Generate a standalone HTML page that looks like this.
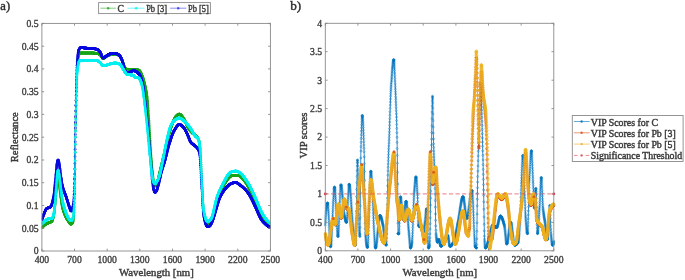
<!DOCTYPE html><html><head><meta charset="utf-8"><style>html,body{margin:0;padding:0;background:#fff;}svg{display:block;will-change:transform;} text{stroke:#3a3a3a;stroke-width:0.42px;} .tl text{stroke:#3c3c3c;stroke-width:0.34px;}</style></head><body><svg width="685" height="280" viewBox="0 0 685 280"><defs><marker id="mb" markerUnits="userSpaceOnUse" markerWidth="6" markerHeight="6" refX="3" refY="3" overflow="visible"><circle cx="3" cy="3" r="1.0" fill="none" stroke="#0072bd" stroke-width="0.55" stroke-opacity="0.8"/></marker><marker id="mo" markerUnits="userSpaceOnUse" markerWidth="6" markerHeight="6" refX="3" refY="3" overflow="visible"><circle cx="3" cy="3" r="1.1" fill="#d95319" fill-opacity="0.4" stroke="#d95319" stroke-width="0.5"/></marker><marker id="my" markerUnits="userSpaceOnUse" markerWidth="6" markerHeight="6" refX="3" refY="3" overflow="visible"><circle cx="3" cy="3" r="1.2" fill="none" stroke="#edb120" stroke-width="0.7"/></marker><marker id="lg" markerUnits="userSpaceOnUse" markerWidth="6" markerHeight="6" refX="3" refY="3" overflow="visible"><circle cx="3" cy="3" r="1.3" fill="#1aa51a"/></marker><marker id="lc" markerUnits="userSpaceOnUse" markerWidth="6" markerHeight="6" refX="3" refY="3" overflow="visible"><circle cx="3" cy="3" r="1.3" fill="#00f0f0"/></marker><marker id="lb" markerUnits="userSpaceOnUse" markerWidth="6" markerHeight="6" refX="3" refY="3" overflow="visible"><circle cx="3" cy="3" r="1.3" fill="#0a0ae0"/></marker></defs><rect width="685" height="280" fill="#fff"/><clipPath id="cl"><rect x="41.9" y="20.4" width="228.49999999999997" height="230.6"/></clipPath><g clip-path="url(#cl)" fill="none" stroke-linejoin="round"><path d="M41.9 227.9L42.0 227.8L42.1 227.6L42.2 227.5L42.3 227.4L42.4 227.3L42.6 227.1L42.7 227.0L42.8 226.9L42.9 226.7L43.0 226.6L43.1 226.5L43.2 226.4L43.3 226.3L43.4 226.1L43.5 226.0L43.6 225.9L43.7 225.8L43.9 225.7L44.0 225.6L44.1 225.5L44.2 225.4L44.3 225.3L44.4 225.2L44.5 225.1L44.6 225.0L44.7 224.9L44.8 224.8L44.9 224.8L45.1 224.7L45.2 224.6L45.3 224.5L45.4 224.5L45.5 224.4L45.6 224.3L45.7 224.3L45.8 224.2L45.9 224.1L46.0 224.1L46.1 224.0L46.3 223.9L46.4 223.9L46.5 223.8L46.6 223.8L46.7 223.7L46.8 223.7L46.9 223.6L47.0 223.6L47.1 223.5L47.2 223.5L47.3 223.4L47.4 223.4L47.6 223.3L47.7 223.3L47.8 223.2L47.9 223.2L48.0 223.1L48.1 223.1L48.2 223.0L48.3 223.0L48.4 222.9L48.5 222.9L48.6 222.8L48.8 222.8L48.9 222.7L49.0 222.7L49.1 222.6L49.2 222.6L49.3 222.5L49.4 222.5L49.5 222.5L49.6 222.4L49.7 222.4L49.8 222.4L50.0 222.3L50.1 222.3L50.2 222.2L50.3 222.2L50.4 222.2L50.5 222.1L50.6 222.1L50.7 222.0L50.8 222.0L50.9 221.9L51.0 221.9L51.1 221.8L51.3 221.7L51.4 221.7L51.5 221.6L51.6 221.5L51.7 221.4L51.8 221.3L51.9 221.2L52.0 221.0L52.1 220.8L52.2 220.6L52.3 220.3L52.5 220.0L52.6 219.7L52.7 219.4L52.8 219.1L52.9 218.7L53.0 218.3L53.1 217.9L53.2 217.5L53.3 217.0L53.4 216.6L53.5 216.1L53.7 215.6L53.8 215.1L53.9 214.6L54.0 214.0L54.1 213.4L54.2 212.6L54.3 211.8L54.4 210.9L54.5 209.9L54.6 208.9L54.7 207.8L54.8 206.7L55.0 205.6L55.1 204.4L55.2 203.3L55.3 202.1L55.4 200.9L55.5 199.8L55.6 198.6L55.7 197.5L55.8 196.4L55.9 195.2L56.0 194.0L56.2 192.8L56.3 191.4L56.4 190.1L56.5 188.8L56.6 187.5L56.7 186.3L56.8 185.2L56.9 184.2L57.0 183.4L57.1 182.7L57.2 182.1L57.4 181.6L57.5 181.0L57.6 180.5L57.7 180.0L57.8 179.6L57.9 179.3L58.0 179.1L58.1 179.1L58.2 179.2L58.3 179.4L58.4 179.8L58.5 180.4L58.7 181.0L58.8 181.6L58.9 182.3L59.0 183.0L59.1 183.6L59.2 184.3L59.3 185.1L59.4 185.9L59.5 186.8L59.6 187.7L59.7 188.7L59.9 189.6L60.0 190.6L60.1 191.5L60.2 192.4L60.3 193.3L60.4 194.1L60.5 194.9L60.6 195.7L60.7 196.4L60.8 197.2L60.9 198.0L61.1 198.8L61.2 199.5L61.3 200.3L61.4 201.1L61.5 201.8L61.6 202.5L61.7 203.2L61.8 203.9L61.9 204.5L62.0 205.1L62.1 205.7L62.2 206.3L62.4 206.8L62.5 207.3L62.6 207.8L62.7 208.2L62.8 208.6L62.9 209.0L63.0 209.4L63.1 209.8L63.2 210.1L63.3 210.5L63.4 210.9L63.6 211.2L63.7 211.5L63.8 211.9L63.9 212.2L64.0 212.5L64.1 212.8L64.2 213.1L64.3 213.4L64.4 213.6L64.5 213.9L64.6 214.2L64.8 214.5L64.9 214.7L65.0 215.0L65.1 215.2L65.2 215.5L65.3 215.7L65.4 215.9L65.5 216.2L65.6 216.4L65.7 216.6L65.8 216.9L65.9 217.1L66.1 217.3L66.2 217.5L66.3 217.7L66.4 217.9L66.5 218.1L66.6 218.3L66.7 218.5L66.8 218.7L66.9 218.9L67.0 219.1L67.1 219.3L67.3 219.5L67.4 219.6L67.5 219.8L67.6 220.0L67.7 220.1L67.8 220.3L67.9 220.5L68.0 220.6L68.1 220.8L68.2 221.0L68.3 221.1L68.4 221.3L68.6 221.4L68.7 221.6L68.8 221.7L68.9 221.9L69.0 222.1L69.1 222.2L69.2 222.4L69.3 222.6L69.4 222.8L69.5 222.9L69.6 223.1L69.8 223.3L69.9 223.4L70.0 223.5L70.1 223.7L70.2 223.8L70.3 223.9L70.4 224.0L70.5 224.0L70.6 224.1L70.7 224.1L70.8 224.1L71.0 224.1L71.1 224.1L71.2 224.1L71.3 224.0L71.4 224.0L71.5 223.9L71.6 223.8L71.7 223.7L71.8 223.6L71.9 223.5L72.0 223.4L72.1 223.2L72.3 223.1L72.4 222.9L72.5 222.7L72.6 222.5L72.7 222.3L72.8 222.1L72.9 221.9L73.0 221.6L73.1 221.1L73.2 220.5L73.3 219.7L73.5 218.8L73.6 217.8L73.7 216.6L73.8 215.3L73.9 213.9L74.0 212.3L74.1 210.1L74.2 207.0L74.3 203.1L74.4 198.5L74.5 193.5L74.7 188.2L74.8 182.7L74.9 176.5L75.0 169.0L75.1 160.8L75.2 152.4L75.3 144.4L75.4 137.2L75.5 130.6L75.6 124.1L75.7 117.8L75.8 111.6L76.0 105.9L76.1 100.5L76.2 95.8L76.3 91.7L76.4 88.0L76.5 84.4L76.6 81.0L76.7 77.8L76.8 74.8L76.9 72.0L77.0 69.6L77.2 67.5L77.3 65.7L77.4 64.4L77.5 63.3L77.6 62.2L77.7 61.3L77.8 60.4L77.9 59.5L78.0 58.8L78.1 58.0L78.2 57.4L78.4 56.8L78.5 56.3L78.6 55.8L78.7 55.4L78.8 55.1L78.9 54.8L79.0 54.6L79.1 54.3L79.2 54.1L79.3 53.9L79.4 53.7L79.5 53.5L79.7 53.4L79.8 53.2L79.9 53.1L80.0 53.1L80.1 53.0L80.2 53.0L80.3 53.0L80.4 53.0L80.5 53.0L80.6 53.0L80.7 53.0L80.9 53.0L81.0 53.0L81.1 53.0L81.2 53.0L81.3 53.0L81.4 53.0L81.5 53.0L81.6 53.0L81.7 53.0L81.8 53.0L81.9 53.0L82.1 53.0L82.2 53.0L82.3 53.0L82.4 53.0L82.5 53.0L82.6 53.0L82.7 53.0L82.8 53.0L82.9 53.0L83.0 53.0L83.1 53.0L83.2 53.0L83.4 53.0L83.5 53.0L83.6 53.0L83.7 53.0L83.8 53.0L83.9 53.0L84.0 53.0L84.1 53.0L84.2 53.0L84.3 53.0L84.4 53.0L84.6 53.0L84.7 53.0L84.8 53.0L84.9 53.0L85.0 53.0L85.1 53.0L85.2 53.0L85.3 53.0L85.4 53.0L85.5 53.0L85.6 53.0L85.8 53.0L85.9 53.0L86.0 53.0L86.1 53.0L86.2 53.0L86.3 53.0L86.4 53.0L86.5 53.0L86.6 53.0L86.7 53.0L86.8 53.0L86.9 53.0L87.1 53.0L87.2 53.0L87.3 53.0L87.4 53.0L87.5 53.0L87.6 53.0L87.7 53.0L87.8 53.0L87.9 53.0L88.0 53.0L88.1 53.0L88.3 53.0L88.4 53.0L88.5 53.0L88.6 53.0L88.7 53.0L88.8 53.0L88.9 53.0L89.0 53.0L89.1 53.0L89.2 53.0L89.3 53.0L89.4 53.0L89.6 53.0L89.7 53.0L89.8 53.0L89.9 53.0L90.0 53.0L90.1 53.0L90.2 53.0L90.3 53.0L90.4 53.0L90.5 53.0L90.6 53.0L90.8 53.0L90.9 53.0L91.0 53.0L91.1 53.0L91.2 53.0L91.3 53.0L91.4 53.0L91.5 53.0L91.6 53.0L91.7 53.0L91.8 53.0L92.0 53.0L92.1 53.0L92.2 53.0L92.3 53.0L92.4 53.0L92.5 53.0L92.6 53.0L92.7 53.0L92.8 53.0L92.9 53.0L93.0 53.0L93.1 53.1L93.3 53.1L93.4 53.1L93.5 53.1L93.6 53.1L93.7 53.1L93.8 53.1L93.9 53.1L94.0 53.1L94.1 53.1L94.2 53.1L94.3 53.1L94.5 53.1L94.6 53.2L94.7 53.2L94.8 53.2L94.9 53.2L95.0 53.2L95.1 53.2L95.2 53.2L95.3 53.2L95.4 53.2L95.5 53.3L95.7 53.3L95.8 53.3L95.9 53.3L96.0 53.3L96.1 53.3L96.2 53.3L96.3 53.3L96.4 53.4L96.5 53.4L96.6 53.4L96.7 53.4L96.8 53.4L97.0 53.4L97.1 53.4L97.2 53.5L97.3 53.5L97.4 53.5L97.5 53.5L97.6 53.6L97.7 53.6L97.8 53.6L97.9 53.7L98.0 53.7L98.2 53.7L98.3 53.8L98.4 53.8L98.5 53.9L98.6 53.9L98.7 54.0L98.8 54.0L98.9 54.1L99.0 54.2L99.1 54.2L99.2 54.3L99.4 54.3L99.5 54.4L99.6 54.5L99.7 54.5L99.8 54.6L99.9 54.7L100.0 54.7L100.1 54.8L100.2 54.9L100.3 55.0L100.4 55.1L100.5 55.2L100.7 55.4L100.8 55.5L100.9 55.7L101.0 55.8L101.1 56.0L101.2 56.2L101.3 56.3L101.4 56.5L101.5 56.7L101.6 56.9L101.7 57.1L101.9 57.2L102.0 57.4L102.1 57.6L102.2 57.7L102.3 57.8L102.4 58.0L102.5 58.1L102.6 58.2L102.7 58.3L102.8 58.4L102.9 58.4L103.1 58.4L103.2 58.5L103.3 58.4L103.4 58.4L103.5 58.4L103.6 58.4L103.7 58.3L103.8 58.3L103.9 58.2L104.0 58.2L104.1 58.1L104.2 58.0L104.4 57.9L104.5 57.9L104.6 57.8L104.7 57.7L104.8 57.6L104.9 57.5L105.0 57.4L105.1 57.3L105.2 57.2L105.3 57.2L105.4 57.1L105.6 57.0L105.7 56.9L105.8 56.8L105.9 56.8L106.0 56.7L106.1 56.6L106.2 56.6L106.3 56.5L106.4 56.5L106.5 56.4L106.6 56.3L106.8 56.3L106.9 56.2L107.0 56.2L107.1 56.1L107.2 56.1L107.3 56.0L107.4 55.9L107.5 55.9L107.6 55.8L107.7 55.8L107.8 55.7L107.9 55.7L108.1 55.6L108.2 55.6L108.3 55.5L108.4 55.5L108.5 55.4L108.6 55.4L108.7 55.3L108.8 55.3L108.9 55.2L109.0 55.2L109.1 55.1L109.3 55.1L109.4 55.0L109.5 55.0L109.6 55.0L109.7 54.9L109.8 54.9L109.9 54.9L110.0 54.8L110.1 54.8L110.2 54.8L110.3 54.8L110.4 54.7L110.6 54.7L110.7 54.7L110.8 54.6L110.9 54.6L111.0 54.6L111.1 54.6L111.2 54.5L111.3 54.5L111.4 54.5L111.5 54.4L111.6 54.4L111.8 54.4L111.9 54.4L112.0 54.3L112.1 54.3L112.2 54.3L112.3 54.3L112.4 54.2L112.5 54.2L112.6 54.2L112.7 54.2L112.8 54.1L113.0 54.1L113.1 54.1L113.2 54.1L113.3 54.1L113.4 54.0L113.5 54.0L113.6 54.0L113.7 54.0L113.8 54.0L113.9 54.0L114.0 54.0L114.1 53.9L114.3 53.9L114.4 53.9L114.5 53.9L114.6 53.9L114.7 53.9L114.8 53.9L114.9 53.9L115.0 53.9L115.1 53.9L115.2 53.9L115.3 53.9L115.5 53.9L115.6 53.9L115.7 53.9L115.8 54.0L115.9 54.0L116.0 54.0L116.1 54.0L116.2 54.1L116.3 54.1L116.4 54.1L116.5 54.1L116.7 54.2L116.8 54.2L116.9 54.3L117.0 54.3L117.1 54.4L117.2 54.4L117.3 54.5L117.4 54.5L117.5 54.6L117.6 54.6L117.7 54.7L117.8 54.7L118.0 54.8L118.1 54.9L118.2 54.9L118.3 55.0L118.4 55.1L118.5 55.1L118.6 55.2L118.7 55.3L118.8 55.3L118.9 55.4L119.0 55.5L119.2 55.6L119.3 55.6L119.4 55.7L119.5 55.8L119.6 55.9L119.7 56.0L119.8 56.1L119.9 56.2L120.0 56.4L120.1 56.5L120.2 56.7L120.4 56.8L120.5 57.0L120.6 57.1L120.7 57.3L120.8 57.5L120.9 57.7L121.0 57.9L121.1 58.1L121.2 58.3L121.3 58.5L121.4 58.7L121.5 58.9L121.7 59.1L121.8 59.4L121.9 59.7L122.0 60.0L122.1 60.3L122.2 60.6L122.3 60.9L122.4 61.3L122.5 61.6L122.6 61.9L122.7 62.3L122.9 62.6L123.0 62.9L123.1 63.2L123.2 63.5L123.3 63.8L123.4 64.1L123.5 64.4L123.6 64.6L123.7 64.9L123.8 65.2L123.9 65.5L124.1 65.8L124.2 66.1L124.3 66.4L124.4 66.7L124.5 66.9L124.6 67.2L124.7 67.5L124.8 67.7L124.9 68.0L125.0 68.2L125.1 68.4L125.2 68.5L125.4 68.7L125.5 68.8L125.6 68.9L125.7 68.9L125.8 68.9L125.9 69.0L126.0 69.0L126.1 69.0L126.2 69.1L126.3 69.1L126.4 69.1L126.6 69.1L126.7 69.2L126.8 69.2L126.9 69.2L127.0 69.2L127.1 69.2L127.2 69.2L127.3 69.3L127.4 69.3L127.5 69.3L127.6 69.3L127.8 69.3L127.9 69.3L128.0 69.3L128.1 69.3L128.2 69.4L128.3 69.4L128.4 69.4L128.5 69.4L128.6 69.4L128.7 69.4L128.8 69.4L128.9 69.4L129.1 69.4L129.2 69.4L129.3 69.4L129.4 69.4L129.5 69.4L129.6 69.4L129.7 69.4L129.8 69.4L129.9 69.4L130.0 69.4L130.1 69.4L130.3 69.4L130.4 69.4L130.5 69.4L130.6 69.4L130.7 69.4L130.8 69.4L130.9 69.4L131.0 69.4L131.1 69.4L131.2 69.4L131.3 69.4L131.5 69.4L131.6 69.4L131.7 69.4L131.8 69.4L131.9 69.4L132.0 69.4L132.1 69.4L132.2 69.4L132.3 69.4L132.4 69.4L132.5 69.4L132.6 69.4L132.8 69.4L132.9 69.4L133.0 69.4L133.1 69.4L133.2 69.4L133.3 69.4L133.4 69.4L133.5 69.4L133.6 69.4L133.7 69.4L133.8 69.4L134.0 69.4L134.1 69.4L134.2 69.4L134.3 69.4L134.4 69.4L134.5 69.4L134.6 69.4L134.7 69.4L134.8 69.4L134.9 69.4L135.0 69.4L135.1 69.4L135.3 69.4L135.4 69.4L135.5 69.4L135.6 69.4L135.7 69.4L135.8 69.4L135.9 69.4L136.0 69.5L136.1 69.5L136.2 69.5L136.3 69.5L136.5 69.5L136.6 69.6L136.7 69.6L136.8 69.6L136.9 69.6L137.0 69.7L137.1 69.7L137.2 69.7L137.3 69.8L137.4 69.8L137.5 69.9L137.7 69.9L137.8 69.9L137.9 70.0L138.0 70.0L138.1 70.1L138.2 70.1L138.3 70.2L138.4 70.2L138.5 70.3L138.6 70.3L138.7 70.4L138.8 70.4L139.0 70.5L139.1 70.6L139.2 70.6L139.3 70.7L139.4 70.7L139.5 70.8L139.6 70.9L139.7 71.0L139.8 71.1L139.9 71.3L140.0 71.4L140.2 71.6L140.3 71.7L140.4 71.9L140.5 72.1L140.6 72.3L140.7 72.5L140.8 72.7L140.9 73.0L141.0 73.2L141.1 73.4L141.2 73.7L141.4 73.9L141.5 74.2L141.6 74.4L141.7 74.7L141.8 75.0L141.9 75.2L142.0 75.5L142.1 75.7L142.2 76.0L142.3 76.3L142.4 76.6L142.5 76.9L142.7 77.2L142.8 77.5L142.9 77.8L143.0 78.1L143.1 78.5L143.2 78.8L143.3 79.1L143.4 79.5L143.5 79.9L143.6 80.3L143.7 80.6L143.9 81.0L144.0 81.4L144.1 81.8L144.2 82.2L144.3 82.7L144.4 83.1L144.5 83.5L144.6 84.0L144.7 84.4L144.8 84.8L144.9 85.3L145.1 85.8L145.2 86.2L145.3 86.7L145.4 87.2L145.5 87.7L145.6 88.1L145.7 88.6L145.8 89.2L145.9 89.7L146.0 90.2L146.1 90.8L146.2 91.4L146.4 92.0L146.5 92.7L146.6 93.3L146.7 94.0L146.8 94.7L146.9 95.5L147.0 96.3L147.1 97.1L147.2 98.1L147.3 99.1L147.4 100.2L147.6 101.4L147.7 102.7L147.8 104.1L147.9 105.5L148.0 107.0L148.1 108.6L148.2 110.2L148.3 111.8L148.4 113.5L148.5 115.2L148.6 116.9L148.8 118.5L148.9 120.2L149.0 121.9L149.1 123.5L149.2 125.2L149.3 127.0L149.4 128.8L149.5 130.6L149.6 132.5L149.7 134.4L149.8 136.4L149.9 138.3L150.1 140.2L150.2 142.1L150.3 144.0L150.4 145.8L150.5 147.6L150.6 149.2L150.7 150.9L150.8 152.4L150.9 154.0L151.0 155.5L151.1 157.0L151.3 158.5L151.4 159.9L151.5 161.3L151.6 162.7L151.7 164.1L151.8 165.4L151.9 166.7L152.0 167.9L152.1 169.1L152.2 170.3L152.3 171.3L152.5 172.4L152.6 173.5L152.7 174.5L152.8 175.6L152.9 176.6L153.0 177.6L153.1 178.6L153.2 179.5L153.3 180.3L153.4 181.0L153.5 181.7L153.6 182.3L153.8 182.7L153.9 183.1L154.0 183.5L154.1 183.9L154.2 184.3L154.3 184.6L154.4 184.9L154.5 185.2L154.6 185.4L154.7 185.6L154.8 185.8L155.0 185.9L155.1 185.9L155.2 185.9L155.3 185.9L155.4 185.8L155.5 185.7L155.6 185.6L155.7 185.5L155.8 185.4L155.9 185.3L156.0 185.1L156.1 185.0L156.3 184.8L156.4 184.6L156.5 184.4L156.6 184.3L156.7 184.1L156.8 183.9L156.9 183.7L157.0 183.4L157.1 183.1L157.2 182.8L157.3 182.4L157.5 182.0L157.6 181.6L157.7 181.2L157.8 180.8L157.9 180.3L158.0 179.9L158.1 179.4L158.2 178.9L158.3 178.4L158.4 177.9L158.5 177.4L158.7 176.9L158.8 176.4L158.9 176.0L159.0 175.5L159.1 175.0L159.2 174.5L159.3 174.1L159.4 173.6L159.5 173.2L159.6 172.7L159.7 172.3L159.8 171.9L160.0 171.4L160.1 171.0L160.2 170.5L160.3 170.1L160.4 169.6L160.5 169.2L160.6 168.7L160.7 168.3L160.8 167.8L160.9 167.4L161.0 166.9L161.2 166.5L161.3 166.0L161.4 165.5L161.5 165.1L161.6 164.6L161.7 164.2L161.8 163.7L161.9 163.2L162.0 162.8L162.1 162.3L162.2 161.8L162.4 161.4L162.5 160.9L162.6 160.5L162.7 160.0L162.8 159.5L162.9 159.1L163.0 158.6L163.1 158.2L163.2 157.7L163.3 157.2L163.4 156.8L163.5 156.3L163.7 155.9L163.8 155.4L163.9 155.0L164.0 154.5L164.1 154.0L164.2 153.6L164.3 153.1L164.4 152.6L164.5 152.2L164.6 151.7L164.7 151.2L164.9 150.7L165.0 150.3L165.1 149.8L165.2 149.3L165.3 148.8L165.4 148.4L165.5 147.9L165.6 147.4L165.7 146.9L165.8 146.5L165.9 146.0L166.1 145.5L166.2 145.0L166.3 144.6L166.4 144.1L166.5 143.6L166.6 143.2L166.7 142.7L166.8 142.3L166.9 141.8L167.0 141.4L167.1 140.9L167.2 140.5L167.4 140.1L167.5 139.6L167.6 139.2L167.7 138.8L167.8 138.4L167.9 138.0L168.0 137.6L168.1 137.2L168.2 136.8L168.3 136.4L168.4 136.0L168.6 135.7L168.7 135.3L168.8 134.9L168.9 134.5L169.0 134.1L169.1 133.8L169.2 133.4L169.3 133.0L169.4 132.6L169.5 132.3L169.6 131.9L169.8 131.5L169.9 131.2L170.0 130.8L170.1 130.5L170.2 130.1L170.3 129.8L170.4 129.4L170.5 129.1L170.6 128.7L170.7 128.4L170.8 128.1L170.9 127.7L171.1 127.4L171.2 127.1L171.3 126.8L171.4 126.5L171.5 126.2L171.6 125.8L171.7 125.5L171.8 125.2L171.9 125.0L172.0 124.7L172.1 124.4L172.3 124.1L172.4 123.8L172.5 123.5L172.6 123.3L172.7 123.0L172.8 122.7L172.9 122.5L173.0 122.2L173.1 121.9L173.2 121.6L173.3 121.4L173.5 121.1L173.6 120.8L173.7 120.6L173.8 120.3L173.9 120.1L174.0 119.8L174.1 119.6L174.2 119.3L174.3 119.1L174.4 118.8L174.5 118.6L174.6 118.4L174.8 118.2L174.9 118.0L175.0 117.8L175.1 117.6L175.2 117.4L175.3 117.3L175.4 117.1L175.5 117.0L175.6 116.8L175.7 116.7L175.8 116.6L176.0 116.5L176.1 116.4L176.2 116.2L176.3 116.1L176.4 116.0L176.5 115.9L176.6 115.8L176.7 115.7L176.8 115.6L176.9 115.5L177.0 115.4L177.2 115.3L177.3 115.2L177.4 115.1L177.5 115.0L177.6 114.9L177.7 114.8L177.8 114.7L177.9 114.6L178.0 114.6L178.1 114.5L178.2 114.4L178.3 114.4L178.5 114.3L178.6 114.3L178.7 114.2L178.8 114.2L178.9 114.2L179.0 114.2L179.1 114.1L179.2 114.1L179.3 114.1L179.4 114.1L179.5 114.1L179.7 114.2L179.8 114.2L179.9 114.2L180.0 114.3L180.1 114.3L180.2 114.4L180.3 114.5L180.4 114.6L180.5 114.6L180.6 114.7L180.7 114.8L180.8 114.9L181.0 115.0L181.1 115.1L181.2 115.3L181.3 115.4L181.4 115.5L181.5 115.6L181.6 115.8L181.7 115.9L181.8 116.0L181.9 116.2L182.0 116.3L182.2 116.5L182.3 116.6L182.4 116.8L182.5 116.9L182.6 117.1L182.7 117.2L182.8 117.4L182.9 117.5L183.0 117.6L183.1 117.8L183.2 117.9L183.4 118.1L183.5 118.2L183.6 118.4L183.7 118.5L183.8 118.7L183.9 118.9L184.0 119.1L184.1 119.3L184.2 119.5L184.3 119.7L184.4 119.9L184.5 120.1L184.7 120.3L184.8 120.5L184.9 120.8L185.0 121.0L185.1 121.2L185.2 121.5L185.3 121.7L185.4 122.0L185.5 122.2L185.6 122.5L185.7 122.7L185.9 123.0L186.0 123.2L186.1 123.5L186.2 123.7L186.3 124.0L186.4 124.2L186.5 124.5L186.6 124.7L186.7 125.0L186.8 125.2L186.9 125.5L187.1 125.7L187.2 125.9L187.3 126.2L187.4 126.4L187.5 126.6L187.6 126.8L187.7 127.1L187.8 127.3L187.9 127.5L188.0 127.7L188.1 127.9L188.2 128.0L188.4 128.2L188.5 128.4L188.6 128.6L188.7 128.7L188.8 128.9L188.9 129.0L189.0 129.2L189.1 129.3L189.2 129.5L189.3 129.6L189.4 129.7L189.6 129.9L189.7 130.0L189.8 130.1L189.9 130.3L190.0 130.4L190.1 130.5L190.2 130.7L190.3 130.8L190.4 130.9L190.5 131.0L190.6 131.2L190.8 131.3L190.9 131.4L191.0 131.5L191.1 131.6L191.2 131.8L191.3 131.9L191.4 132.0L191.5 132.1L191.6 132.2L191.7 132.3L191.8 132.4L191.9 132.5L192.1 132.6L192.2 132.8L192.3 132.9L192.4 133.0L192.5 133.1L192.6 133.2L192.7 133.3L192.8 133.4L192.9 133.5L193.0 133.6L193.1 133.6L193.3 133.7L193.4 133.8L193.5 133.9L193.6 134.0L193.7 134.1L193.8 134.2L193.9 134.3L194.0 134.4L194.1 134.5L194.2 134.5L194.3 134.6L194.5 134.7L194.6 134.8L194.7 134.9L194.8 135.0L194.9 135.1L195.0 135.2L195.1 135.3L195.2 135.4L195.3 135.5L195.4 135.6L195.5 135.7L195.6 135.8L195.8 135.9L195.9 136.1L196.0 136.2L196.1 136.3L196.2 136.4L196.3 136.5L196.4 136.5L196.5 136.6L196.6 136.7L196.7 136.8L196.8 136.9L197.0 137.1L197.1 137.2L197.2 137.3L197.3 137.4L197.4 137.5L197.5 137.6L197.6 137.8L197.7 137.9L197.8 138.1L197.9 138.2L198.0 138.4L198.2 138.6L198.3 138.8L198.4 139.0L198.5 139.2L198.6 139.5L198.7 139.8L198.8 140.1L198.9 140.6L199.0 141.1L199.1 141.6L199.2 142.3L199.3 143.0L199.5 143.7L199.6 144.5L199.7 145.4L199.8 146.3L199.9 147.2L200.0 148.3L200.1 149.6L200.2 151.1L200.3 152.8L200.4 154.6L200.5 156.5L200.7 158.5L200.8 160.5L200.9 162.5L201.0 164.5L201.1 166.6L201.2 168.7L201.3 171.0L201.4 173.4L201.5 175.8L201.6 178.2L201.7 180.5L201.8 182.9L202.0 185.1L202.1 187.3L202.2 189.4L202.3 191.6L202.4 193.8L202.5 196.0L202.6 198.2L202.7 200.3L202.8 202.4L202.9 204.3L203.0 206.0L203.2 207.6L203.3 208.9L203.4 210.0L203.5 210.9L203.6 211.8L203.7 212.6L203.8 213.3L203.9 214.0L204.0 214.6L204.1 215.2L204.2 215.8L204.4 216.3L204.5 216.8L204.6 217.3L204.7 217.8L204.8 218.2L204.9 218.7L205.0 219.1L205.1 219.5L205.2 219.9L205.3 220.3L205.4 220.7L205.5 221.1L205.7 221.4L205.8 221.8L205.9 222.0L206.0 222.3L206.1 222.6L206.2 222.8L206.3 223.0L206.4 223.2L206.5 223.4L206.6 223.6L206.7 223.7L206.9 223.9L207.0 224.1L207.1 224.3L207.2 224.4L207.3 224.5L207.4 224.6L207.5 224.7L207.6 224.8L207.7 224.8L207.8 224.8L207.9 224.8L208.1 224.8L208.2 224.8L208.3 224.7L208.4 224.7L208.5 224.6L208.6 224.6L208.7 224.5L208.8 224.4L208.9 224.3L209.0 224.3L209.1 224.2L209.2 224.1L209.4 224.0L209.5 223.9L209.6 223.8L209.7 223.7L209.8 223.6L209.9 223.5L210.0 223.3L210.1 223.2L210.2 223.1L210.3 222.9L210.4 222.7L210.6 222.6L210.7 222.4L210.8 222.2L210.9 222.0L211.0 221.8L211.1 221.6L211.2 221.4L211.3 221.2L211.4 221.0L211.5 220.7L211.6 220.5L211.8 220.2L211.9 220.0L212.0 219.7L212.1 219.4L212.2 219.1L212.3 218.8L212.4 218.5L212.5 218.2L212.6 217.8L212.7 217.5L212.8 217.1L212.9 216.8L213.1 216.4L213.2 216.0L213.3 215.6L213.4 215.2L213.5 214.8L213.6 214.4L213.7 214.0L213.8 213.6L213.9 213.2L214.0 212.8L214.1 212.3L214.3 211.9L214.4 211.5L214.5 211.0L214.6 210.6L214.7 210.1L214.8 209.7L214.9 209.2L215.0 208.8L215.1 208.4L215.2 207.9L215.3 207.5L215.5 207.0L215.6 206.6L215.7 206.1L215.8 205.7L215.9 205.2L216.0 204.8L216.1 204.4L216.2 203.9L216.3 203.5L216.4 203.1L216.5 202.6L216.6 202.2L216.8 201.8L216.9 201.4L217.0 201.0L217.1 200.6L217.2 200.2L217.3 199.9L217.4 199.5L217.5 199.1L217.6 198.8L217.7 198.4L217.8 198.1L218.0 197.8L218.1 197.4L218.2 197.1L218.3 196.8L218.4 196.6L218.5 196.3L218.6 196.0L218.7 195.7L218.8 195.5L218.9 195.2L219.0 194.9L219.2 194.7L219.3 194.4L219.4 194.1L219.5 193.9L219.6 193.6L219.7 193.4L219.8 193.1L219.9 192.9L220.0 192.6L220.1 192.4L220.2 192.1L220.3 191.9L220.5 191.7L220.6 191.4L220.7 191.2L220.8 191.0L220.9 190.7L221.0 190.5L221.1 190.3L221.2 190.0L221.3 189.8L221.4 189.6L221.5 189.4L221.7 189.2L221.8 188.9L221.9 188.7L222.0 188.5L222.1 188.3L222.2 188.1L222.3 187.9L222.4 187.7L222.5 187.5L222.6 187.3L222.7 187.1L222.9 186.9L223.0 186.7L223.1 186.5L223.2 186.3L223.3 186.1L223.4 185.9L223.5 185.7L223.6 185.5L223.7 185.3L223.8 185.1L223.9 184.9L224.0 184.7L224.2 184.5L224.3 184.4L224.4 184.2L224.5 184.0L224.6 183.8L224.7 183.6L224.8 183.4L224.9 183.3L225.0 183.1L225.1 182.9L225.2 182.7L225.4 182.6L225.5 182.4L225.6 182.2L225.7 182.0L225.8 181.9L225.9 181.7L226.0 181.5L226.1 181.3L226.2 181.2L226.3 181.0L226.4 180.8L226.5 180.7L226.7 180.5L226.8 180.4L226.9 180.2L227.0 180.1L227.1 179.9L227.2 179.8L227.3 179.6L227.4 179.5L227.5 179.3L227.6 179.2L227.7 179.0L227.9 178.9L228.0 178.8L228.1 178.6L228.2 178.5L228.3 178.4L228.4 178.3L228.5 178.2L228.6 178.1L228.7 177.9L228.8 177.8L228.9 177.7L229.1 177.6L229.2 177.5L229.3 177.4L229.4 177.2L229.5 177.1L229.6 177.0L229.7 176.9L229.8 176.8L229.9 176.7L230.0 176.6L230.1 176.5L230.2 176.4L230.4 176.3L230.5 176.2L230.6 176.2L230.7 176.1L230.8 176.1L230.9 176.0L231.0 176.0L231.1 175.9L231.2 175.9L231.3 175.9L231.4 175.8L231.6 175.8L231.7 175.8L231.8 175.8L231.9 175.8L232.0 175.7L232.1 175.7L232.2 175.7L232.3 175.7L232.4 175.7L232.5 175.6L232.6 175.6L232.8 175.6L232.9 175.6L233.0 175.6L233.1 175.6L233.2 175.5L233.3 175.5L233.4 175.5L233.5 175.5L233.6 175.5L233.7 175.5L233.8 175.5L233.9 175.4L234.1 175.4L234.2 175.4L234.3 175.4L234.4 175.4L234.5 175.4L234.6 175.4L234.7 175.4L234.8 175.3L234.9 175.3L235.0 175.3L235.1 175.3L235.3 175.3L235.4 175.3L235.5 175.3L235.6 175.3L235.7 175.3L235.8 175.3L235.9 175.3L236.0 175.3L236.1 175.3L236.2 175.2L236.3 175.2L236.5 175.2L236.6 175.2L236.7 175.2L236.8 175.2L236.9 175.2L237.0 175.2L237.1 175.2L237.2 175.2L237.3 175.2L237.4 175.2L237.5 175.2L237.6 175.2L237.8 175.2L237.9 175.2L238.0 175.2L238.1 175.2L238.2 175.3L238.3 175.3L238.4 175.3L238.5 175.4L238.6 175.4L238.7 175.4L238.8 175.5L239.0 175.5L239.1 175.6L239.2 175.7L239.3 175.7L239.4 175.8L239.5 175.9L239.6 176.0L239.7 176.0L239.8 176.1L239.9 176.2L240.0 176.3L240.2 176.4L240.3 176.5L240.4 176.6L240.5 176.7L240.6 176.8L240.7 176.9L240.8 177.0L240.9 177.1L241.0 177.2L241.1 177.3L241.2 177.4L241.3 177.5L241.5 177.6L241.6 177.7L241.7 177.8L241.8 177.9L241.9 178.0L242.0 178.1L242.1 178.2L242.2 178.3L242.3 178.4L242.4 178.5L242.5 178.6L242.7 178.7L242.8 178.8L242.9 178.9L243.0 179.0L243.1 179.1L243.2 179.2L243.3 179.4L243.4 179.5L243.5 179.6L243.6 179.7L243.7 179.9L243.9 180.0L244.0 180.1L244.1 180.2L244.2 180.4L244.3 180.5L244.4 180.6L244.5 180.8L244.6 180.9L244.7 181.1L244.8 181.2L244.9 181.4L245.0 181.5L245.2 181.7L245.3 181.8L245.4 182.0L245.5 182.1L245.6 182.3L245.7 182.4L245.8 182.6L245.9 182.7L246.0 182.9L246.1 183.0L246.2 183.2L246.4 183.4L246.5 183.5L246.6 183.7L246.7 183.9L246.8 184.1L246.9 184.3L247.0 184.4L247.1 184.6L247.2 184.8L247.3 185.0L247.4 185.2L247.5 185.4L247.7 185.6L247.8 185.8L247.9 186.0L248.0 186.2L248.1 186.4L248.2 186.6L248.3 186.8L248.4 187.0L248.5 187.2L248.6 187.4L248.7 187.7L248.9 187.9L249.0 188.1L249.1 188.3L249.2 188.5L249.3 188.7L249.4 188.9L249.5 189.1L249.6 189.3L249.7 189.5L249.8 189.8L249.9 190.0L250.1 190.2L250.2 190.4L250.3 190.6L250.4 190.8L250.5 191.0L250.6 191.3L250.7 191.5L250.8 191.7L250.9 191.9L251.0 192.1L251.1 192.4L251.2 192.6L251.4 192.8L251.5 193.0L251.6 193.3L251.7 193.5L251.8 193.7L251.9 193.9L252.0 194.2L252.1 194.4L252.2 194.6L252.3 194.9L252.4 195.1L252.6 195.3L252.7 195.6L252.8 195.8L252.9 196.0L253.0 196.3L253.1 196.5L253.2 196.7L253.3 197.0L253.4 197.2L253.5 197.4L253.6 197.7L253.8 197.9L253.9 198.1L254.0 198.4L254.1 198.6L254.2 198.8L254.3 199.1L254.4 199.3L254.5 199.5L254.6 199.8L254.7 200.0L254.8 200.2L254.9 200.5L255.1 200.7L255.2 200.9L255.3 201.2L255.4 201.4L255.5 201.6L255.6 201.9L255.7 202.1L255.8 202.3L255.9 202.6L256.0 202.8L256.1 203.1L256.3 203.3L256.4 203.6L256.5 203.8L256.6 204.0L256.7 204.3L256.8 204.5L256.9 204.8L257.0 205.0L257.1 205.3L257.2 205.5L257.3 205.8L257.5 206.0L257.6 206.3L257.7 206.5L257.8 206.8L257.9 207.0L258.0 207.3L258.1 207.5L258.2 207.8L258.3 208.0L258.4 208.2L258.5 208.5L258.6 208.7L258.8 209.0L258.9 209.2L259.0 209.5L259.1 209.7L259.2 210.0L259.3 210.2L259.4 210.4L259.5 210.7L259.6 210.9L259.7 211.1L259.8 211.4L260.0 211.6L260.1 211.8L260.2 212.1L260.3 212.3L260.4 212.5L260.5 212.7L260.6 213.0L260.7 213.2L260.8 213.4L260.9 213.6L261.0 213.8L261.2 214.0L261.3 214.2L261.4 214.4L261.5 214.6L261.6 214.8L261.7 215.0L261.8 215.2L261.9 215.4L262.0 215.6L262.1 215.8L262.2 216.0L262.3 216.2L262.5 216.4L262.6 216.6L262.7 216.8L262.8 217.0L262.9 217.2L263.0 217.3L263.1 217.5L263.2 217.7L263.3 217.9L263.4 218.1L263.5 218.3L263.7 218.4L263.8 218.6L263.9 218.8L264.0 219.0L264.1 219.1L264.2 219.3L264.3 219.5L264.4 219.6L264.5 219.8L264.6 220.0L264.7 220.1L264.9 220.3L265.0 220.4L265.1 220.6L265.2 220.8L265.3 220.9L265.4 221.0L265.5 221.2L265.6 221.3L265.7 221.5L265.8 221.6L265.9 221.7L266.0 221.9L266.2 222.0L266.3 222.1L266.4 222.2L266.5 222.4L266.6 222.5L266.7 222.6L266.8 222.7L266.9 222.9L267.0 223.0L267.1 223.1L267.2 223.2L267.4 223.3L267.5 223.4L267.6 223.6L267.7 223.7L267.8 223.8L267.9 223.9L268.0 224.0L268.1 224.1L268.2 224.2L268.3 224.3L268.4 224.4L268.6 224.5L268.7 224.6L268.8 224.7L268.9 224.8L269.0 224.9L269.1 225.0L269.2 225.1L269.3 225.2L269.4 225.3L269.5 225.4L269.6 225.4L269.7 225.5L269.9 225.6L270.0 225.7L270.1 225.7L270.2 225.8L270.3 225.9L270.4 226.0" stroke="#1aa51a" stroke-width="1.3" marker-mid="url(#lg)"/><path d="M41.9 220.0L42.0 219.7L42.1 219.3L42.2 219.0L42.3 218.6L42.4 218.3L42.6 217.9L42.7 217.6L42.8 217.2L42.9 216.9L43.0 216.6L43.1 216.3L43.2 216.0L43.3 215.7L43.4 215.4L43.5 215.1L43.6 214.8L43.7 214.5L43.9 214.2L44.0 213.9L44.1 213.7L44.2 213.4L44.3 213.1L44.4 212.9L44.5 212.6L44.6 212.3L44.7 212.1L44.8 211.8L44.9 211.5L45.1 211.3L45.2 211.0L45.3 210.8L45.4 210.5L45.5 210.3L45.6 210.1L45.7 209.9L45.8 209.7L45.9 209.5L46.0 209.3L46.1 209.1L46.3 209.0L46.4 208.9L46.5 208.8L46.6 208.7L46.7 208.6L46.8 208.5L46.9 208.4L47.0 208.4L47.1 208.3L47.2 208.3L47.3 208.2L47.4 208.2L47.6 208.1L47.7 208.1L47.8 208.0L47.9 208.0L48.0 208.0L48.1 207.9L48.2 207.9L48.3 207.9L48.4 207.8L48.5 207.8L48.6 207.8L48.8 207.7L48.9 207.7L49.0 207.7L49.1 207.6L49.2 207.6L49.3 207.6L49.4 207.5L49.5 207.5L49.6 207.4L49.7 207.4L49.8 207.3L50.0 207.3L50.1 207.2L50.2 207.2L50.3 207.1L50.4 207.0L50.5 206.9L50.6 206.8L50.7 206.7L50.8 206.6L50.9 206.5L51.0 206.3L51.1 206.1L51.3 205.8L51.4 205.6L51.5 205.3L51.6 205.0L51.7 204.7L51.8 204.4L51.9 204.0L52.0 203.7L52.1 203.3L52.2 202.9L52.3 202.5L52.5 202.0L52.6 201.6L52.7 201.1L52.8 200.7L52.9 200.2L53.0 199.7L53.1 199.2L53.2 198.7L53.3 198.2L53.4 197.6L53.5 197.0L53.7 196.3L53.8 195.5L53.9 194.7L54.0 193.9L54.1 192.9L54.2 192.0L54.3 191.0L54.4 189.9L54.5 188.9L54.6 187.8L54.7 186.7L54.8 185.6L55.0 184.5L55.1 183.4L55.2 182.3L55.3 181.2L55.4 180.1L55.5 179.1L55.6 178.0L55.7 176.8L55.8 175.6L55.9 174.3L56.0 173.0L56.2 171.7L56.3 170.4L56.4 169.2L56.5 168.1L56.6 167.0L56.7 166.0L56.8 165.2L56.9 164.5L57.0 163.9L57.1 163.3L57.2 162.7L57.4 162.2L57.5 161.7L57.6 161.2L57.7 160.8L57.8 160.4L57.9 160.2L58.0 160.0L58.1 160.0L58.2 160.0L58.3 160.2L58.4 160.5L58.5 160.8L58.7 161.2L58.8 161.7L58.9 162.3L59.0 162.8L59.1 163.4L59.2 164.0L59.3 164.5L59.4 165.1L59.5 165.8L59.6 166.6L59.7 167.4L59.9 168.3L60.0 169.2L60.1 170.2L60.2 171.1L60.3 172.0L60.4 172.9L60.5 173.7L60.6 174.5L60.7 175.3L60.8 176.0L60.9 176.8L61.1 177.5L61.2 178.2L61.3 179.0L61.4 179.7L61.5 180.4L61.6 181.1L61.7 181.7L61.8 182.4L61.9 183.0L62.0 183.7L62.1 184.3L62.2 184.8L62.4 185.4L62.5 185.9L62.6 186.4L62.7 186.8L62.8 187.3L62.9 187.7L63.0 188.1L63.1 188.5L63.2 188.8L63.3 189.2L63.4 189.6L63.6 189.9L63.7 190.2L63.8 190.6L63.9 190.9L64.0 191.2L64.1 191.5L64.2 191.8L64.3 192.1L64.4 192.4L64.5 192.7L64.6 193.0L64.8 193.2L64.9 193.5L65.0 193.8L65.1 194.0L65.2 194.3L65.3 194.5L65.4 194.8L65.5 195.1L65.6 195.3L65.7 195.6L65.8 195.9L65.9 196.2L66.1 196.5L66.2 196.9L66.3 197.2L66.4 197.5L66.5 197.8L66.6 198.2L66.7 198.5L66.8 198.9L66.9 199.2L67.0 199.6L67.1 199.9L67.3 200.2L67.4 200.6L67.5 200.9L67.6 201.3L67.7 201.6L67.8 202.0L67.9 202.3L68.0 202.7L68.1 203.0L68.2 203.4L68.3 203.8L68.4 204.1L68.6 204.5L68.7 204.8L68.8 205.2L68.9 205.5L69.0 205.9L69.1 206.2L69.2 206.5L69.3 206.9L69.4 207.2L69.5 207.5L69.6 207.8L69.8 208.1L69.9 208.4L70.0 208.7L70.1 209.0L70.2 209.3L70.3 209.7L70.4 210.0L70.5 210.2L70.6 210.5L70.7 210.7L70.8 210.8L71.0 210.9L71.1 210.9L71.2 210.9L71.3 210.9L71.4 210.8L71.5 210.7L71.6 210.5L71.7 210.3L71.8 210.1L71.9 209.9L72.0 209.6L72.1 209.4L72.3 209.1L72.4 208.7L72.5 208.4L72.6 208.0L72.7 207.6L72.8 207.3L72.9 206.8L73.0 206.4L73.1 205.8L73.2 205.1L73.3 204.2L73.5 203.2L73.6 202.1L73.7 200.9L73.8 199.5L73.9 198.0L74.0 196.4L74.1 194.2L74.2 191.3L74.3 187.6L74.4 183.5L74.5 178.9L74.7 174.0L74.8 169.1L74.9 163.4L75.0 156.6L75.1 149.2L75.2 141.7L75.3 134.5L75.4 128.1L75.5 122.2L75.6 116.4L75.7 110.8L75.8 105.3L76.0 100.2L76.1 95.4L76.2 91.0L76.3 87.1L76.4 83.6L76.5 80.1L76.6 76.7L76.7 73.5L76.8 70.4L76.9 67.7L77.0 65.2L77.2 63.0L77.3 61.2L77.4 59.8L77.5 58.7L77.6 57.6L77.7 56.6L77.8 55.6L77.9 54.7L78.0 53.9L78.1 53.1L78.2 52.4L78.4 51.8L78.5 51.2L78.6 50.8L78.7 50.4L78.8 50.0L78.9 49.8L79.0 49.6L79.1 49.4L79.2 49.2L79.3 49.0L79.4 48.9L79.5 48.7L79.7 48.6L79.8 48.4L79.9 48.3L80.0 48.2L80.1 48.0L80.2 47.9L80.3 47.8L80.4 47.8L80.5 47.7L80.6 47.6L80.7 47.6L80.9 47.6L81.0 47.5L81.1 47.5L81.2 47.5L81.3 47.5L81.4 47.5L81.5 47.5L81.6 47.6L81.7 47.6L81.8 47.6L81.9 47.6L82.1 47.6L82.2 47.6L82.3 47.6L82.4 47.6L82.5 47.7L82.6 47.7L82.7 47.7L82.8 47.7L82.9 47.7L83.0 47.8L83.1 47.8L83.2 47.8L83.4 47.8L83.5 47.8L83.6 47.9L83.7 47.9L83.8 47.9L83.9 47.9L84.0 47.9L84.1 47.9L84.2 48.0L84.3 48.0L84.4 48.0L84.6 48.0L84.7 48.0L84.8 48.0L84.9 48.0L85.0 48.0L85.1 48.0L85.2 48.0L85.3 48.1L85.4 48.1L85.5 48.1L85.6 48.1L85.8 48.1L85.9 48.1L86.0 48.1L86.1 48.1L86.2 48.1L86.3 48.1L86.4 48.1L86.5 48.1L86.6 48.1L86.7 48.2L86.8 48.2L86.9 48.2L87.1 48.2L87.2 48.2L87.3 48.2L87.4 48.2L87.5 48.2L87.6 48.2L87.7 48.2L87.8 48.2L87.9 48.2L88.0 48.2L88.1 48.2L88.3 48.2L88.4 48.3L88.5 48.3L88.6 48.3L88.7 48.3L88.8 48.3L88.9 48.3L89.0 48.3L89.1 48.3L89.2 48.3L89.3 48.3L89.4 48.3L89.6 48.3L89.7 48.3L89.8 48.3L89.9 48.4L90.0 48.4L90.1 48.4L90.2 48.4L90.3 48.4L90.4 48.4L90.5 48.4L90.6 48.4L90.8 48.4L90.9 48.4L91.0 48.4L91.1 48.5L91.2 48.5L91.3 48.5L91.4 48.5L91.5 48.5L91.6 48.5L91.7 48.5L91.8 48.5L92.0 48.5L92.1 48.5L92.2 48.6L92.3 48.6L92.4 48.6L92.5 48.6L92.6 48.6L92.7 48.6L92.8 48.6L92.9 48.6L93.0 48.6L93.1 48.7L93.3 48.7L93.4 48.7L93.5 48.7L93.6 48.7L93.7 48.7L93.8 48.7L93.9 48.7L94.0 48.8L94.1 48.8L94.2 48.8L94.3 48.8L94.5 48.8L94.6 48.8L94.7 48.8L94.8 48.9L94.9 48.9L95.0 48.9L95.1 48.9L95.2 48.9L95.3 48.9L95.4 49.0L95.5 49.0L95.7 49.0L95.8 49.0L95.9 49.0L96.0 49.1L96.1 49.1L96.2 49.1L96.3 49.1L96.4 49.2L96.5 49.2L96.6 49.2L96.7 49.2L96.8 49.3L97.0 49.3L97.1 49.3L97.2 49.3L97.3 49.4L97.4 49.4L97.5 49.5L97.6 49.5L97.7 49.6L97.8 49.7L97.9 49.7L98.0 49.8L98.2 49.9L98.3 50.0L98.4 50.1L98.5 50.2L98.6 50.3L98.7 50.4L98.8 50.5L98.9 50.6L99.0 50.8L99.1 50.9L99.2 51.0L99.4 51.1L99.5 51.3L99.6 51.4L99.7 51.5L99.8 51.7L99.9 51.8L100.0 51.9L100.1 52.1L100.2 52.2L100.3 52.4L100.4 52.6L100.5 52.8L100.7 53.0L100.8 53.3L100.9 53.5L101.0 53.8L101.1 54.1L101.2 54.4L101.3 54.7L101.4 54.9L101.5 55.2L101.6 55.5L101.7 55.8L101.9 56.1L102.0 56.3L102.1 56.6L102.2 56.8L102.3 57.0L102.4 57.2L102.5 57.4L102.6 57.6L102.7 57.7L102.8 57.8L102.9 57.9L103.1 58.0L103.2 58.0L103.3 58.0L103.4 58.0L103.5 58.0L103.6 57.9L103.7 57.9L103.8 57.8L103.9 57.8L104.0 57.7L104.1 57.7L104.2 57.6L104.4 57.5L104.5 57.4L104.6 57.3L104.7 57.3L104.8 57.2L104.9 57.1L105.0 57.0L105.1 56.9L105.2 56.8L105.3 56.7L105.4 56.6L105.6 56.6L105.7 56.5L105.8 56.4L105.9 56.3L106.0 56.2L106.1 56.2L106.2 56.1L106.3 56.0L106.4 56.0L106.5 55.9L106.6 55.8L106.8 55.8L106.9 55.7L107.0 55.6L107.1 55.5L107.2 55.5L107.3 55.4L107.4 55.3L107.5 55.2L107.6 55.2L107.7 55.1L107.8 55.0L107.9 54.9L108.1 54.9L108.2 54.8L108.3 54.7L108.4 54.6L108.5 54.6L108.6 54.5L108.7 54.4L108.8 54.4L108.9 54.3L109.0 54.3L109.1 54.2L109.3 54.2L109.4 54.1L109.5 54.1L109.6 54.0L109.7 54.0L109.8 54.0L109.9 53.9L110.0 53.9L110.1 53.9L110.2 53.9L110.3 53.9L110.4 53.8L110.6 53.8L110.7 53.8L110.8 53.8L110.9 53.8L111.0 53.8L111.1 53.8L111.2 53.7L111.3 53.7L111.4 53.7L111.5 53.7L111.6 53.7L111.8 53.7L111.9 53.7L112.0 53.6L112.1 53.6L112.2 53.6L112.3 53.6L112.4 53.6L112.5 53.6L112.6 53.6L112.7 53.6L112.8 53.5L113.0 53.5L113.1 53.5L113.2 53.5L113.3 53.5L113.4 53.5L113.5 53.5L113.6 53.5L113.7 53.5L113.8 53.5L113.9 53.5L114.0 53.5L114.1 53.5L114.3 53.5L114.4 53.5L114.5 53.5L114.6 53.4L114.7 53.4L114.8 53.4L114.9 53.4L115.0 53.4L115.1 53.4L115.2 53.4L115.3 53.4L115.5 53.5L115.6 53.5L115.7 53.5L115.8 53.5L115.9 53.5L116.0 53.5L116.1 53.6L116.2 53.6L116.3 53.6L116.4 53.7L116.5 53.7L116.7 53.7L116.8 53.8L116.9 53.8L117.0 53.8L117.1 53.9L117.2 53.9L117.3 54.0L117.4 54.0L117.5 54.1L117.6 54.2L117.7 54.2L117.8 54.3L118.0 54.3L118.1 54.4L118.2 54.5L118.3 54.5L118.4 54.6L118.5 54.7L118.6 54.7L118.7 54.8L118.8 54.9L118.9 55.0L119.0 55.0L119.2 55.1L119.3 55.2L119.4 55.3L119.5 55.4L119.6 55.5L119.7 55.6L119.8 55.7L119.9 55.8L120.0 56.0L120.1 56.2L120.2 56.3L120.4 56.5L120.5 56.7L120.6 56.9L120.7 57.1L120.8 57.3L120.9 57.6L121.0 57.8L121.1 58.0L121.2 58.2L121.3 58.5L121.4 58.7L121.5 58.9L121.7 59.2L121.8 59.5L121.9 59.8L122.0 60.1L122.1 60.4L122.2 60.7L122.3 61.0L122.4 61.3L122.5 61.7L122.6 62.0L122.7 62.3L122.9 62.7L123.0 63.0L123.1 63.4L123.2 63.7L123.3 64.1L123.4 64.6L123.5 65.0L123.6 65.5L123.7 65.9L123.8 66.4L123.9 66.9L124.1 67.4L124.2 67.8L124.3 68.2L124.4 68.7L124.5 69.1L124.6 69.4L124.7 69.8L124.8 70.1L124.9 70.3L125.0 70.6L125.1 70.7L125.2 70.9L125.4 71.0L125.5 71.2L125.6 71.3L125.7 71.4L125.8 71.6L125.9 71.7L126.0 71.8L126.1 71.9L126.2 72.0L126.3 72.2L126.4 72.3L126.6 72.4L126.7 72.4L126.8 72.5L126.9 72.6L127.0 72.7L127.1 72.8L127.2 72.8L127.3 72.9L127.4 72.9L127.5 72.9L127.6 73.0L127.8 73.0L127.9 73.0L128.0 73.0L128.1 73.0L128.2 73.0L128.3 73.0L128.4 73.0L128.5 73.0L128.6 72.9L128.7 72.9L128.8 72.9L128.9 72.8L129.1 72.8L129.2 72.8L129.3 72.7L129.4 72.7L129.5 72.6L129.6 72.6L129.7 72.5L129.8 72.4L129.9 72.4L130.0 72.3L130.1 72.3L130.3 72.2L130.4 72.1L130.5 72.1L130.6 72.0L130.7 71.9L130.8 71.9L130.9 71.8L131.0 71.7L131.1 71.7L131.2 71.6L131.3 71.6L131.5 71.5L131.6 71.4L131.7 71.4L131.8 71.3L131.9 71.3L132.0 71.2L132.1 71.1L132.2 71.1L132.3 71.0L132.4 71.0L132.5 71.0L132.6 70.9L132.8 70.9L132.9 70.9L133.0 70.8L133.1 70.8L133.2 70.8L133.3 70.8L133.4 70.8L133.5 70.7L133.6 70.7L133.7 70.7L133.8 70.7L134.0 70.8L134.1 70.8L134.2 70.8L134.3 70.8L134.4 70.8L134.5 70.8L134.6 70.9L134.7 70.9L134.8 70.9L134.9 71.0L135.0 71.0L135.1 71.1L135.3 71.1L135.4 71.1L135.5 71.2L135.6 71.2L135.7 71.3L135.8 71.4L135.9 71.4L136.0 71.5L136.1 71.5L136.2 71.6L136.3 71.7L136.5 71.7L136.6 71.8L136.7 71.9L136.8 72.0L136.9 72.1L137.0 72.1L137.1 72.2L137.2 72.3L137.3 72.4L137.4 72.5L137.5 72.6L137.7 72.7L137.8 72.8L137.9 72.9L138.0 73.0L138.1 73.1L138.2 73.2L138.3 73.3L138.4 73.4L138.5 73.5L138.6 73.6L138.7 73.7L138.8 73.8L139.0 73.9L139.1 74.0L139.2 74.2L139.3 74.3L139.4 74.4L139.5 74.5L139.6 74.6L139.7 74.8L139.8 75.0L139.9 75.2L140.0 75.4L140.2 75.6L140.3 75.8L140.4 76.0L140.5 76.3L140.6 76.6L140.7 76.8L140.8 77.1L140.9 77.4L141.0 77.7L141.1 78.0L141.2 78.3L141.4 78.6L141.5 78.9L141.6 79.3L141.7 79.6L141.8 80.0L141.9 80.4L142.0 80.8L142.1 81.2L142.2 81.7L142.3 82.1L142.4 82.6L142.5 83.1L142.7 83.6L142.8 84.2L142.9 84.7L143.0 85.3L143.1 85.9L143.2 86.5L143.3 87.1L143.4 87.8L143.5 88.5L143.6 89.3L143.7 90.1L143.9 91.0L144.0 91.9L144.1 92.8L144.2 93.8L144.3 94.7L144.4 95.7L144.5 96.7L144.6 97.6L144.7 98.5L144.8 99.4L144.9 100.3L145.1 101.2L145.2 102.1L145.3 103.0L145.4 103.9L145.5 104.8L145.6 105.8L145.7 106.7L145.8 107.6L145.9 108.5L146.0 109.5L146.1 110.5L146.2 111.4L146.4 112.4L146.5 113.4L146.6 114.4L146.7 115.5L146.8 116.5L146.9 117.6L147.0 118.7L147.1 119.7L147.2 120.8L147.3 122.0L147.4 123.1L147.6 124.2L147.7 125.4L147.8 126.5L147.9 127.7L148.0 128.9L148.1 130.1L148.2 131.3L148.3 132.5L148.4 133.7L148.5 134.9L148.6 136.2L148.8 137.5L148.9 138.8L149.0 140.2L149.1 141.5L149.2 142.9L149.3 144.3L149.4 145.7L149.5 147.0L149.6 148.3L149.7 149.6L149.8 150.9L149.9 152.0L150.1 153.2L150.2 154.3L150.3 155.4L150.4 156.5L150.5 157.6L150.6 158.7L150.7 160.0L150.8 161.3L150.9 162.6L151.0 164.1L151.1 165.6L151.3 167.2L151.4 168.7L151.5 170.2L151.6 171.8L151.7 173.2L151.8 174.6L151.9 175.9L152.0 177.1L152.1 178.2L152.2 179.2L152.3 180.1L152.5 181.1L152.6 182.0L152.7 182.9L152.8 183.8L152.9 184.7L153.0 185.5L153.1 186.2L153.2 186.9L153.3 187.6L153.4 188.2L153.5 188.7L153.6 189.2L153.8 189.5L153.9 189.9L154.0 190.2L154.1 190.6L154.2 190.9L154.3 191.2L154.4 191.4L154.5 191.7L154.6 191.9L154.7 192.0L154.8 192.2L155.0 192.3L155.1 192.3L155.2 192.3L155.3 192.2L155.4 192.2L155.5 192.1L155.6 192.0L155.7 191.9L155.8 191.8L155.9 191.6L156.0 191.5L156.1 191.3L156.3 191.2L156.4 191.0L156.5 190.8L156.6 190.6L156.7 190.5L156.8 190.3L156.9 190.0L157.0 189.7L157.1 189.4L157.2 189.1L157.3 188.7L157.5 188.3L157.6 187.9L157.7 187.5L157.8 187.1L157.9 186.7L158.0 186.2L158.1 185.8L158.2 185.4L158.3 185.0L158.4 184.6L158.5 184.2L158.7 183.8L158.8 183.3L158.9 182.9L159.0 182.4L159.1 182.0L159.2 181.5L159.3 181.0L159.4 180.6L159.5 180.1L159.6 179.6L159.7 179.1L159.8 178.7L160.0 178.2L160.1 177.7L160.2 177.2L160.3 176.7L160.4 176.2L160.5 175.8L160.6 175.3L160.7 174.8L160.8 174.4L160.9 173.9L161.0 173.5L161.2 173.0L161.3 172.6L161.4 172.2L161.5 171.7L161.6 171.3L161.7 170.9L161.8 170.6L161.9 170.2L162.0 169.8L162.1 169.4L162.2 169.1L162.4 168.7L162.5 168.3L162.6 168.0L162.7 167.6L162.8 167.3L162.9 166.9L163.0 166.6L163.1 166.3L163.2 165.9L163.3 165.6L163.4 165.2L163.5 164.9L163.7 164.6L163.8 164.2L163.9 163.9L164.0 163.6L164.1 163.2L164.2 162.9L164.3 162.5L164.4 162.2L164.5 161.8L164.6 161.4L164.7 161.1L164.9 160.7L165.0 160.3L165.1 160.0L165.2 159.6L165.3 159.2L165.4 158.8L165.5 158.4L165.6 158.0L165.7 157.5L165.8 157.1L165.9 156.7L166.1 156.3L166.2 155.8L166.3 155.4L166.4 154.9L166.5 154.5L166.6 154.0L166.7 153.6L166.8 153.2L166.9 152.7L167.0 152.3L167.1 151.8L167.2 151.4L167.4 150.9L167.5 150.5L167.6 150.0L167.7 149.6L167.8 149.2L167.9 148.7L168.0 148.3L168.1 147.9L168.2 147.5L168.3 147.1L168.4 146.7L168.6 146.3L168.7 145.9L168.8 145.5L168.9 145.1L169.0 144.7L169.1 144.4L169.2 144.0L169.3 143.7L169.4 143.3L169.5 143.0L169.6 142.6L169.8 142.3L169.9 142.0L170.0 141.6L170.1 141.3L170.2 140.9L170.3 140.6L170.4 140.3L170.5 139.9L170.6 139.6L170.7 139.3L170.8 138.9L170.9 138.6L171.1 138.3L171.2 137.9L171.3 137.6L171.4 137.3L171.5 137.0L171.6 136.7L171.7 136.4L171.8 136.1L171.9 135.8L172.0 135.5L172.1 135.2L172.3 134.9L172.4 134.6L172.5 134.3L172.6 134.0L172.7 133.8L172.8 133.5L172.9 133.2L173.0 133.0L173.1 132.7L173.2 132.5L173.3 132.2L173.5 132.0L173.6 131.8L173.7 131.6L173.8 131.3L173.9 131.1L174.0 130.9L174.1 130.7L174.2 130.6L174.3 130.4L174.4 130.2L174.5 130.0L174.6 129.8L174.8 129.7L174.9 129.5L175.0 129.3L175.1 129.1L175.2 128.9L175.3 128.7L175.4 128.6L175.5 128.4L175.6 128.2L175.7 128.0L175.8 127.9L176.0 127.7L176.1 127.5L176.2 127.3L176.3 127.2L176.4 127.0L176.5 126.9L176.6 126.7L176.7 126.5L176.8 126.4L176.9 126.2L177.0 126.1L177.2 126.0L177.3 125.8L177.4 125.7L177.5 125.6L177.6 125.5L177.7 125.3L177.8 125.2L177.9 125.1L178.0 125.0L178.1 125.0L178.2 124.9L178.3 124.8L178.5 124.7L178.6 124.7L178.7 124.6L178.8 124.6L178.9 124.5L179.0 124.5L179.1 124.5L179.2 124.5L179.3 124.5L179.4 124.5L179.5 124.5L179.7 124.5L179.8 124.5L179.9 124.5L180.0 124.6L180.1 124.6L180.2 124.6L180.3 124.7L180.4 124.7L180.5 124.8L180.6 124.9L180.7 124.9L180.8 125.0L181.0 125.1L181.1 125.1L181.2 125.2L181.3 125.3L181.4 125.4L181.5 125.5L181.6 125.5L181.7 125.6L181.8 125.7L181.9 125.8L182.0 125.9L182.2 126.0L182.3 126.1L182.4 126.2L182.5 126.3L182.6 126.4L182.7 126.5L182.8 126.7L182.9 126.8L183.0 126.9L183.1 127.0L183.2 127.1L183.4 127.2L183.5 127.3L183.6 127.4L183.7 127.5L183.8 127.7L183.9 127.8L184.0 127.9L184.1 128.1L184.2 128.2L184.3 128.4L184.4 128.6L184.5 128.7L184.7 128.9L184.8 129.1L184.9 129.3L185.0 129.5L185.1 129.7L185.2 129.9L185.3 130.1L185.4 130.3L185.5 130.5L185.6 130.7L185.7 130.9L185.9 131.1L186.0 131.3L186.1 131.5L186.2 131.8L186.3 132.0L186.4 132.2L186.5 132.4L186.6 132.7L186.7 132.9L186.8 133.1L186.9 133.3L187.1 133.6L187.2 133.8L187.3 134.0L187.4 134.2L187.5 134.5L187.6 134.7L187.7 134.9L187.8 135.2L187.9 135.4L188.0 135.7L188.1 135.9L188.2 136.2L188.4 136.5L188.5 136.8L188.6 137.1L188.7 137.3L188.8 137.6L188.9 138.0L189.0 138.3L189.1 138.6L189.2 138.9L189.3 139.2L189.4 139.4L189.6 139.7L189.7 140.0L189.8 140.3L189.9 140.6L190.0 140.8L190.1 141.1L190.2 141.3L190.3 141.5L190.4 141.7L190.5 141.9L190.6 142.1L190.8 142.2L190.9 142.3L191.0 142.5L191.1 142.6L191.2 142.7L191.3 142.8L191.4 143.0L191.5 143.1L191.6 143.2L191.7 143.3L191.8 143.4L191.9 143.5L192.1 143.6L192.2 143.7L192.3 143.7L192.4 143.8L192.5 143.9L192.6 144.0L192.7 144.1L192.8 144.2L192.9 144.2L193.0 144.3L193.1 144.4L193.3 144.5L193.4 144.5L193.5 144.6L193.6 144.7L193.7 144.8L193.8 144.9L193.9 144.9L194.0 145.0L194.1 145.1L194.2 145.2L194.3 145.3L194.5 145.4L194.6 145.4L194.7 145.5L194.8 145.6L194.9 145.7L195.0 145.8L195.1 146.0L195.2 146.1L195.3 146.2L195.4 146.3L195.5 146.3L195.6 146.4L195.8 146.5L195.9 146.6L196.0 146.7L196.1 146.8L196.2 146.9L196.3 147.0L196.4 147.1L196.5 147.2L196.6 147.3L196.7 147.4L196.8 147.5L197.0 147.6L197.1 147.7L197.2 147.8L197.3 148.0L197.4 148.1L197.5 148.2L197.6 148.4L197.7 148.5L197.8 148.7L197.9 148.8L198.0 149.0L198.2 149.2L198.3 149.3L198.4 149.5L198.5 149.7L198.6 149.9L198.7 150.2L198.8 150.4L198.9 150.7L199.0 151.1L199.1 151.5L199.2 151.9L199.3 152.4L199.5 152.9L199.6 153.4L199.7 154.0L199.8 154.7L199.9 155.4L200.0 156.4L200.1 157.7L200.2 159.3L200.3 161.1L200.4 163.2L200.5 165.3L200.7 167.5L200.8 169.6L200.9 171.7L201.0 173.6L201.1 175.4L201.2 177.3L201.3 179.1L201.4 181.0L201.5 182.8L201.6 184.6L201.7 186.4L201.8 188.3L202.0 190.0L202.1 191.8L202.2 193.6L202.3 195.5L202.4 197.5L202.5 199.4L202.6 201.4L202.7 203.3L202.8 205.2L202.9 206.9L203.0 208.5L203.2 210.0L203.3 211.3L203.4 212.3L203.5 213.2L203.6 214.0L203.7 214.8L203.8 215.6L203.9 216.2L204.0 216.9L204.1 217.5L204.2 218.0L204.4 218.6L204.5 219.1L204.6 219.6L204.7 220.0L204.8 220.5L204.9 220.9L205.0 221.4L205.1 221.8L205.2 222.2L205.3 222.7L205.4 223.0L205.5 223.4L205.7 223.8L205.8 224.1L205.9 224.4L206.0 224.6L206.1 224.9L206.2 225.1L206.3 225.2L206.4 225.4L206.5 225.6L206.6 225.7L206.7 225.9L206.9 226.0L207.0 226.2L207.1 226.3L207.2 226.4L207.3 226.5L207.4 226.6L207.5 226.6L207.6 226.7L207.7 226.7L207.8 226.7L207.9 226.7L208.1 226.7L208.2 226.7L208.3 226.7L208.4 226.7L208.5 226.6L208.6 226.6L208.7 226.5L208.8 226.5L208.9 226.4L209.0 226.4L209.1 226.3L209.2 226.2L209.4 226.2L209.5 226.1L209.6 226.0L209.7 226.0L209.8 225.9L209.9 225.8L210.0 225.7L210.1 225.5L210.2 225.4L210.3 225.2L210.4 225.1L210.6 224.9L210.7 224.7L210.8 224.5L210.9 224.3L211.0 224.1L211.1 223.9L211.2 223.7L211.3 223.4L211.4 223.2L211.5 223.0L211.6 222.8L211.8 222.6L211.9 222.3L212.0 222.1L212.1 221.8L212.2 221.6L212.3 221.3L212.4 221.1L212.5 220.8L212.6 220.5L212.7 220.2L212.8 219.9L212.9 219.6L213.1 219.3L213.2 219.0L213.3 218.7L213.4 218.4L213.5 218.1L213.6 217.7L213.7 217.4L213.8 217.1L213.9 216.7L214.0 216.4L214.1 216.0L214.3 215.7L214.4 215.3L214.5 214.9L214.6 214.6L214.7 214.2L214.8 213.8L214.9 213.5L215.0 213.1L215.1 212.7L215.2 212.3L215.3 212.0L215.5 211.6L215.6 211.2L215.7 210.8L215.8 210.4L215.9 210.1L216.0 209.7L216.1 209.3L216.2 208.9L216.3 208.5L216.4 208.1L216.5 207.8L216.6 207.4L216.8 207.0L216.9 206.6L217.0 206.2L217.1 205.9L217.2 205.5L217.3 205.1L217.4 204.8L217.5 204.4L217.6 204.0L217.7 203.7L217.8 203.3L218.0 203.0L218.1 202.6L218.2 202.3L218.3 201.9L218.4 201.6L218.5 201.3L218.6 200.9L218.7 200.6L218.8 200.3L218.9 200.0L219.0 199.7L219.2 199.4L219.3 199.1L219.4 198.8L219.5 198.5L219.6 198.3L219.7 198.0L219.8 197.7L219.9 197.5L220.0 197.2L220.1 197.0L220.2 196.8L220.3 196.6L220.5 196.3L220.6 196.1L220.7 195.9L220.8 195.7L220.9 195.5L221.0 195.3L221.1 195.1L221.2 194.9L221.3 194.7L221.4 194.5L221.5 194.3L221.7 194.1L221.8 193.9L221.9 193.7L222.0 193.6L222.1 193.4L222.2 193.2L222.3 193.0L222.4 192.8L222.5 192.7L222.6 192.5L222.7 192.3L222.9 192.1L223.0 192.0L223.1 191.8L223.2 191.6L223.3 191.5L223.4 191.3L223.5 191.2L223.6 191.0L223.7 190.8L223.8 190.7L223.9 190.5L224.0 190.4L224.2 190.2L224.3 190.1L224.4 189.9L224.5 189.8L224.6 189.7L224.7 189.5L224.8 189.4L224.9 189.2L225.0 189.1L225.1 189.0L225.2 188.8L225.4 188.7L225.5 188.6L225.6 188.4L225.7 188.3L225.8 188.2L225.9 188.1L226.0 187.9L226.1 187.8L226.2 187.7L226.3 187.6L226.4 187.4L226.5 187.3L226.7 187.2L226.8 187.1L226.9 187.0L227.0 186.8L227.1 186.7L227.2 186.6L227.3 186.5L227.4 186.4L227.5 186.3L227.6 186.2L227.7 186.1L227.9 186.0L228.0 185.9L228.1 185.8L228.2 185.7L228.3 185.6L228.4 185.5L228.5 185.4L228.6 185.3L228.7 185.2L228.8 185.1L228.9 185.0L229.1 184.9L229.2 184.8L229.3 184.8L229.4 184.7L229.5 184.6L229.6 184.5L229.7 184.5L229.8 184.4L229.9 184.3L230.0 184.3L230.1 184.2L230.2 184.1L230.4 184.1L230.5 184.0L230.6 183.9L230.7 183.9L230.8 183.8L230.9 183.8L231.0 183.7L231.1 183.7L231.2 183.6L231.3 183.6L231.4 183.5L231.6 183.5L231.7 183.4L231.8 183.4L231.9 183.3L232.0 183.3L232.1 183.2L232.2 183.2L232.3 183.2L232.4 183.1L232.5 183.1L232.6 183.1L232.8 183.0L232.9 183.0L233.0 183.0L233.1 183.0L233.2 182.9L233.3 182.9L233.4 182.9L233.5 182.8L233.6 182.8L233.7 182.8L233.8 182.7L233.9 182.7L234.1 182.7L234.2 182.7L234.3 182.7L234.4 182.6L234.5 182.6L234.6 182.6L234.7 182.6L234.8 182.6L234.9 182.5L235.0 182.5L235.1 182.5L235.3 182.5L235.4 182.5L235.5 182.5L235.6 182.5L235.7 182.5L235.8 182.5L235.9 182.5L236.0 182.5L236.1 182.5L236.2 182.6L236.3 182.6L236.5 182.6L236.6 182.7L236.7 182.7L236.8 182.8L236.9 182.8L237.0 182.9L237.1 182.9L237.2 183.0L237.3 183.1L237.4 183.1L237.5 183.2L237.6 183.3L237.8 183.3L237.9 183.4L238.0 183.5L238.1 183.6L238.2 183.7L238.3 183.7L238.4 183.8L238.5 183.9L238.6 184.0L238.7 184.1L238.8 184.2L239.0 184.3L239.1 184.3L239.2 184.4L239.3 184.5L239.4 184.6L239.5 184.7L239.6 184.8L239.7 184.8L239.8 184.9L239.9 185.0L240.0 185.1L240.2 185.1L240.3 185.2L240.4 185.3L240.5 185.4L240.6 185.5L240.7 185.5L240.8 185.6L240.9 185.7L241.0 185.8L241.1 185.8L241.2 185.9L241.3 186.0L241.5 186.1L241.6 186.2L241.7 186.3L241.8 186.3L241.9 186.4L242.0 186.5L242.1 186.6L242.2 186.7L242.3 186.8L242.4 186.9L242.5 186.9L242.7 187.0L242.8 187.1L242.9 187.2L243.0 187.3L243.1 187.4L243.2 187.5L243.3 187.6L243.4 187.7L243.5 187.8L243.6 187.9L243.7 188.0L243.9 188.1L244.0 188.2L244.1 188.3L244.2 188.4L244.3 188.5L244.4 188.6L244.5 188.7L244.6 188.8L244.7 188.9L244.8 189.0L244.9 189.1L245.0 189.2L245.2 189.3L245.3 189.4L245.4 189.5L245.5 189.7L245.6 189.8L245.7 189.9L245.8 190.0L245.9 190.1L246.0 190.3L246.1 190.4L246.2 190.5L246.4 190.7L246.5 190.8L246.6 190.9L246.7 191.1L246.8 191.2L246.9 191.3L247.0 191.5L247.1 191.6L247.2 191.8L247.3 191.9L247.4 192.1L247.5 192.2L247.7 192.3L247.8 192.5L247.9 192.7L248.0 192.8L248.1 193.0L248.2 193.1L248.3 193.3L248.4 193.4L248.5 193.6L248.6 193.8L248.7 193.9L248.9 194.1L249.0 194.3L249.1 194.4L249.2 194.6L249.3 194.8L249.4 194.9L249.5 195.1L249.6 195.3L249.7 195.5L249.8 195.6L249.9 195.8L250.1 196.0L250.2 196.2L250.3 196.4L250.4 196.6L250.5 196.8L250.6 197.0L250.7 197.2L250.8 197.4L250.9 197.6L251.0 197.8L251.1 198.0L251.2 198.2L251.4 198.4L251.5 198.6L251.6 198.8L251.7 199.1L251.8 199.3L251.9 199.5L252.0 199.7L252.1 200.0L252.2 200.2L252.3 200.4L252.4 200.6L252.6 200.9L252.7 201.1L252.8 201.3L252.9 201.5L253.0 201.8L253.1 202.0L253.2 202.2L253.3 202.5L253.4 202.7L253.5 202.9L253.6 203.2L253.8 203.4L253.9 203.6L254.0 203.9L254.1 204.1L254.2 204.3L254.3 204.6L254.4 204.8L254.5 205.0L254.6 205.3L254.7 205.5L254.8 205.7L254.9 205.9L255.1 206.2L255.2 206.4L255.3 206.6L255.4 206.8L255.5 207.1L255.6 207.3L255.7 207.5L255.8 207.8L255.9 208.0L256.0 208.3L256.1 208.5L256.3 208.7L256.4 209.0L256.5 209.2L256.6 209.5L256.7 209.7L256.8 210.0L256.9 210.2L257.0 210.5L257.1 210.7L257.2 211.0L257.3 211.3L257.5 211.5L257.6 211.8L257.7 212.0L257.8 212.3L257.9 212.5L258.0 212.8L258.1 213.0L258.2 213.3L258.3 213.5L258.4 213.8L258.5 214.0L258.6 214.3L258.8 214.5L258.9 214.8L259.0 215.0L259.1 215.2L259.2 215.5L259.3 215.7L259.4 215.9L259.5 216.2L259.6 216.4L259.7 216.6L259.8 216.9L260.0 217.1L260.1 217.3L260.2 217.5L260.3 217.7L260.4 217.9L260.5 218.1L260.6 218.3L260.7 218.5L260.8 218.7L260.9 218.9L261.0 219.1L261.2 219.2L261.3 219.4L261.4 219.6L261.5 219.7L261.6 219.9L261.7 220.0L261.8 220.2L261.9 220.3L262.0 220.5L262.1 220.6L262.2 220.8L262.3 220.9L262.5 221.0L262.6 221.2L262.7 221.3L262.8 221.4L262.9 221.5L263.0 221.7L263.1 221.8L263.2 221.9L263.3 222.0L263.4 222.1L263.5 222.3L263.7 222.4L263.8 222.5L263.9 222.6L264.0 222.7L264.1 222.8L264.2 222.9L264.3 223.0L264.4 223.1L264.5 223.2L264.6 223.3L264.7 223.4L264.9 223.5L265.0 223.6L265.1 223.7L265.2 223.8L265.3 223.9L265.4 224.0L265.5 224.1L265.6 224.2L265.7 224.3L265.8 224.4L265.9 224.5L266.0 224.6L266.2 224.7L266.3 224.8L266.4 224.9L266.5 225.0L266.6 225.1L266.7 225.2L266.8 225.2L266.9 225.3L267.0 225.4L267.1 225.5L267.2 225.6L267.4 225.7L267.5 225.8L267.6 225.9L267.7 225.9L267.8 226.0L267.9 226.1L268.0 226.2L268.1 226.3L268.2 226.3L268.3 226.4L268.4 226.5L268.6 226.6L268.7 226.7L268.8 226.7L268.9 226.8L269.0 226.9L269.1 227.0L269.2 227.0L269.3 227.1L269.4 227.2L269.5 227.3L269.6 227.3L269.7 227.4L269.9 227.5L270.0 227.5L270.1 227.6L270.2 227.7L270.3 227.7L270.4 227.8" stroke="#0a0ae0" stroke-width="1.3" marker-mid="url(#lb)"/><path d="M41.9 223.7L42.0 223.6L42.1 223.5L42.2 223.4L42.3 223.3L42.4 223.2L42.6 223.1L42.7 223.1L42.8 223.0L42.9 222.9L43.0 222.8L43.1 222.7L43.2 222.6L43.3 222.5L43.4 222.4L43.5 222.3L43.6 222.2L43.7 222.1L43.9 222.0L44.0 222.0L44.1 221.9L44.2 221.8L44.3 221.7L44.4 221.6L44.5 221.5L44.6 221.4L44.7 221.3L44.8 221.2L44.9 221.1L45.1 221.0L45.2 221.0L45.3 220.9L45.4 220.8L45.5 220.7L45.6 220.6L45.7 220.5L45.8 220.3L45.9 220.2L46.0 220.1L46.1 220.0L46.3 219.9L46.4 219.8L46.5 219.7L46.6 219.6L46.7 219.5L46.8 219.4L46.9 219.4L47.0 219.3L47.1 219.2L47.2 219.2L47.3 219.1L47.4 219.1L47.6 219.1L47.7 219.0L47.8 219.0L47.9 219.0L48.0 219.0L48.1 218.9L48.2 218.9L48.3 218.9L48.4 218.9L48.5 218.9L48.6 218.8L48.8 218.8L48.9 218.8L49.0 218.8L49.1 218.8L49.2 218.8L49.3 218.8L49.4 218.8L49.5 218.7L49.6 218.7L49.7 218.7L49.8 218.7L50.0 218.7L50.1 218.7L50.2 218.7L50.3 218.7L50.4 218.7L50.5 218.6L50.6 218.6L50.7 218.6L50.8 218.6L50.9 218.6L51.0 218.6L51.1 218.5L51.3 218.5L51.4 218.5L51.5 218.5L51.6 218.4L51.7 218.4L51.8 218.4L51.9 218.3L52.0 218.3L52.1 218.3L52.2 218.2L52.3 218.2L52.5 218.0L52.6 217.9L52.7 217.7L52.8 217.4L52.9 217.1L53.0 216.8L53.1 216.5L53.2 216.1L53.3 215.6L53.4 215.2L53.5 214.7L53.7 214.2L53.8 213.6L53.9 213.1L54.0 212.5L54.1 211.9L54.2 211.3L54.3 210.7L54.4 210.0L54.5 209.3L54.6 208.4L54.7 207.3L54.8 206.1L55.0 204.8L55.1 203.4L55.2 201.9L55.3 200.4L55.4 198.8L55.5 197.2L55.6 195.6L55.7 194.0L55.8 192.4L55.9 191.0L56.0 189.5L56.2 188.1L56.3 186.6L56.4 185.1L56.5 183.5L56.6 181.9L56.7 180.4L56.8 179.0L56.9 177.6L57.0 176.4L57.1 175.4L57.2 174.5L57.4 173.8L57.5 173.1L57.6 172.4L57.7 171.8L57.8 171.2L57.9 170.8L58.0 170.5L58.1 170.4L58.2 170.5L58.3 170.7L58.4 171.1L58.5 171.6L58.7 172.1L58.8 172.7L58.9 173.3L59.0 173.9L59.1 174.5L59.2 175.2L59.3 175.9L59.4 176.7L59.5 177.5L59.6 178.5L59.7 179.4L59.9 180.4L60.0 181.3L60.1 182.3L60.2 183.2L60.3 184.1L60.4 185.0L60.5 185.8L60.6 186.7L60.7 187.6L60.8 188.5L60.9 189.3L61.1 190.2L61.2 191.1L61.3 192.0L61.4 192.9L61.5 193.7L61.6 194.6L61.7 195.4L61.8 196.2L61.9 197.0L62.0 197.7L62.1 198.5L62.2 199.1L62.4 199.8L62.5 200.4L62.6 200.9L62.7 201.4L62.8 202.0L62.9 202.4L63.0 202.9L63.1 203.4L63.2 203.9L63.3 204.3L63.4 204.7L63.6 205.2L63.7 205.6L63.8 206.0L63.9 206.4L64.0 206.8L64.1 207.1L64.2 207.5L64.3 207.9L64.4 208.2L64.5 208.6L64.6 208.9L64.8 209.2L64.9 209.6L65.0 209.9L65.1 210.2L65.2 210.5L65.3 210.8L65.4 211.1L65.5 211.4L65.6 211.7L65.7 212.0L65.8 212.3L65.9 212.6L66.1 212.9L66.2 213.2L66.3 213.4L66.4 213.7L66.5 214.0L66.6 214.3L66.7 214.5L66.8 214.8L66.9 215.1L67.0 215.3L67.1 215.6L67.3 215.8L67.4 216.0L67.5 216.3L67.6 216.5L67.7 216.7L67.8 216.9L67.9 217.1L68.0 217.3L68.1 217.5L68.2 217.7L68.3 217.9L68.4 218.1L68.6 218.2L68.7 218.4L68.8 218.5L68.9 218.7L69.0 218.9L69.1 219.0L69.2 219.2L69.3 219.4L69.4 219.5L69.5 219.7L69.6 219.8L69.8 220.0L69.9 220.1L70.0 220.2L70.1 220.3L70.2 220.4L70.3 220.5L70.4 220.6L70.5 220.6L70.6 220.7L70.7 220.7L70.8 220.7L71.0 220.7L71.1 220.7L71.2 220.7L71.3 220.6L71.4 220.5L71.5 220.5L71.6 220.4L71.7 220.3L71.8 220.1L71.9 220.0L72.0 219.9L72.1 219.7L72.3 219.5L72.4 219.3L72.5 219.1L72.6 218.9L72.7 218.7L72.8 218.5L72.9 218.2L73.0 217.9L73.1 217.3L73.2 216.6L73.3 215.8L73.5 214.8L73.6 213.6L73.7 212.3L73.8 210.9L73.9 209.4L74.0 207.8L74.1 205.7L74.2 203.1L74.3 199.9L74.4 196.2L74.5 192.0L74.7 187.5L74.8 182.7L74.9 176.8L75.0 169.3L75.1 160.9L75.2 152.3L75.3 144.2L75.4 137.2L75.5 131.1L75.6 125.1L75.7 119.4L75.8 114.0L76.0 108.8L76.1 104.2L76.2 99.9L76.3 96.2L76.4 92.9L76.5 89.6L76.6 86.5L76.7 83.5L76.8 80.8L76.9 78.3L77.0 76.0L77.2 74.1L77.3 72.5L77.4 71.2L77.5 70.2L77.6 69.2L77.7 68.3L77.8 67.4L77.9 66.6L78.0 65.9L78.1 65.2L78.2 64.6L78.4 64.0L78.5 63.5L78.6 63.1L78.7 62.7L78.8 62.4L78.9 62.1L79.0 61.9L79.1 61.6L79.2 61.4L79.3 61.2L79.4 61.0L79.5 60.8L79.7 60.7L79.8 60.5L79.9 60.4L80.0 60.3L80.1 60.3L80.2 60.3L80.3 60.3L80.4 60.3L80.5 60.3L80.6 60.3L80.7 60.3L80.9 60.3L81.0 60.3L81.1 60.3L81.2 60.3L81.3 60.3L81.4 60.3L81.5 60.3L81.6 60.3L81.7 60.3L81.8 60.3L81.9 60.3L82.1 60.3L82.2 60.3L82.3 60.3L82.4 60.3L82.5 60.3L82.6 60.3L82.7 60.3L82.8 60.3L82.9 60.3L83.0 60.3L83.1 60.3L83.2 60.3L83.4 60.3L83.5 60.3L83.6 60.3L83.7 60.3L83.8 60.3L83.9 60.3L84.0 60.3L84.1 60.3L84.2 60.3L84.3 60.3L84.4 60.3L84.6 60.3L84.7 60.3L84.8 60.3L84.9 60.3L85.0 60.3L85.1 60.3L85.2 60.3L85.3 60.3L85.4 60.3L85.5 60.3L85.6 60.3L85.8 60.3L85.9 60.3L86.0 60.3L86.1 60.3L86.2 60.3L86.3 60.3L86.4 60.3L86.5 60.3L86.6 60.3L86.7 60.3L86.8 60.3L86.9 60.3L87.1 60.3L87.2 60.3L87.3 60.3L87.4 60.3L87.5 60.3L87.6 60.3L87.7 60.3L87.8 60.3L87.9 60.3L88.0 60.3L88.1 60.3L88.3 60.3L88.4 60.3L88.5 60.3L88.6 60.3L88.7 60.3L88.8 60.3L88.9 60.3L89.0 60.3L89.1 60.3L89.2 60.3L89.3 60.3L89.4 60.3L89.6 60.3L89.7 60.3L89.8 60.3L89.9 60.3L90.0 60.3L90.1 60.3L90.2 60.3L90.3 60.3L90.4 60.3L90.5 60.3L90.6 60.3L90.8 60.3L90.9 60.3L91.0 60.3L91.1 60.3L91.2 60.3L91.3 60.3L91.4 60.3L91.5 60.3L91.6 60.3L91.7 60.3L91.8 60.3L92.0 60.3L92.1 60.3L92.2 60.3L92.3 60.3L92.4 60.3L92.5 60.3L92.6 60.3L92.7 60.3L92.8 60.3L92.9 60.3L93.0 60.3L93.1 60.3L93.3 60.3L93.4 60.3L93.5 60.4L93.6 60.4L93.7 60.4L93.8 60.4L93.9 60.4L94.0 60.4L94.1 60.4L94.2 60.4L94.3 60.4L94.5 60.4L94.6 60.4L94.7 60.4L94.8 60.5L94.9 60.5L95.0 60.5L95.1 60.5L95.2 60.5L95.3 60.5L95.4 60.5L95.5 60.5L95.7 60.5L95.8 60.6L95.9 60.6L96.0 60.6L96.1 60.6L96.2 60.6L96.3 60.6L96.4 60.6L96.5 60.7L96.6 60.7L96.7 60.7L96.8 60.7L97.0 60.7L97.1 60.7L97.2 60.7L97.3 60.8L97.4 60.8L97.5 60.8L97.6 60.9L97.7 60.9L97.8 61.0L97.9 61.0L98.0 61.1L98.2 61.1L98.3 61.2L98.4 61.3L98.5 61.3L98.6 61.4L98.7 61.5L98.8 61.6L98.9 61.6L99.0 61.7L99.1 61.8L99.2 61.9L99.4 62.0L99.5 62.0L99.6 62.1L99.7 62.2L99.8 62.3L99.9 62.4L100.0 62.5L100.1 62.5L100.2 62.6L100.3 62.7L100.4 62.8L100.5 63.0L100.7 63.1L100.8 63.2L100.9 63.4L101.0 63.5L101.1 63.7L101.2 63.8L101.3 64.0L101.4 64.1L101.5 64.3L101.6 64.4L101.7 64.6L101.9 64.7L102.0 64.9L102.1 65.0L102.2 65.1L102.3 65.2L102.4 65.3L102.5 65.4L102.6 65.5L102.7 65.6L102.8 65.7L102.9 65.7L103.1 65.7L103.2 65.7L103.3 65.7L103.4 65.7L103.5 65.7L103.6 65.7L103.7 65.7L103.8 65.7L103.9 65.7L104.0 65.7L104.1 65.7L104.2 65.6L104.4 65.6L104.5 65.6L104.6 65.6L104.7 65.6L104.8 65.6L104.9 65.5L105.0 65.5L105.1 65.5L105.2 65.5L105.3 65.4L105.4 65.4L105.6 65.4L105.7 65.4L105.8 65.3L105.9 65.3L106.0 65.3L106.1 65.3L106.2 65.3L106.3 65.2L106.4 65.2L106.5 65.2L106.6 65.1L106.8 65.1L106.9 65.1L107.0 65.0L107.1 65.0L107.2 65.0L107.3 64.9L107.4 64.9L107.5 64.8L107.6 64.8L107.7 64.8L107.8 64.7L107.9 64.7L108.1 64.6L108.2 64.6L108.3 64.5L108.4 64.5L108.5 64.5L108.6 64.4L108.7 64.4L108.8 64.3L108.9 64.3L109.0 64.3L109.1 64.2L109.3 64.2L109.4 64.1L109.5 64.1L109.6 64.1L109.7 64.0L109.8 64.0L109.9 64.0L110.0 63.9L110.1 63.9L110.2 63.9L110.3 63.9L110.4 63.8L110.6 63.8L110.7 63.8L110.8 63.8L110.9 63.7L111.0 63.7L111.1 63.7L111.2 63.6L111.3 63.6L111.4 63.6L111.5 63.6L111.6 63.5L111.8 63.5L111.9 63.5L112.0 63.5L112.1 63.4L112.2 63.4L112.3 63.4L112.4 63.4L112.5 63.3L112.6 63.3L112.7 63.3L112.8 63.3L113.0 63.2L113.1 63.2L113.2 63.2L113.3 63.2L113.4 63.2L113.5 63.1L113.6 63.1L113.7 63.1L113.8 63.1L113.9 63.1L114.0 63.1L114.1 63.1L114.3 63.0L114.4 63.0L114.5 63.0L114.6 63.0L114.7 63.0L114.8 63.0L114.9 63.0L115.0 63.0L115.1 63.0L115.2 63.0L115.3 63.0L115.5 63.0L115.6 63.0L115.7 63.0L115.8 63.0L115.9 63.0L116.0 63.1L116.1 63.1L116.2 63.1L116.3 63.1L116.4 63.1L116.5 63.1L116.7 63.2L116.8 63.2L116.9 63.2L117.0 63.2L117.1 63.2L117.2 63.3L117.3 63.3L117.4 63.3L117.5 63.4L117.6 63.4L117.7 63.4L117.8 63.5L118.0 63.5L118.1 63.5L118.2 63.6L118.3 63.6L118.4 63.7L118.5 63.7L118.6 63.7L118.7 63.8L118.8 63.8L118.9 63.9L119.0 63.9L119.2 64.0L119.3 64.0L119.4 64.1L119.5 64.1L119.6 64.2L119.7 64.2L119.8 64.3L119.9 64.3L120.0 64.4L120.1 64.4L120.2 64.5L120.4 64.6L120.5 64.7L120.6 64.8L120.7 64.9L120.8 65.1L120.9 65.2L121.0 65.4L121.1 65.6L121.2 65.7L121.3 65.9L121.4 66.1L121.5 66.3L121.7 66.5L121.8 66.7L121.9 66.9L122.0 67.1L122.1 67.3L122.2 67.5L122.3 67.7L122.4 67.9L122.5 68.1L122.6 68.2L122.7 68.4L122.9 68.6L123.0 68.8L123.1 68.9L123.2 69.1L123.3 69.2L123.4 69.4L123.5 69.6L123.6 69.8L123.7 69.9L123.8 70.1L123.9 70.3L124.1 70.5L124.2 70.7L124.3 70.9L124.4 71.0L124.5 71.2L124.6 71.4L124.7 71.6L124.8 71.8L124.9 72.0L125.0 72.1L125.1 72.3L125.2 72.5L125.4 72.6L125.5 72.8L125.6 73.0L125.7 73.1L125.8 73.3L125.9 73.4L126.0 73.5L126.1 73.7L126.2 73.8L126.3 73.9L126.4 74.0L126.6 74.1L126.7 74.2L126.8 74.2L126.9 74.3L127.0 74.3L127.1 74.4L127.2 74.4L127.3 74.4L127.4 74.5L127.5 74.5L127.6 74.5L127.8 74.5L127.9 74.6L128.0 74.6L128.1 74.6L128.2 74.6L128.3 74.6L128.4 74.7L128.5 74.7L128.6 74.7L128.7 74.7L128.8 74.7L128.9 74.7L129.1 74.7L129.2 74.7L129.3 74.8L129.4 74.8L129.5 74.8L129.6 74.8L129.7 74.8L129.8 74.8L129.9 74.8L130.0 74.8L130.1 74.8L130.3 74.8L130.4 74.9L130.5 74.9L130.6 74.9L130.7 74.9L130.8 74.9L130.9 74.9L131.0 74.9L131.1 74.9L131.2 74.9L131.3 74.9L131.5 75.0L131.6 75.0L131.7 75.0L131.8 75.0L131.9 75.0L132.0 75.0L132.1 75.1L132.2 75.1L132.3 75.1L132.4 75.1L132.5 75.2L132.6 75.2L132.8 75.2L132.9 75.2L133.0 75.3L133.1 75.3L133.2 75.3L133.3 75.4L133.4 75.5L133.5 75.6L133.6 75.7L133.7 75.8L133.8 75.9L134.0 76.0L134.1 76.2L134.2 76.3L134.3 76.4L134.4 76.6L134.5 76.7L134.6 76.8L134.7 76.9L134.8 77.0L134.9 77.1L135.0 77.1L135.1 77.2L135.3 77.2L135.4 77.2L135.5 77.3L135.6 77.3L135.7 77.3L135.8 77.4L135.9 77.4L136.0 77.4L136.1 77.4L136.2 77.4L136.3 77.5L136.5 77.5L136.6 77.5L136.7 77.5L136.8 77.5L136.9 77.5L137.0 77.6L137.1 77.6L137.2 77.6L137.3 77.6L137.4 77.6L137.5 77.7L137.7 77.7L137.8 77.7L137.9 77.7L138.0 77.8L138.1 77.8L138.2 77.8L138.3 77.9L138.4 77.9L138.5 77.9L138.6 78.0L138.7 78.0L138.8 78.1L139.0 78.2L139.1 78.3L139.2 78.4L139.3 78.5L139.4 78.6L139.5 78.8L139.6 79.0L139.7 79.1L139.8 79.3L139.9 79.5L140.0 79.7L140.2 80.0L140.3 80.2L140.4 80.4L140.5 80.7L140.6 80.9L140.7 81.2L140.8 81.4L140.9 81.7L141.0 81.9L141.1 82.2L141.2 82.6L141.4 82.9L141.5 83.3L141.6 83.7L141.7 84.1L141.8 84.5L141.9 85.0L142.0 85.4L142.1 85.9L142.2 86.4L142.3 87.0L142.4 87.5L142.5 88.0L142.7 88.6L142.8 89.2L142.9 89.9L143.0 90.6L143.1 91.4L143.2 92.2L143.3 93.0L143.4 93.8L143.5 94.7L143.6 95.5L143.7 96.4L143.9 97.3L144.0 98.1L144.1 99.0L144.2 99.9L144.3 100.7L144.4 101.6L144.5 102.5L144.6 103.4L144.7 104.3L144.8 105.2L144.9 106.1L145.1 107.0L145.2 108.0L145.3 108.9L145.4 109.9L145.5 110.8L145.6 111.8L145.7 112.8L145.8 113.7L145.9 114.7L146.0 115.7L146.1 116.7L146.2 117.7L146.4 118.7L146.5 119.8L146.6 120.8L146.7 121.9L146.8 122.9L146.9 124.0L147.0 125.1L147.1 126.1L147.2 127.2L147.3 128.3L147.4 129.4L147.6 130.5L147.7 131.6L147.8 132.7L147.9 133.8L148.0 134.9L148.1 136.0L148.2 137.2L148.3 138.3L148.4 139.4L148.5 140.6L148.6 141.7L148.8 142.9L148.9 144.0L149.0 145.2L149.1 146.3L149.2 147.5L149.3 148.6L149.4 149.8L149.5 150.9L149.6 152.1L149.7 153.2L149.8 154.3L149.9 155.5L150.1 156.6L150.2 157.7L150.3 158.8L150.4 159.9L150.5 161.1L150.6 162.3L150.7 163.5L150.8 164.6L150.9 165.8L151.0 166.9L151.1 168.0L151.3 169.1L151.4 170.1L151.5 171.1L151.6 172.0L151.7 172.9L151.8 173.6L151.9 174.3L152.0 175.1L152.1 175.8L152.2 176.4L152.3 177.1L152.5 177.8L152.6 178.4L152.7 179.0L152.8 179.5L152.9 180.0L153.0 180.5L153.1 180.9L153.2 181.3L153.3 181.6L153.4 181.8L153.5 182.0L153.6 182.2L153.8 182.4L153.9 182.6L154.0 182.7L154.1 182.9L154.2 183.0L154.3 183.2L154.4 183.3L154.5 183.4L154.6 183.5L154.7 183.5L154.8 183.6L155.0 183.6L155.1 183.6L155.2 183.6L155.3 183.6L155.4 183.5L155.5 183.4L155.6 183.3L155.7 183.2L155.8 183.1L155.9 182.9L156.0 182.8L156.1 182.6L156.3 182.5L156.4 182.3L156.5 182.1L156.6 182.0L156.7 181.8L156.8 181.7L156.9 181.5L157.0 181.3L157.1 181.1L157.2 180.9L157.3 180.8L157.5 180.6L157.6 180.4L157.7 180.1L157.8 179.9L157.9 179.7L158.0 179.5L158.1 179.2L158.2 179.0L158.3 178.7L158.4 178.5L158.5 178.2L158.7 178.0L158.8 177.7L158.9 177.4L159.0 177.1L159.1 176.8L159.2 176.5L159.3 176.2L159.4 175.9L159.5 175.6L159.6 175.2L159.7 174.9L159.8 174.5L160.0 174.1L160.1 173.6L160.2 173.2L160.3 172.8L160.4 172.3L160.5 171.8L160.6 171.3L160.7 170.8L160.8 170.3L160.9 169.8L161.0 169.3L161.2 168.7L161.3 168.2L161.4 167.6L161.5 167.1L161.6 166.5L161.7 166.0L161.8 165.4L161.9 164.9L162.0 164.3L162.1 163.7L162.2 163.2L162.4 162.6L162.5 162.1L162.6 161.5L162.7 161.0L162.8 160.5L162.9 160.0L163.0 159.4L163.1 158.9L163.2 158.4L163.3 157.8L163.4 157.3L163.5 156.8L163.7 156.2L163.8 155.7L163.9 155.1L164.0 154.5L164.1 154.0L164.2 153.4L164.3 152.8L164.4 152.3L164.5 151.7L164.6 151.1L164.7 150.6L164.9 150.0L165.0 149.4L165.1 148.9L165.2 148.3L165.3 147.8L165.4 147.2L165.5 146.6L165.6 146.1L165.7 145.6L165.8 145.0L165.9 144.5L166.1 143.9L166.2 143.4L166.3 142.9L166.4 142.4L166.5 141.9L166.6 141.4L166.7 140.9L166.8 140.4L166.9 139.9L167.0 139.5L167.1 139.0L167.2 138.6L167.4 138.1L167.5 137.6L167.6 137.1L167.7 136.7L167.8 136.2L167.9 135.7L168.0 135.3L168.1 134.8L168.2 134.3L168.3 133.9L168.4 133.4L168.6 133.0L168.7 132.5L168.8 132.1L168.9 131.6L169.0 131.2L169.1 130.8L169.2 130.4L169.3 130.0L169.4 129.6L169.5 129.2L169.6 128.8L169.8 128.5L169.9 128.1L170.0 127.8L170.1 127.4L170.2 127.1L170.3 126.8L170.4 126.6L170.5 126.3L170.6 126.1L170.7 125.8L170.8 125.6L170.9 125.4L171.1 125.2L171.2 125.0L171.3 124.8L171.4 124.6L171.5 124.4L171.6 124.2L171.7 124.0L171.8 123.8L171.9 123.6L172.0 123.4L172.1 123.3L172.3 123.1L172.4 122.9L172.5 122.8L172.6 122.6L172.7 122.5L172.8 122.3L172.9 122.2L173.0 122.0L173.1 121.9L173.2 121.7L173.3 121.6L173.5 121.5L173.6 121.4L173.7 121.2L173.8 121.1L173.9 121.0L174.0 120.9L174.1 120.8L174.2 120.7L174.3 120.6L174.4 120.5L174.5 120.4L174.6 120.4L174.8 120.3L174.9 120.2L175.0 120.1L175.1 120.0L175.2 120.0L175.3 119.9L175.4 119.8L175.5 119.7L175.6 119.7L175.7 119.6L175.8 119.5L176.0 119.4L176.1 119.4L176.2 119.3L176.3 119.2L176.4 119.1L176.5 119.1L176.6 119.0L176.7 118.9L176.8 118.9L176.9 118.8L177.0 118.8L177.2 118.7L177.3 118.6L177.4 118.6L177.5 118.5L177.6 118.5L177.7 118.4L177.8 118.4L177.9 118.4L178.0 118.3L178.1 118.3L178.2 118.3L178.3 118.2L178.5 118.2L178.6 118.2L178.7 118.1L178.8 118.1L178.9 118.1L179.0 118.1L179.1 118.1L179.2 118.1L179.3 118.1L179.4 118.1L179.5 118.1L179.7 118.1L179.8 118.1L179.9 118.1L180.0 118.2L180.1 118.2L180.2 118.2L180.3 118.3L180.4 118.3L180.5 118.4L180.6 118.4L180.7 118.5L180.8 118.6L181.0 118.6L181.1 118.7L181.2 118.7L181.3 118.8L181.4 118.9L181.5 119.0L181.6 119.0L181.7 119.1L181.8 119.2L181.9 119.3L182.0 119.4L182.2 119.4L182.3 119.5L182.4 119.6L182.5 119.7L182.6 119.8L182.7 119.9L182.8 119.9L182.9 120.0L183.0 120.1L183.1 120.2L183.2 120.3L183.4 120.4L183.5 120.4L183.6 120.5L183.7 120.6L183.8 120.7L183.9 120.8L184.0 120.9L184.1 121.0L184.2 121.0L184.3 121.1L184.4 121.2L184.5 121.3L184.7 121.4L184.8 121.5L184.9 121.6L185.0 121.7L185.1 121.8L185.2 121.9L185.3 122.0L185.4 122.2L185.5 122.3L185.6 122.4L185.7 122.5L185.9 122.6L186.0 122.7L186.1 122.8L186.2 123.0L186.3 123.1L186.4 123.2L186.5 123.3L186.6 123.4L186.7 123.6L186.8 123.7L186.9 123.8L187.1 123.9L187.2 124.1L187.3 124.2L187.4 124.3L187.5 124.4L187.6 124.6L187.7 124.7L187.8 124.8L187.9 125.0L188.0 125.1L188.1 125.2L188.2 125.4L188.4 125.5L188.5 125.6L188.6 125.8L188.7 125.9L188.8 126.0L188.9 126.2L189.0 126.3L189.1 126.5L189.2 126.6L189.3 126.7L189.4 126.9L189.6 127.0L189.7 127.2L189.8 127.3L189.9 127.5L190.0 127.6L190.1 127.8L190.2 127.9L190.3 128.1L190.4 128.3L190.5 128.4L190.6 128.6L190.8 128.8L190.9 128.9L191.0 129.1L191.1 129.3L191.2 129.4L191.3 129.6L191.4 129.8L191.5 130.0L191.6 130.1L191.7 130.3L191.8 130.5L191.9 130.7L192.1 130.9L192.2 131.0L192.3 131.2L192.4 131.4L192.5 131.6L192.6 131.7L192.7 131.9L192.8 132.1L192.9 132.3L193.0 132.5L193.1 132.7L193.3 132.9L193.4 133.1L193.5 133.3L193.6 133.5L193.7 133.7L193.8 133.9L193.9 134.1L194.0 134.3L194.1 134.5L194.2 134.7L194.3 134.8L194.5 135.0L194.6 135.2L194.7 135.4L194.8 135.5L194.9 135.7L195.0 135.8L195.1 136.0L195.2 136.1L195.3 136.2L195.4 136.3L195.5 136.4L195.6 136.5L195.8 136.6L195.9 136.7L196.0 136.8L196.1 136.9L196.2 137.0L196.3 137.0L196.4 137.1L196.5 137.2L196.6 137.2L196.7 137.3L196.8 137.4L197.0 137.5L197.1 137.6L197.2 137.7L197.3 137.7L197.4 137.8L197.5 137.9L197.6 138.1L197.7 138.2L197.8 138.3L197.9 138.4L198.0 138.6L198.2 138.7L198.3 138.9L198.4 139.1L198.5 139.3L198.6 139.5L198.7 139.7L198.8 140.1L198.9 140.5L199.0 141.0L199.1 141.6L199.2 142.2L199.3 142.9L199.5 143.7L199.6 144.5L199.7 145.4L199.8 146.3L199.9 147.2L200.0 148.3L200.1 149.6L200.2 151.1L200.3 152.8L200.4 154.6L200.5 156.5L200.7 158.5L200.8 160.5L200.9 162.5L201.0 164.5L201.1 166.6L201.2 168.8L201.3 171.1L201.4 173.5L201.5 175.9L201.6 178.3L201.7 180.7L201.8 183.0L202.0 185.2L202.1 187.3L202.2 189.3L202.3 191.3L202.4 193.3L202.5 195.3L202.6 197.2L202.7 199.1L202.8 200.9L202.9 202.6L203.0 204.2L203.2 205.5L203.3 206.8L203.4 207.8L203.5 208.6L203.6 209.4L203.7 210.1L203.8 210.8L203.9 211.5L204.0 212.1L204.1 212.6L204.2 213.2L204.4 213.7L204.5 214.1L204.6 214.6L204.7 215.1L204.8 215.5L204.9 215.9L205.0 216.4L205.1 216.8L205.2 217.2L205.3 217.7L205.4 218.1L205.5 218.4L205.7 218.8L205.8 219.1L205.9 219.4L206.0 219.7L206.1 219.9L206.2 220.0L206.3 220.2L206.4 220.3L206.5 220.5L206.6 220.6L206.7 220.7L206.9 220.8L207.0 221.0L207.1 221.1L207.2 221.1L207.3 221.2L207.4 221.3L207.5 221.3L207.6 221.4L207.7 221.4L207.8 221.4L207.9 221.4L208.1 221.4L208.2 221.4L208.3 221.3L208.4 221.3L208.5 221.3L208.6 221.2L208.7 221.2L208.8 221.1L208.9 221.0L209.0 221.0L209.1 220.9L209.2 220.8L209.4 220.7L209.5 220.7L209.6 220.6L209.7 220.5L209.8 220.4L209.9 220.3L210.0 220.2L210.1 220.1L210.2 220.0L210.3 219.9L210.4 219.7L210.6 219.6L210.7 219.4L210.8 219.3L210.9 219.1L211.0 219.0L211.1 218.8L211.2 218.6L211.3 218.4L211.4 218.2L211.5 218.0L211.6 217.8L211.8 217.6L211.9 217.3L212.0 217.0L212.1 216.7L212.2 216.4L212.3 216.1L212.4 215.7L212.5 215.4L212.6 215.0L212.7 214.6L212.8 214.2L212.9 213.8L213.1 213.4L213.2 213.0L213.3 212.6L213.4 212.1L213.5 211.7L213.6 211.2L213.7 210.7L213.8 210.3L213.9 209.8L214.0 209.3L214.1 208.8L214.3 208.3L214.4 207.8L214.5 207.4L214.6 206.9L214.7 206.4L214.8 205.9L214.9 205.4L215.0 204.9L215.1 204.4L215.2 203.9L215.3 203.4L215.5 203.0L215.6 202.5L215.7 202.0L215.8 201.6L215.9 201.1L216.0 200.7L216.1 200.3L216.2 199.8L216.3 199.4L216.4 199.0L216.5 198.6L216.6 198.2L216.8 197.9L216.9 197.5L217.0 197.2L217.1 196.9L217.2 196.6L217.3 196.3L217.4 196.0L217.5 195.7L217.6 195.4L217.7 195.1L217.8 194.8L218.0 194.5L218.1 194.3L218.2 194.0L218.3 193.7L218.4 193.5L218.5 193.2L218.6 192.9L218.7 192.7L218.8 192.4L218.9 192.2L219.0 191.9L219.2 191.7L219.3 191.4L219.4 191.2L219.5 191.0L219.6 190.7L219.7 190.5L219.8 190.2L219.9 190.0L220.0 189.8L220.1 189.5L220.2 189.3L220.3 189.1L220.5 188.9L220.6 188.6L220.7 188.4L220.8 188.2L220.9 188.0L221.0 187.8L221.1 187.6L221.2 187.3L221.3 187.1L221.4 186.9L221.5 186.7L221.7 186.5L221.8 186.3L221.9 186.1L222.0 185.9L222.1 185.6L222.2 185.4L222.3 185.2L222.4 185.0L222.5 184.8L222.6 184.6L222.7 184.4L222.9 184.2L223.0 184.0L223.1 183.8L223.2 183.6L223.3 183.3L223.4 183.1L223.5 182.9L223.6 182.7L223.7 182.5L223.8 182.3L223.9 182.1L224.0 181.9L224.2 181.7L224.3 181.4L224.4 181.2L224.5 181.0L224.6 180.8L224.7 180.6L224.8 180.4L224.9 180.2L225.0 179.9L225.1 179.7L225.2 179.5L225.4 179.3L225.5 179.1L225.6 178.9L225.7 178.7L225.8 178.5L225.9 178.3L226.0 178.1L226.1 177.9L226.2 177.7L226.3 177.5L226.4 177.3L226.5 177.1L226.7 176.9L226.8 176.7L226.9 176.6L227.0 176.4L227.1 176.2L227.2 176.0L227.3 175.9L227.4 175.7L227.5 175.6L227.6 175.4L227.7 175.3L227.9 175.1L228.0 175.0L228.1 174.8L228.2 174.7L228.3 174.6L228.4 174.4L228.5 174.3L228.6 174.2L228.7 174.0L228.8 173.9L228.9 173.8L229.1 173.6L229.2 173.5L229.3 173.4L229.4 173.3L229.5 173.2L229.6 173.0L229.7 172.9L229.8 172.8L229.9 172.7L230.0 172.6L230.1 172.6L230.2 172.5L230.4 172.4L230.5 172.4L230.6 172.3L230.7 172.3L230.8 172.2L230.9 172.2L231.0 172.1L231.1 172.1L231.2 172.0L231.3 172.0L231.4 172.0L231.6 171.9L231.7 171.9L231.8 171.8L231.9 171.8L232.0 171.8L232.1 171.7L232.2 171.7L232.3 171.7L232.4 171.6L232.5 171.6L232.6 171.6L232.8 171.5L232.9 171.5L233.0 171.5L233.1 171.4L233.2 171.4L233.3 171.4L233.4 171.4L233.5 171.3L233.6 171.3L233.7 171.3L233.8 171.3L233.9 171.3L234.1 171.2L234.2 171.2L234.3 171.2L234.4 171.2L234.5 171.2L234.6 171.2L234.7 171.2L234.8 171.1L234.9 171.1L235.0 171.1L235.1 171.1L235.3 171.1L235.4 171.1L235.5 171.1L235.6 171.1L235.7 171.1L235.8 171.1L235.9 171.1L236.0 171.1L236.1 171.1L236.2 171.2L236.3 171.2L236.5 171.2L236.6 171.2L236.7 171.3L236.8 171.3L236.9 171.3L237.0 171.3L237.1 171.4L237.2 171.4L237.3 171.5L237.4 171.5L237.5 171.5L237.6 171.6L237.8 171.6L237.9 171.7L238.0 171.7L238.1 171.8L238.2 171.8L238.3 171.9L238.4 172.0L238.5 172.0L238.6 172.1L238.7 172.1L238.8 172.2L239.0 172.3L239.1 172.3L239.2 172.4L239.3 172.5L239.4 172.5L239.5 172.6L239.6 172.7L239.7 172.7L239.8 172.8L239.9 172.9L240.0 173.0L240.2 173.0L240.3 173.1L240.4 173.2L240.5 173.2L240.6 173.3L240.7 173.4L240.8 173.5L240.9 173.5L241.0 173.6L241.1 173.7L241.2 173.8L241.3 173.9L241.5 174.0L241.6 174.1L241.7 174.2L241.8 174.3L241.9 174.4L242.0 174.5L242.1 174.6L242.2 174.7L242.3 174.9L242.4 175.0L242.5 175.1L242.7 175.2L242.8 175.4L242.9 175.5L243.0 175.7L243.1 175.8L243.2 176.0L243.3 176.1L243.4 176.3L243.5 176.4L243.6 176.6L243.7 176.7L243.9 176.9L244.0 177.0L244.1 177.2L244.2 177.4L244.3 177.5L244.4 177.7L244.5 177.8L244.6 178.0L244.7 178.1L244.8 178.3L244.9 178.5L245.0 178.6L245.2 178.8L245.3 178.9L245.4 179.1L245.5 179.2L245.6 179.4L245.7 179.5L245.8 179.7L245.9 179.8L246.0 180.0L246.1 180.2L246.2 180.3L246.4 180.5L246.5 180.6L246.6 180.8L246.7 181.0L246.8 181.1L246.9 181.3L247.0 181.4L247.1 181.6L247.2 181.8L247.3 181.9L247.4 182.1L247.5 182.3L247.7 182.5L247.8 182.6L247.9 182.8L248.0 183.0L248.1 183.1L248.2 183.3L248.3 183.5L248.4 183.7L248.5 183.9L248.6 184.0L248.7 184.2L248.9 184.4L249.0 184.6L249.1 184.8L249.2 185.0L249.3 185.1L249.4 185.3L249.5 185.5L249.6 185.7L249.7 185.9L249.8 186.1L249.9 186.3L250.1 186.5L250.2 186.7L250.3 186.9L250.4 187.1L250.5 187.3L250.6 187.5L250.7 187.7L250.8 188.0L250.9 188.2L251.0 188.4L251.1 188.6L251.2 188.8L251.4 189.0L251.5 189.3L251.6 189.5L251.7 189.7L251.8 189.9L251.9 190.2L252.0 190.4L252.1 190.6L252.2 190.9L252.3 191.1L252.4 191.3L252.6 191.6L252.7 191.8L252.8 192.0L252.9 192.3L253.0 192.5L253.1 192.7L253.2 193.0L253.3 193.2L253.4 193.5L253.5 193.7L253.6 193.9L253.8 194.2L253.9 194.4L254.0 194.6L254.1 194.9L254.2 195.1L254.3 195.4L254.4 195.6L254.5 195.9L254.6 196.1L254.7 196.3L254.8 196.6L254.9 196.8L255.1 197.0L255.2 197.3L255.3 197.5L255.4 197.8L255.5 198.0L255.6 198.3L255.7 198.5L255.8 198.8L255.9 199.0L256.0 199.3L256.1 199.5L256.3 199.8L256.4 200.0L256.5 200.3L256.6 200.6L256.7 200.8L256.8 201.1L256.9 201.3L257.0 201.6L257.1 201.9L257.2 202.1L257.3 202.4L257.5 202.7L257.6 202.9L257.7 203.2L257.8 203.5L257.9 203.7L258.0 204.0L258.1 204.3L258.2 204.5L258.3 204.8L258.4 205.1L258.5 205.3L258.6 205.6L258.8 205.9L258.9 206.1L259.0 206.4L259.1 206.7L259.2 206.9L259.3 207.2L259.4 207.4L259.5 207.7L259.6 207.9L259.7 208.2L259.8 208.4L260.0 208.7L260.1 208.9L260.2 209.2L260.3 209.4L260.4 209.7L260.5 209.9L260.6 210.1L260.7 210.4L260.8 210.6L260.9 210.8L261.0 211.0L261.2 211.3L261.3 211.5L261.4 211.7L261.5 211.9L261.6 212.1L261.7 212.3L261.8 212.5L261.9 212.7L262.0 212.9L262.1 213.1L262.2 213.3L262.3 213.5L262.5 213.7L262.6 213.9L262.7 214.1L262.8 214.2L262.9 214.4L263.0 214.6L263.1 214.8L263.2 215.0L263.3 215.2L263.4 215.3L263.5 215.5L263.7 215.7L263.8 215.9L263.9 216.0L264.0 216.2L264.1 216.4L264.2 216.5L264.3 216.7L264.4 216.9L264.5 217.0L264.6 217.2L264.7 217.4L264.9 217.5L265.0 217.7L265.1 217.8L265.2 218.0L265.3 218.1L265.4 218.3L265.5 218.4L265.6 218.6L265.7 218.7L265.8 218.9L265.9 219.0L266.0 219.1L266.2 219.3L266.3 219.4L266.4 219.5L266.5 219.7L266.6 219.8L266.7 219.9L266.8 220.1L266.9 220.2L267.0 220.3L267.1 220.5L267.2 220.6L267.4 220.7L267.5 220.8L267.6 221.0L267.7 221.1L267.8 221.2L267.9 221.3L268.0 221.4L268.1 221.6L268.2 221.7L268.3 221.8L268.4 221.9L268.6 222.0L268.7 222.1L268.8 222.2L268.9 222.3L269.0 222.4L269.1 222.5L269.2 222.7L269.3 222.8L269.4 222.9L269.5 223.0L269.6 223.0L269.7 223.1L269.9 223.2L270.0 223.3L270.1 223.4L270.2 223.5L270.3 223.6L270.4 223.7" stroke="#00f0f0" stroke-width="1.3" marker-mid="url(#lc)"/></g><rect x="41.9" y="23.4" width="228.5" height="227.6" fill="none" stroke="#8a8a8a" stroke-width="0.9"/><path d="M41.9 251.0v-2.3M41.9 23.4v2.3M74.5 251.0v-2.3M74.5 23.4v2.3M107.2 251.0v-2.3M107.2 23.4v2.3M139.8 251.0v-2.3M139.8 23.4v2.3M172.5 251.0v-2.3M172.5 23.4v2.3M205.1 251.0v-2.3M205.1 23.4v2.3M237.8 251.0v-2.3M237.8 23.4v2.3M270.4 251.0v-2.3M270.4 23.4v2.3M41.9 251.0h2.3M270.4 251.0h-2.3M41.9 228.2h2.3M270.4 228.2h-2.3M41.9 205.5h2.3M270.4 205.5h-2.3M41.9 182.7h2.3M270.4 182.7h-2.3M41.9 160.0h2.3M270.4 160.0h-2.3M41.9 137.2h2.3M270.4 137.2h-2.3M41.9 114.4h2.3M270.4 114.4h-2.3M41.9 91.7h2.3M270.4 91.7h-2.3M41.9 68.9h2.3M270.4 68.9h-2.3M41.9 46.2h2.3M270.4 46.2h-2.3M41.9 23.4h2.3M270.4 23.4h-2.3" stroke="#8a8a8a" stroke-width="0.9" fill="none"/><g font-family="'Liberation Serif', serif" font-size="9.7" fill="#404040" text-anchor="middle" class="tl"><text x="41.9" y="263.2">400</text><text x="74.5" y="263.2">700</text><text x="107.2" y="263.2">1000</text><text x="139.8" y="263.2">1300</text><text x="172.5" y="263.2">1600</text><text x="205.1" y="263.2">1900</text><text x="237.8" y="263.2">2200</text><text x="270.4" y="263.2">2500</text></g><g font-family="'Liberation Serif', serif" font-size="9.7" fill="#404040" text-anchor="end" class="tl"><text x="38.6" y="254.3">0</text><text x="38.6" y="231.5">0.05</text><text x="38.6" y="208.8">0.1</text><text x="38.6" y="186.0">0.15</text><text x="38.6" y="163.3">0.2</text><text x="38.6" y="140.5">0.25</text><text x="38.6" y="117.7">0.3</text><text x="38.6" y="95.0">0.35</text><text x="38.6" y="72.2">0.4</text><text x="38.6" y="49.5">0.45</text><text x="38.6" y="26.7">0.5</text></g><text font-family="'Liberation Serif', serif" font-size="10.75" fill="#3a3a3a" text-anchor="middle" x="156.4" y="275.6">Wavelength [nm]</text><text font-family="'Liberation Serif', serif" font-size="10.6" fill="#3a3a3a" text-anchor="middle" transform="translate(17.6 137.2) rotate(-90)">Reflectance</text><rect x="98.6" y="2.6" width="111.8" height="11" fill="#fff" stroke="#8a8a8a" stroke-width="0.9"/><path d="M100.4 8.2H115.9" stroke="#1aa51a" stroke-width="1" stroke-opacity="0.55"/><circle cx="108.2" cy="8.2" r="1.2" fill="#1aa51a" fill-opacity="0.8"/><path d="M127.5 8.2H144.6" stroke="#00f0f0" stroke-width="1" stroke-opacity="0.55"/><circle cx="136.1" cy="8.2" r="1.2" fill="#00f0f0" fill-opacity="0.8"/><path d="M170.1 8.2H186.3" stroke="#3030e0" stroke-width="1" stroke-opacity="0.55"/><circle cx="178.2" cy="8.2" r="1.2" fill="#3030e0" fill-opacity="0.8"/><g font-family="'Liberation Serif', serif" font-size="9.6" fill="#3a3a3a"><text x="117.4" y="11.9">C</text><text x="146.2" y="11.9" textLength="20.8" lengthAdjust="spacingAndGlyphs">Pb [3]</text><text x="188" y="11.9" textLength="20.8" lengthAdjust="spacingAndGlyphs">Pb [5]</text></g><clipPath id="cr"><rect x="322.3" y="20.3" width="234.49999999999994" height="233.5"/></clipPath><g clip-path="url(#cr)" fill="none" stroke-linejoin="round"><path d="M325.3 225.2L325.4 223.1L325.5 221.1L325.6 219.1L325.7 217.4L325.8 215.7L326.0 214.1L326.1 212.6L326.2 211.3L326.3 210.1L326.4 208.9L326.5 207.9L326.6 207.0L326.7 206.1L326.8 205.4L326.9 204.8L327.0 204.2L327.1 203.8L327.3 203.5L327.4 203.2L327.5 203.1L327.6 203.0L327.7 203.2L327.8 203.6L327.9 204.3L328.0 205.4L328.1 206.6L328.2 208.1L328.3 209.8L328.5 211.7L328.6 213.7L328.7 215.8L328.8 218.1L328.9 220.4L329.0 222.7L329.1 225.1L329.2 227.5L329.3 229.8L329.4 232.1L329.5 234.4L329.7 236.5L329.8 238.5L329.9 240.3L330.0 242.0L330.1 243.4L330.2 244.7L330.3 245.6L330.4 246.3L330.5 246.7L330.6 246.8L330.7 246.6L330.8 246.1L331.0 245.4L331.1 244.5L331.2 243.3L331.3 241.9L331.4 240.4L331.5 238.7L331.6 236.9L331.7 234.9L331.8 232.8L331.9 230.6L332.0 228.3L332.2 225.9L332.3 223.5L332.4 221.0L332.5 218.5L332.6 216.0L332.7 213.5L332.8 211.1L332.9 208.6L333.0 206.3L333.1 203.9L333.2 201.7L333.4 199.6L333.5 197.6L333.6 195.7L333.7 193.9L333.8 192.4L333.9 191.0L334.0 189.7L334.1 188.7L334.2 188.0L334.3 187.4L334.4 187.1L334.5 187.1L334.7 187.4L334.8 187.9L334.9 188.7L335.0 189.7L335.1 190.9L335.2 192.3L335.3 193.8L335.4 195.5L335.5 197.4L335.6 199.4L335.7 201.4L335.9 203.6L336.0 205.8L336.1 208.1L336.2 210.4L336.3 212.7L336.4 215.0L336.5 217.3L336.6 219.5L336.7 221.7L336.8 223.8L336.9 225.8L337.1 227.6L337.2 229.4L337.3 231.0L337.4 232.4L337.5 233.7L337.6 234.8L337.7 235.6L337.8 236.2L337.9 236.5L338.0 236.6L338.1 236.2L338.2 235.5L338.4 234.4L338.5 233.0L338.6 231.3L338.7 229.3L338.8 227.1L338.9 224.7L339.0 222.1L339.1 219.4L339.2 216.6L339.3 213.7L339.4 210.8L339.6 207.9L339.7 205.0L339.8 202.2L339.9 199.5L340.0 196.9L340.1 194.5L340.2 192.3L340.3 190.3L340.4 188.5L340.5 187.1L340.6 186.0L340.8 185.2L340.9 184.9L341.0 184.9L341.1 185.0L341.2 185.3L341.3 185.7L341.4 186.3L341.5 186.9L341.6 187.7L341.7 188.5L341.8 189.4L341.9 190.4L342.1 191.5L342.2 192.6L342.3 193.8L342.4 195.0L342.5 196.3L342.6 197.6L342.7 198.9L342.8 200.2L342.9 201.5L343.0 202.9L343.1 204.2L343.3 205.4L343.4 206.7L343.5 207.9L343.6 209.1L343.7 210.2L343.8 211.2L343.9 212.2L344.0 213.1L344.1 213.9L344.2 214.6L344.3 215.3L344.5 215.8L344.6 216.3L344.7 216.8L344.8 217.3L344.9 217.8L345.0 218.3L345.1 218.7L345.2 219.2L345.3 219.7L345.4 220.1L345.5 220.5L345.6 220.8L345.8 221.2L345.9 221.5L346.0 221.7L346.1 222.0L346.2 222.1L346.3 222.3L346.4 222.3L346.5 222.4L346.6 222.1L346.7 221.5L346.8 220.7L347.0 219.5L347.1 218.1L347.2 216.5L347.3 214.7L347.4 212.7L347.5 210.6L347.6 208.4L347.7 206.2L347.8 203.9L347.9 201.6L348.0 199.3L348.1 197.1L348.3 194.9L348.4 192.9L348.5 191.0L348.6 189.3L348.7 187.8L348.8 186.5L348.9 185.5L349.0 184.7L349.1 184.3L349.2 184.3L349.3 184.4L349.5 184.7L349.6 185.1L349.7 185.6L349.8 186.3L349.9 187.0L350.0 187.9L350.1 188.9L350.2 190.0L350.3 191.1L350.4 192.4L350.5 193.7L350.7 195.1L350.8 196.5L350.9 198.0L351.0 199.6L351.1 201.2L351.2 202.8L351.3 204.4L351.4 206.1L351.5 207.8L351.6 209.4L351.7 211.1L351.8 212.8L352.0 214.4L352.1 216.1L352.2 217.7L352.3 219.3L352.4 220.8L352.5 222.3L352.6 223.7L352.7 225.0L352.8 226.3L352.9 227.5L353.0 228.6L353.2 229.7L353.3 230.6L353.4 231.5L353.5 232.3L353.6 233.2L353.7 234.2L353.8 235.1L353.9 236.0L354.0 236.9L354.1 237.8L354.2 238.7L354.4 239.5L354.5 240.3L354.6 241.1L354.7 241.8L354.8 242.5L354.9 243.1L355.0 243.6L355.1 244.1L355.2 244.5L355.3 244.8L355.4 245.0L355.5 245.1L355.7 244.9L355.8 243.3L355.9 240.3L356.0 236.1L356.1 230.9L356.2 224.9L356.3 218.2L356.4 211.2L356.5 203.9L356.6 196.6L356.7 189.4L356.9 182.6L357.0 176.4L357.1 170.8L357.2 166.2L357.3 162.7L357.4 160.5L357.5 159.8L357.6 160.6L357.7 162.5L357.8 165.5L357.9 169.5L358.1 174.1L358.2 179.4L358.3 185.0L358.4 191.0L358.5 197.1L358.6 203.1L358.7 209.0L358.8 214.5L358.9 219.5L359.0 223.9L359.1 227.5L359.2 230.0L359.4 231.7L359.5 233.2L359.6 234.5L359.7 235.6L359.8 236.3L359.9 236.6L360.0 234.1L360.1 227.4L360.2 217.7L360.3 205.8L360.4 192.9L360.6 179.9L360.7 167.9L360.8 157.9L360.9 151.0L361.0 146.6L361.1 142.4L361.2 138.4L361.3 134.6L361.4 131.0L361.5 127.7L361.6 124.7L361.8 122.1L361.9 119.8L362.0 118.0L362.1 116.6L362.2 115.7L362.3 115.4L362.4 115.6L362.5 116.1L362.6 116.9L362.7 118.0L362.8 119.5L362.9 121.1L363.1 123.0L363.2 125.2L363.3 127.5L363.4 130.1L363.5 132.8L363.6 135.6L363.7 138.6L363.8 141.7L363.9 144.9L364.0 148.2L364.1 151.7L364.3 156.8L364.4 163.6L364.5 171.5L364.6 180.4L364.7 189.6L364.8 198.9L364.9 207.9L365.0 216.2L365.1 223.3L365.2 228.9L365.3 232.7L365.5 234.4L365.6 235.7L365.7 236.9L365.8 238.1L365.9 239.2L366.0 240.3L366.1 241.2L366.2 242.1L366.3 243.0L366.4 243.7L366.5 244.4L366.6 245.1L366.8 245.6L366.9 246.1L367.0 246.5L367.1 246.8L367.2 247.1L367.3 247.3L367.4 247.4L367.5 247.4L367.6 247.1L367.7 246.3L367.8 245.1L368.0 243.5L368.1 241.5L368.2 239.2L368.3 236.6L368.4 233.8L368.5 230.7L368.6 227.4L368.7 224.0L368.8 220.4L368.9 216.8L369.0 213.0L369.2 209.3L369.3 205.5L369.4 201.8L369.5 198.1L369.6 194.5L369.7 191.1L369.8 187.8L369.9 184.8L370.0 181.9L370.1 179.3L370.2 177.0L370.3 175.1L370.5 173.5L370.6 172.3L370.7 171.5L370.8 171.2L370.9 171.3L371.0 171.6L371.1 172.1L371.2 172.9L371.3 173.8L371.4 175.0L371.5 176.3L371.7 177.8L371.8 179.5L371.9 181.3L372.0 183.3L372.1 185.3L372.2 187.5L372.3 189.8L372.4 192.1L372.5 194.6L372.6 197.1L372.7 199.6L372.8 202.2L373.0 204.9L373.1 207.5L373.2 210.2L373.3 212.9L373.4 215.5L373.5 218.1L373.6 220.7L373.7 223.3L373.8 225.7L373.9 228.1L374.0 230.5L374.2 232.7L374.3 234.8L374.4 236.8L374.5 238.7L374.6 240.4L374.7 242.0L374.8 243.5L374.9 244.7L375.0 245.8L375.1 246.6L375.2 247.3L375.4 247.7L375.5 247.9L375.6 247.9L375.7 247.8L375.8 247.6L375.9 247.2L376.0 246.8L376.1 246.3L376.2 245.7L376.3 245.0L376.4 244.3L376.5 243.5L376.7 242.6L376.8 241.7L376.9 240.7L377.0 239.7L377.1 238.6L377.2 237.6L377.3 236.4L377.4 235.3L377.5 234.1L377.6 233.0L377.7 231.8L377.9 230.6L378.0 229.4L378.1 228.3L378.2 227.1L378.3 226.0L378.4 224.9L378.5 223.9L378.6 222.8L378.7 221.9L378.8 220.9L378.9 220.1L379.1 219.2L379.2 218.5L379.3 217.8L379.4 217.2L379.5 216.7L379.6 216.3L379.7 215.9L379.8 215.7L379.9 215.6L380.0 215.5L380.1 215.6L380.2 215.6L380.4 215.7L380.5 215.9L380.6 216.1L380.7 216.3L380.8 216.5L380.9 216.8L381.0 217.1L381.1 217.4L381.2 217.7L381.3 218.1L381.4 218.5L381.6 218.9L381.7 219.3L381.8 219.7L381.9 220.2L382.0 220.6L382.1 221.1L382.2 221.6L382.3 222.1L382.4 222.6L382.5 223.1L382.6 223.6L382.8 224.1L382.9 224.6L383.0 225.1L383.1 225.6L383.2 226.2L383.3 226.9L383.4 227.7L383.5 228.6L383.6 229.5L383.7 230.4L383.8 231.4L383.9 232.4L384.1 233.5L384.2 234.5L384.3 235.6L384.4 236.6L384.5 237.6L384.6 238.6L384.7 239.5L384.8 240.4L384.9 241.2L385.0 241.9L385.1 242.6L385.3 243.1L385.4 243.6L385.5 243.9L385.6 244.1L385.7 244.4L385.8 244.6L385.9 244.8L386.0 244.9L386.1 245.0L386.2 245.1L386.3 245.0L386.5 243.9L386.6 241.5L386.7 238.2L386.8 233.9L386.9 229.0L387.0 223.4L387.1 217.4L387.2 211.1L387.3 204.6L387.4 198.2L387.5 191.9L387.6 185.8L387.8 180.2L387.9 175.2L388.0 170.9L388.1 167.3L388.2 163.9L388.3 160.6L388.4 157.5L388.5 154.5L388.6 151.5L388.7 148.7L388.8 145.9L389.0 143.1L389.1 140.3L389.2 137.5L389.3 134.6L389.4 131.7L389.5 128.6L389.6 125.4L389.7 122.0L389.8 118.6L389.9 115.2L390.0 111.8L390.2 108.4L390.3 105.1L390.4 102.0L390.5 99.0L390.6 96.2L390.7 93.7L390.8 91.5L390.9 89.7L391.0 87.9L391.1 86.2L391.2 84.5L391.3 82.8L391.5 81.2L391.6 79.5L391.7 77.9L391.8 76.4L391.9 74.9L392.0 73.4L392.1 72.0L392.2 70.6L392.3 69.3L392.4 68.0L392.5 66.9L392.7 65.8L392.8 64.7L392.9 63.8L393.0 62.9L393.1 62.2L393.2 61.5L393.3 60.9L393.4 60.4L393.5 60.1L393.6 59.8L393.7 59.7L393.9 59.8L394.0 60.2L394.1 61.1L394.2 62.4L394.3 64.0L394.4 65.9L394.5 68.1L394.6 70.4L394.7 73.0L394.8 75.6L394.9 78.4L395.0 81.2L395.2 83.9L395.3 86.6L395.4 89.2L395.5 91.7L395.6 94.2L395.7 96.8L395.8 99.3L395.9 102.0L396.0 104.7L396.1 107.6L396.2 110.6L396.4 113.8L396.5 117.1L396.6 120.6L396.7 124.4L396.8 128.4L396.9 132.7L397.0 137.3L397.1 142.4L397.2 148.5L397.3 155.4L397.4 163.3L397.5 172.3L397.7 184.1L397.8 203.6L397.9 223.2L398.0 233.5L398.1 233.7L398.2 233.7L398.3 233.7L398.4 233.7L398.5 233.7L398.6 233.7L398.7 233.7L398.9 233.6L399.0 232.8L399.1 231.2L399.2 229.0L399.3 226.3L399.4 223.2L399.5 219.8L399.6 216.3L399.7 212.8L399.8 209.3L399.9 206.1L400.1 203.1L400.2 200.6L400.3 198.6L400.4 197.3L400.5 196.8L400.6 196.9L400.7 197.1L400.8 197.6L400.9 198.3L401.0 199.1L401.1 200.0L401.2 201.1L401.4 202.2L401.5 203.4L401.6 204.7L401.7 206.1L401.8 207.4L401.9 208.8L402.0 210.2L402.1 211.5L402.2 212.8L402.3 214.0L402.4 215.2L402.6 216.2L402.7 217.2L402.8 218.0L402.9 218.6L403.0 219.1L403.1 219.4L403.2 219.5L403.3 219.4L403.4 219.2L403.5 218.8L403.6 218.4L403.8 217.8L403.9 217.1L404.0 216.4L404.1 215.5L404.2 214.6L404.3 213.7L404.4 212.7L404.5 211.7L404.6 210.7L404.7 209.7L404.8 208.6L404.9 207.6L405.1 206.7L405.2 205.8L405.3 204.9L405.4 204.1L405.5 203.4L405.6 202.7L405.7 202.2L405.8 201.8L405.9 201.5L406.0 201.3L406.1 201.3L406.3 201.5L406.4 201.9L406.5 202.4L406.6 203.0L406.7 203.8L406.8 204.8L406.9 205.8L407.0 207.0L407.1 208.2L407.2 209.6L407.3 211.0L407.5 212.5L407.6 214.0L407.7 215.6L407.8 217.2L407.9 218.8L408.0 220.4L408.1 222.0L408.2 223.6L408.3 225.2L408.4 226.7L408.5 228.2L408.6 229.7L408.8 231.0L408.9 232.3L409.0 233.5L409.1 234.6L409.2 235.9L409.3 237.2L409.4 238.5L409.5 239.9L409.6 241.3L409.7 242.6L409.8 243.8L410.0 245.0L410.1 246.0L410.2 246.8L410.3 247.4L410.4 247.8L410.5 248.0L410.6 247.9L410.7 247.8L410.8 247.6L410.9 247.4L411.0 247.0L411.2 246.7L411.3 246.2L411.4 245.8L411.5 245.2L411.6 244.7L411.7 244.1L411.8 243.5L411.9 242.8L412.0 242.1L412.1 241.1L412.2 239.7L412.3 237.8L412.5 235.7L412.6 233.2L412.7 230.5L412.8 227.5L412.9 224.5L413.0 221.3L413.1 218.1L413.2 214.8L413.3 211.6L413.4 208.5L413.5 205.5L413.7 202.6L413.8 200.0L413.9 197.7L414.0 195.7L414.1 194.1L414.2 192.7L414.3 191.3L414.4 189.9L414.5 188.5L414.6 187.1L414.7 185.8L414.9 184.5L415.0 183.3L415.1 182.2L415.2 181.1L415.3 180.1L415.4 179.3L415.5 178.5L415.6 177.9L415.7 177.4L415.8 177.1L415.9 176.9L416.0 176.9L416.2 177.2L416.3 177.8L416.4 178.6L416.5 179.7L416.6 180.9L416.7 182.4L416.8 183.9L416.9 185.7L417.0 187.4L417.1 189.3L417.2 191.2L417.4 193.1L417.5 195.2L417.6 198.0L417.7 201.5L417.8 205.5L417.9 209.7L418.0 213.8L418.1 217.6L418.2 220.9L418.3 223.4L418.4 224.9L418.5 225.3L418.7 225.5L418.8 225.7L418.9 225.8L419.0 226.0L419.1 226.1L419.2 226.2L419.3 226.3L419.4 226.4L419.5 226.5L419.6 226.5L419.7 226.6L419.9 226.6L420.0 226.7L420.1 226.8L420.2 226.8L420.3 226.9L420.4 226.9L420.5 227.0L420.6 227.1L420.7 227.2L420.8 227.3L420.9 227.4L421.1 227.5L421.2 227.7L421.3 227.9L421.4 228.1L421.5 228.3L421.6 228.6L421.7 228.8L421.8 229.1L421.9 229.3L422.0 229.6L422.1 229.9L422.2 230.1L422.4 230.4L422.5 230.6L422.6 230.9L422.7 231.1L422.8 231.3L422.9 231.5L423.0 231.7L423.1 231.8L423.2 231.9L423.3 232.0L423.4 232.0L423.6 232.0L423.7 231.8L423.8 231.5L423.9 231.0L424.0 230.4L424.1 229.7L424.2 228.9L424.3 228.1L424.4 227.2L424.5 226.3L424.6 225.3L424.8 224.4L424.9 223.5L425.0 222.6L425.1 221.7L425.2 220.7L425.3 219.5L425.4 218.3L425.5 217.0L425.6 215.7L425.7 214.3L425.8 213.1L425.9 211.9L426.1 210.9L426.2 210.0L426.3 209.3L426.4 208.9L426.5 208.7L426.6 209.0L426.7 209.9L426.8 211.4L426.9 213.3L427.0 215.7L427.1 218.3L427.3 221.3L427.4 224.3L427.5 227.5L427.6 230.7L427.7 233.9L427.8 236.9L427.9 239.7L428.0 242.2L428.1 244.3L428.2 246.1L428.3 247.3L428.5 247.9L428.6 247.9L428.7 247.9L428.8 247.7L428.9 247.5L429.0 247.2L429.1 246.8L429.2 246.4L429.3 245.9L429.4 245.4L429.5 244.8L429.6 243.4L429.8 241.0L429.9 237.8L430.0 233.8L430.1 229.0L430.2 223.7L430.3 217.9L430.4 211.6L430.5 205.0L430.6 198.2L430.7 191.2L430.8 184.1L431.0 177.0L431.1 170.1L431.2 163.3L431.3 156.9L431.4 150.8L431.5 145.1L431.6 139.2L431.7 132.6L431.8 125.6L431.9 118.5L432.0 111.9L432.2 105.9L432.3 101.0L432.4 97.7L432.5 96.1L432.6 96.7L432.7 99.2L432.8 103.1L432.9 108.2L433.0 114.1L433.1 120.5L433.2 127.0L433.3 133.2L433.5 138.9L433.6 143.7L433.7 147.5L433.8 151.0L433.9 154.1L434.0 157.1L434.1 159.9L434.2 162.6L434.3 165.3L434.4 168.1L434.5 170.9L434.7 173.8L434.8 177.0L434.9 180.4L435.0 184.1L435.1 188.5L435.2 194.1L435.3 200.5L435.4 207.2L435.5 214.0L435.6 220.3L435.7 225.9L435.9 230.3L436.0 233.2L436.1 234.5L436.2 235.5L436.3 236.6L436.4 237.5L436.5 238.4L436.6 239.1L436.7 239.8L436.8 240.5L436.9 241.0L437.0 241.4L437.2 241.8L437.3 242.0L437.4 242.2L437.5 242.3L437.6 242.2L437.7 242.0L437.8 241.7L437.9 241.3L438.0 240.9L438.1 240.5L438.2 240.1L438.4 239.8L438.5 239.5L438.6 239.4L438.7 239.4L438.8 239.5L438.9 239.7L439.0 239.9L439.1 240.2L439.2 240.6L439.3 240.9L439.4 241.4L439.5 241.8L439.7 242.2L439.8 242.7L439.9 243.2L440.0 243.6L440.1 244.1L440.2 244.5L440.3 244.9L440.4 245.2L440.5 245.6L440.6 245.8L440.7 246.0L440.9 246.2L441.0 246.2L441.1 246.2L441.2 246.2L441.3 246.2L441.4 246.1L441.5 246.1L441.6 246.0L441.7 245.9L441.8 245.8L441.9 245.6L442.1 245.5L442.2 245.3L442.3 245.2L442.4 245.0L442.5 244.9L442.6 244.7L442.7 244.5L442.8 244.3L442.9 244.1L443.0 243.9L443.1 243.7L443.2 243.5L443.4 243.4L443.5 243.2L443.6 243.0L443.7 242.8L443.8 242.6L443.9 242.4L444.0 242.3L444.1 242.1L444.2 241.9L444.3 241.7L444.4 241.4L444.6 241.2L444.7 241.0L444.8 240.7L444.9 240.5L445.0 240.2L445.1 239.9L445.2 239.7L445.3 239.4L445.4 239.1L445.5 238.8L445.6 238.5L445.8 238.3L445.9 238.0L446.0 237.7L446.1 237.5L446.2 237.2L446.3 237.0L446.4 236.8L446.5 236.6L446.6 236.4L446.7 236.2L446.8 236.0L446.9 235.9L447.1 235.8L447.2 235.6L447.3 235.6L447.4 235.5L447.5 235.5L447.6 235.4L447.7 235.5L447.8 235.7L447.9 236.0L448.0 236.4L448.1 236.9L448.3 237.4L448.4 238.0L448.5 238.7L448.6 239.4L448.7 240.1L448.8 240.8L448.9 241.6L449.0 242.3L449.1 243.0L449.2 243.7L449.3 244.3L449.5 244.8L449.6 245.3L449.7 245.7L449.8 246.0L449.9 246.2L450.0 246.2L450.1 246.2L450.2 246.2L450.3 246.2L450.4 246.2L450.5 246.1L450.6 246.1L450.8 246.0L450.9 245.9L451.0 245.8L451.1 245.8L451.2 245.7L451.3 245.6L451.4 245.4L451.5 245.3L451.6 245.2L451.7 245.1L451.8 244.9L452.0 244.8L452.1 244.6L452.2 244.4L452.3 244.3L452.4 244.1L452.5 243.9L452.6 243.8L452.7 243.6L452.8 243.4L452.9 243.2L453.0 243.0L453.2 242.8L453.3 242.6L453.4 242.4L453.5 242.2L453.6 242.0L453.7 241.7L453.8 241.5L453.9 241.3L454.0 241.1L454.1 240.8L454.2 240.6L454.3 240.3L454.5 240.0L454.6 239.6L454.7 239.2L454.8 238.8L454.9 238.4L455.0 238.0L455.1 237.5L455.2 237.0L455.3 236.5L455.4 236.0L455.5 235.5L455.7 235.0L455.8 234.4L455.9 233.9L456.0 233.3L456.1 232.7L456.2 232.1L456.3 231.5L456.4 230.9L456.5 230.3L456.6 229.7L456.7 229.1L456.9 228.5L457.0 227.9L457.1 227.3L457.2 226.7L457.3 226.1L457.4 225.5L457.5 224.9L457.6 224.3L457.7 223.8L457.8 223.2L457.9 222.7L458.0 222.1L458.2 221.6L458.3 221.0L458.4 220.4L458.5 219.8L458.6 219.1L458.7 218.5L458.8 217.8L458.9 217.1L459.0 216.4L459.1 215.7L459.2 215.0L459.4 214.2L459.5 213.5L459.6 212.8L459.7 212.0L459.8 211.3L459.9 210.5L460.0 209.8L460.1 209.1L460.2 208.3L460.3 207.6L460.4 206.9L460.6 206.2L460.7 205.5L460.8 204.8L460.9 204.2L461.0 203.5L461.1 202.9L461.2 202.3L461.3 201.7L461.4 201.1L461.5 200.6L461.6 200.1L461.7 199.6L461.9 199.2L462.0 198.8L462.1 198.4L462.2 198.1L462.3 197.7L462.4 197.5L462.5 197.2L462.6 197.1L462.7 196.9L462.8 196.8L462.9 196.8L463.1 196.8L463.2 196.9L463.3 197.1L463.4 197.4L463.5 197.7L463.6 198.2L463.7 198.7L463.8 199.3L463.9 200.0L464.0 200.7L464.1 201.4L464.2 202.2L464.4 203.1L464.5 203.9L464.6 204.8L464.7 205.7L464.8 206.7L464.9 207.6L465.0 208.5L465.1 209.4L465.2 210.4L465.3 211.2L465.4 212.1L465.6 212.9L465.7 213.7L465.8 214.5L465.9 215.2L466.0 215.9L466.1 216.4L466.2 217.0L466.3 217.4L466.4 217.8L466.5 218.1L466.6 218.3L466.8 218.4L466.9 218.4L467.0 218.3L467.1 218.1L467.2 217.9L467.3 217.7L467.4 217.3L467.5 216.9L467.6 216.5L467.7 216.0L467.8 215.5L467.9 214.9L468.1 214.3L468.2 213.6L468.3 212.9L468.4 212.2L468.5 211.4L468.6 210.7L468.7 209.9L468.8 209.0L468.9 208.2L469.0 207.3L469.1 206.5L469.3 205.6L469.4 204.7L469.5 203.9L469.6 203.0L469.7 202.1L469.8 201.3L469.9 200.4L470.0 199.6L470.1 198.8L470.2 198.0L470.3 197.2L470.5 196.5L470.6 195.7L470.7 195.1L470.8 194.4L470.9 193.8L471.0 193.2L471.1 192.7L471.2 192.2L471.3 191.8L471.4 191.4L471.5 191.1L471.6 190.9L471.8 190.7L471.9 190.6L472.0 190.5L472.1 190.6L472.2 191.1L472.3 191.8L472.4 192.9L472.5 194.3L472.6 195.9L472.7 197.7L472.8 199.8L473.0 202.0L473.1 204.4L473.2 206.9L473.3 209.5L473.4 212.2L473.5 214.9L473.6 217.7L473.7 220.5L473.8 223.2L473.9 226.0L474.0 228.6L474.2 231.2L474.3 233.6L474.4 235.9L474.5 238.1L474.6 240.0L474.7 241.8L474.8 243.2L474.9 244.5L475.0 245.4L475.1 246.0L475.2 246.3L475.3 246.6L475.5 246.8L475.6 247.0L475.7 247.2L475.8 247.4L475.9 247.5L476.0 247.7L476.1 247.8L476.2 247.9L476.3 247.9L476.4 248.0L476.5 247.6L476.7 244.6L476.8 238.8L476.9 231.3L477.0 222.8L477.1 214.0L477.2 205.9L477.3 199.2L477.4 193.4L477.5 187.7L477.6 182.1L477.7 176.5L477.9 171.1L478.0 165.9L478.1 160.8L478.2 155.9L478.3 151.2L478.4 146.8L478.5 142.6L478.6 138.7L478.7 135.1L478.8 131.7L478.9 128.4L479.0 125.2L479.2 122.1L479.3 119.0L479.4 115.8L479.5 112.4L479.6 108.9L479.7 104.7L479.8 99.6L479.9 94.4L480.0 89.5L480.1 85.6L480.2 83.3L480.4 83.1L480.5 83.7L480.6 84.9L480.7 86.5L480.8 88.4L480.9 90.7L481.0 93.2L481.1 95.9L481.2 98.6L481.3 101.3L481.4 103.9L481.6 106.9L481.7 110.1L481.8 113.6L481.9 117.4L482.0 121.3L482.1 125.4L482.2 129.5L482.3 133.7L482.4 137.9L482.5 142.1L482.6 146.4L482.7 150.8L482.9 155.3L483.0 159.9L483.1 164.6L483.2 169.4L483.3 174.4L483.4 179.4L483.5 184.6L483.6 189.9L483.7 195.3L483.8 201.8L483.9 209.2L484.1 216.9L484.2 224.3L484.3 230.9L484.4 236.1L484.5 239.2L484.6 240.9L484.7 242.3L484.8 243.7L484.9 244.9L485.0 245.9L485.1 246.7L485.2 247.3L485.4 247.8L485.5 247.9L485.6 247.9L485.7 247.9L485.8 247.8L485.9 247.8L486.0 247.6L486.1 247.5L486.2 247.3L486.3 247.1L486.4 246.9L486.6 246.6L486.7 246.4L486.8 246.1L486.9 245.8L487.0 245.5L487.1 245.2L487.2 244.8L487.3 244.4L487.4 244.1L487.5 243.7L487.6 243.3L487.8 242.9L487.9 242.4L488.0 242.0L488.1 241.6L488.2 241.1L488.3 240.7L488.4 240.3L488.5 239.8L488.6 239.4L488.7 238.9L488.8 238.5L488.9 238.0L489.1 237.6L489.2 237.1L489.3 236.7L489.4 236.3L489.5 235.9L489.6 235.5L489.7 235.1L489.8 234.7L489.9 234.3L490.0 233.9L490.1 233.6L490.3 233.2L490.4 232.8L490.5 232.4L490.6 231.9L490.7 231.5L490.8 231.0L490.9 230.6L491.0 230.1L491.1 229.6L491.2 229.1L491.3 228.7L491.5 228.2L491.6 227.8L491.7 227.4L491.8 227.0L491.9 226.6L492.0 226.3L492.1 226.0L492.2 225.8L492.3 225.5L492.4 225.4L492.5 225.3L492.6 225.2L492.8 225.2L492.9 225.2L493.0 225.2L493.1 225.3L493.2 225.3L493.3 225.4L493.4 225.4L493.5 225.5L493.6 225.5L493.7 225.6L493.8 225.7L494.0 225.8L494.1 225.8L494.2 225.9L494.3 226.0L494.4 226.1L494.5 226.2L494.6 226.3L494.7 226.4L494.8 226.5L494.9 226.6L495.0 226.7L495.2 226.8L495.3 226.9L495.4 226.9L495.5 227.0L495.6 227.1L495.7 227.2L495.8 227.2L495.9 227.3L496.0 227.3L496.1 227.4L496.2 227.4L496.3 227.5L496.5 227.5L496.6 227.5L496.7 227.5L496.8 227.4L496.9 227.3L497.0 227.1L497.1 226.9L497.2 226.7L497.3 226.4L497.4 226.1L497.5 225.7L497.7 225.3L497.8 224.9L497.9 224.5L498.0 224.1L498.1 223.6L498.2 223.1L498.3 222.7L498.4 222.2L498.5 221.7L498.6 221.2L498.7 220.7L498.9 220.2L499.0 219.8L499.1 219.3L499.2 218.9L499.3 218.5L499.4 218.1L499.5 217.7L499.6 217.4L499.7 217.1L499.8 216.8L499.9 216.6L500.0 216.4L500.2 216.2L500.3 216.1L500.4 216.1L500.5 216.1L500.6 216.1L500.7 216.2L500.8 216.2L500.9 216.3L501.0 216.4L501.1 216.5L501.2 216.7L501.4 216.8L501.5 217.0L501.6 217.2L501.7 217.4L501.8 217.6L501.9 217.8L502.0 218.0L502.1 218.3L502.2 218.5L502.3 218.8L502.4 219.1L502.6 219.4L502.7 219.7L502.8 220.0L502.9 220.3L503.0 220.7L503.1 221.0L503.2 221.4L503.3 221.7L503.4 222.1L503.5 222.4L503.6 222.8L503.7 223.2L503.9 223.6L504.0 224.0L504.1 224.4L504.2 224.8L504.3 225.2L504.4 225.6L504.5 226.2L504.6 226.9L504.7 227.7L504.8 228.6L504.9 229.6L505.1 230.7L505.2 231.7L505.3 232.8L505.4 234.0L505.5 235.1L505.6 236.2L505.7 237.3L505.8 238.4L505.9 239.4L506.0 240.4L506.1 241.2L506.3 242.0L506.4 242.7L506.5 243.2L506.6 243.6L506.7 243.9L506.8 244.0L506.9 243.9L507.0 243.8L507.1 243.6L507.2 243.2L507.3 242.9L507.4 242.4L507.6 241.9L507.7 241.3L507.8 240.6L507.9 239.9L508.0 239.2L508.1 238.4L508.2 237.6L508.3 236.7L508.4 235.8L508.5 234.9L508.6 234.0L508.8 233.1L508.9 232.2L509.0 231.3L509.1 230.5L509.2 229.6L509.3 228.7L509.4 227.9L509.5 227.1L509.6 226.4L509.7 225.7L509.8 225.0L509.9 224.5L510.1 223.9L510.2 223.5L510.3 223.1L510.4 222.8L510.5 222.5L510.6 222.4L510.7 222.4L510.8 222.4L510.9 222.6L511.0 222.8L511.1 223.2L511.3 223.6L511.4 224.1L511.5 224.7L511.6 225.3L511.7 226.0L511.8 226.8L511.9 227.6L512.0 228.4L512.1 229.3L512.2 230.2L512.3 231.1L512.5 232.0L512.6 233.0L512.7 233.9L512.8 234.9L512.9 235.8L513.0 236.7L513.1 237.6L513.2 238.5L513.3 239.4L513.4 240.2L513.5 241.0L513.6 241.7L513.8 242.4L513.9 243.0L514.0 243.6L514.1 244.0L514.2 244.4L514.3 244.7L514.4 245.0L514.5 245.1L514.6 245.1L514.7 245.1L514.8 245.1L515.0 245.1L515.1 245.1L515.2 245.0L515.3 245.0L515.4 245.0L515.5 244.9L515.6 244.9L515.7 244.8L515.8 244.7L515.9 244.7L516.0 244.6L516.2 244.5L516.3 244.4L516.4 244.3L516.5 244.2L516.6 244.1L516.7 244.0L516.8 243.9L516.9 243.8L517.0 243.7L517.1 243.5L517.2 243.4L517.3 243.2L517.5 243.1L517.6 242.9L517.7 242.8L517.8 242.6L517.9 242.4L518.0 242.3L518.1 242.0L518.2 241.6L518.3 241.2L518.4 240.5L518.5 239.8L518.7 239.0L518.8 238.1L518.9 237.0L519.0 235.9L519.1 234.7L519.2 233.4L519.3 232.0L519.4 230.6L519.5 229.1L519.6 227.5L519.7 225.8L519.9 224.1L520.0 222.4L520.1 220.6L520.2 218.8L520.3 216.9L520.4 214.7L520.5 212.0L520.6 208.7L520.7 205.0L520.8 201.1L520.9 197.2L521.0 193.2L521.2 189.5L521.3 186.1L521.4 183.2L521.5 180.6L521.6 177.9L521.7 175.2L521.8 172.5L521.9 169.8L522.0 167.3L522.1 164.8L522.2 162.6L522.4 160.5L522.5 158.8L522.6 157.3L522.7 156.2L522.8 155.5L522.9 155.3L523.0 155.5L523.1 156.4L523.2 157.7L523.3 159.4L523.4 161.5L523.6 163.8L523.7 166.4L523.8 169.1L523.9 172.0L524.0 174.8L524.1 177.6L524.2 180.3L524.3 182.8L524.4 185.5L524.5 188.4L524.6 191.6L524.7 194.8L524.9 198.2L525.0 201.5L525.1 204.7L525.2 207.8L525.3 210.6L525.4 213.1L525.5 215.3L525.6 216.9L525.7 218.4L525.8 219.9L525.9 221.3L526.1 222.8L526.2 224.1L526.3 225.4L526.4 226.7L526.5 227.9L526.6 229.0L526.7 230.0L526.8 230.9L526.9 231.7L527.0 232.3L527.1 232.9L527.3 233.3L527.4 233.6L527.5 233.7L527.6 233.5L527.7 232.6L527.8 230.9L527.9 228.6L528.0 225.7L528.1 222.5L528.2 218.8L528.3 214.9L528.4 210.8L528.6 206.7L528.7 202.5L528.8 198.4L528.9 194.4L529.0 190.8L529.1 187.4L529.2 184.6L529.3 182.2L529.4 180.0L529.5 177.7L529.6 175.5L529.8 173.2L529.9 170.9L530.0 168.7L530.1 166.5L530.2 164.4L530.3 162.3L530.4 160.4L530.5 158.6L530.6 156.9L530.7 155.4L530.8 154.1L530.9 153.0L531.1 152.0L531.2 151.3L531.3 150.9L531.4 150.7L531.5 150.9L531.6 151.5L531.7 152.6L531.8 154.0L531.9 155.8L532.0 157.8L532.1 160.1L532.3 162.5L532.4 165.1L532.5 167.8L532.6 170.5L532.7 173.2L532.8 175.8L532.9 178.4L533.0 180.8L533.1 183.1L533.2 185.6L533.3 188.4L533.5 191.4L533.6 194.5L533.7 197.5L533.8 200.4L533.9 203.0L534.0 205.2L534.1 206.9L534.2 207.9L534.3 208.1L534.4 207.8L534.5 206.9L534.6 205.7L534.8 204.2L534.9 202.4L535.0 200.5L535.1 198.5L535.2 196.5L535.3 194.5L535.4 192.7L535.5 191.1L535.6 189.8L535.7 188.8L535.8 188.3L536.0 188.4L536.1 189.6L536.2 191.8L536.3 194.8L536.4 198.4L536.5 202.6L536.6 207.1L536.7 211.7L536.8 216.3L536.9 220.7L537.0 224.7L537.2 228.2L537.3 231.0L537.4 232.9L537.5 233.7L537.6 233.6L537.7 233.3L537.8 232.7L537.9 231.9L538.0 230.9L538.1 229.7L538.2 228.3L538.3 226.9L538.5 225.3L538.6 223.6L538.7 221.8L538.8 220.0L538.9 218.1L539.0 216.2L539.1 214.4L539.2 212.6L539.3 210.8L539.4 209.1L539.5 207.4L539.7 205.6L539.8 203.5L539.9 201.3L540.0 198.9L540.1 196.5L540.2 194.0L540.3 191.5L540.4 189.1L540.5 186.8L540.6 184.7L540.7 182.7L540.9 181.0L541.0 179.5L541.1 178.4L541.2 177.7L541.3 177.4L541.4 177.7L541.5 178.4L541.6 179.7L541.7 181.4L541.8 183.4L541.9 185.7L542.0 188.1L542.2 190.8L542.3 193.5L542.4 196.2L542.5 198.8L542.6 201.3L542.7 203.5L542.8 205.5L542.9 207.2L543.0 208.4L543.1 209.5L543.2 210.5L543.4 211.4L543.5 212.3L543.6 213.2L543.7 214.0L543.8 214.7L543.9 215.4L544.0 216.1L544.1 216.8L544.2 217.5L544.3 218.1L544.4 218.8L544.6 219.5L544.7 220.1L544.8 220.8L544.9 221.5L545.0 222.3L545.1 223.0L545.2 223.9L545.3 224.8L545.4 225.7L545.5 226.6L545.6 227.6L545.7 228.6L545.9 229.6L546.0 230.6L546.1 231.5L546.2 232.5L546.3 233.4L546.4 234.3L546.5 235.2L546.6 236.0L546.7 236.7L546.8 237.4L546.9 237.9L547.1 238.4L547.2 238.9L547.3 239.2L547.4 239.3L547.5 239.4L547.6 239.3L547.7 238.8L547.8 238.0L547.9 237.0L548.0 235.8L548.1 234.4L548.3 232.9L548.4 231.4L548.5 229.9L548.6 228.4L548.7 226.7L548.8 224.6L548.9 222.2L549.0 219.5L549.1 216.7L549.2 213.9L549.3 211.3L549.4 209.1L549.6 207.2L549.7 205.9L549.8 205.3L549.9 205.6L550.0 206.9L550.1 209.1L550.2 211.9L550.3 215.1L550.4 218.6L550.5 222.2L550.6 225.7L550.8 228.8L550.9 231.4L551.0 233.4L551.1 234.7L551.2 235.9L551.3 237.1L551.4 238.3L551.5 239.4L551.6 240.5L551.7 241.5L551.8 242.4L552.0 243.1L552.1 243.8L552.2 244.4L552.3 244.8L552.4 245.0L552.5 245.1L552.6 245.1L552.7 245.1L552.8 245.0L552.9 244.9L553.0 244.7L553.1 244.4L553.3 244.1L553.4 243.7L553.5 243.2L553.6 242.6L553.7 241.9L553.8 241.1" stroke="#0072bd" stroke-width="0.9" stroke-opacity="0.9" marker-start="url(#mb)" marker-mid="url(#mb)" marker-end="url(#mb)"/><path d="M325.3 233.1L325.4 234.0L325.5 234.8L325.6 235.6L325.7 236.4L325.8 237.1L326.0 237.8L326.1 238.5L326.2 239.2L326.3 239.9L326.4 240.5L326.5 241.1L326.6 241.6L326.7 242.1L326.8 242.6L326.9 243.1L327.0 243.5L327.1 243.8L327.3 244.2L327.4 244.5L327.5 244.7L327.6 244.9L327.7 245.1L327.8 245.2L327.9 245.3L328.0 245.3L328.1 245.2L328.2 245.1L328.3 245.0L328.5 244.7L328.6 244.4L328.7 244.1L328.8 243.7L328.9 243.3L329.0 242.8L329.1 242.3L329.2 241.7L329.3 241.1L329.4 240.5L329.5 239.8L329.7 239.1L329.8 238.4L329.9 237.6L330.0 236.9L330.1 236.1L330.2 235.3L330.3 234.5L330.4 233.7L330.5 232.9L330.6 232.1L330.7 231.3L330.8 230.5L331.0 229.7L331.1 228.9L331.2 228.1L331.3 227.3L331.4 226.6L331.5 225.8L331.6 225.1L331.7 224.5L331.8 223.8L331.9 223.2L332.0 222.6L332.2 222.1L332.3 221.6L332.4 221.1L332.5 220.7L332.6 220.3L332.7 220.0L332.8 219.8L332.9 219.6L333.0 219.4L333.1 219.4L333.2 219.4L333.4 219.4L333.5 219.6L333.6 219.8L333.7 220.1L333.8 220.4L333.9 220.8L334.0 221.2L334.1 221.6L334.2 222.0L334.3 222.4L334.4 222.9L334.5 223.3L334.7 223.6L334.8 224.0L334.9 224.3L335.0 224.5L335.1 224.7L335.2 224.8L335.3 224.9L335.4 224.8L335.5 224.6L335.6 224.2L335.7 223.7L335.9 223.1L336.0 222.5L336.1 221.7L336.2 220.9L336.3 220.0L336.4 219.0L336.5 218.0L336.6 217.0L336.7 215.9L336.8 214.9L336.9 213.8L337.1 212.8L337.2 211.8L337.3 210.8L337.4 209.9L337.5 209.0L337.6 208.3L337.7 207.5L337.8 206.9L337.9 206.4L338.0 206.0L338.1 205.7L338.2 205.6L338.4 205.6L338.5 205.7L338.6 205.9L338.7 206.1L338.8 206.5L338.9 206.9L339.0 207.4L339.1 207.9L339.2 208.5L339.3 209.1L339.4 209.7L339.6 210.4L339.7 211.0L339.8 211.7L339.9 212.4L340.0 213.1L340.1 213.8L340.2 214.4L340.3 215.0L340.4 215.6L340.5 216.2L340.6 216.7L340.8 217.1L340.9 217.5L341.0 217.8L341.1 218.1L341.2 218.2L341.3 218.3L341.4 218.2L341.5 218.0L341.6 217.7L341.7 217.3L341.8 216.8L341.9 216.3L342.1 215.6L342.2 214.9L342.3 214.1L342.4 213.3L342.5 212.4L342.6 211.5L342.7 210.6L342.8 209.7L342.9 208.8L343.0 207.8L343.1 206.9L343.3 206.1L343.4 205.2L343.5 204.4L343.6 203.6L343.7 203.0L343.8 202.3L343.9 201.8L344.0 201.3L344.1 201.0L344.2 200.7L344.3 200.6L344.5 200.6L344.6 200.7L344.7 200.9L344.8 201.2L344.9 201.5L345.0 201.9L345.1 202.4L345.2 202.9L345.3 203.4L345.4 204.0L345.5 204.6L345.6 205.1L345.8 205.7L345.9 206.2L346.0 206.7L346.1 207.2L346.2 207.6L346.3 207.9L346.4 208.2L346.5 208.3L346.6 208.5L346.7 208.6L346.8 208.7L347.0 208.8L347.1 208.9L347.2 209.0L347.3 209.0L347.4 209.1L347.5 209.1L347.6 209.2L347.7 209.3L347.8 209.3L347.9 209.4L348.0 209.5L348.1 209.6L348.3 209.7L348.4 209.8L348.5 209.9L348.6 210.1L348.7 210.3L348.8 210.6L348.9 211.0L349.0 211.4L349.1 211.8L349.2 212.4L349.3 212.9L349.5 213.5L349.6 214.1L349.7 214.8L349.8 215.5L349.9 216.3L350.0 217.0L350.1 217.8L350.2 218.7L350.3 219.5L350.4 220.4L350.5 221.2L350.7 222.1L350.8 223.0L350.9 223.9L351.0 224.8L351.1 225.7L351.2 226.6L351.3 227.5L351.4 228.3L351.5 229.2L351.6 230.1L351.7 230.9L351.8 231.7L352.0 232.5L352.1 233.2L352.2 234.0L352.3 234.7L352.4 235.3L352.5 235.9L352.6 236.5L352.7 237.1L352.8 237.7L352.9 238.3L353.0 239.0L353.2 239.6L353.3 240.3L353.4 240.9L353.5 241.5L353.6 242.1L353.7 242.7L353.8 243.2L353.9 243.7L354.0 244.1L354.1 244.5L354.2 244.8L354.4 245.0L354.5 245.2L354.6 245.3L354.7 245.2L354.8 244.9L354.9 244.3L355.0 243.6L355.1 242.6L355.2 241.5L355.3 240.2L355.4 238.8L355.5 237.3L355.7 235.8L355.8 234.1L355.9 232.4L356.0 230.8L356.1 229.1L356.2 227.4L356.3 225.8L356.4 224.3L356.5 222.8L356.6 221.4L356.7 219.8L356.9 218.2L357.0 216.6L357.1 215.0L357.2 213.3L357.3 211.7L357.4 210.0L357.5 208.4L357.6 206.9L357.7 205.4L357.8 204.0L357.9 202.7L358.1 201.3L358.2 200.0L358.3 198.7L358.4 197.4L358.5 196.1L358.6 194.9L358.7 193.7L358.8 192.5L358.9 191.3L359.0 190.1L359.1 189.0L359.2 187.9L359.4 186.9L359.5 185.8L359.6 184.8L359.7 183.8L359.8 182.8L359.9 181.7L360.0 180.6L360.1 179.5L360.2 178.4L360.3 177.3L360.4 176.3L360.6 175.2L360.7 174.2L360.8 173.2L360.9 172.3L361.0 171.4L361.1 170.7L361.2 170.0L361.3 169.4L361.4 168.8L361.5 168.5L361.6 168.2L361.8 168.1L361.9 168.1L362.0 168.5L362.1 169.1L362.2 170.1L362.3 171.3L362.4 172.7L362.5 174.2L362.6 175.9L362.7 177.7L362.8 179.6L362.9 181.4L363.1 183.3L363.2 185.1L363.3 186.9L363.4 188.5L363.5 190.0L363.6 191.4L363.7 192.8L363.8 194.1L363.9 195.5L364.0 196.9L364.1 198.2L364.3 199.6L364.4 200.9L364.5 202.3L364.6 203.7L364.7 205.1L364.8 206.6L364.9 208.2L365.0 209.9L365.1 211.6L365.2 213.4L365.3 215.3L365.5 217.1L365.6 218.9L365.7 220.7L365.8 222.5L365.9 224.2L366.0 225.8L366.1 227.4L366.2 228.8L366.3 230.1L366.4 231.2L366.5 232.2L366.6 233.0L366.8 233.7L366.9 234.1L367.0 234.2L367.1 234.2L367.2 233.9L367.3 233.3L367.4 232.6L367.5 231.6L367.6 230.4L367.7 229.1L367.8 227.6L368.0 226.0L368.1 224.3L368.2 222.4L368.3 220.4L368.4 218.4L368.5 216.2L368.6 214.1L368.7 211.9L368.8 209.6L368.9 207.4L369.0 205.1L369.2 202.9L369.3 200.7L369.4 198.6L369.5 196.5L369.6 194.5L369.7 192.6L369.8 190.8L369.9 189.1L370.0 187.5L370.1 186.2L370.2 184.9L370.3 183.9L370.5 183.1L370.6 182.4L370.7 182.0L370.8 181.8L370.9 181.9L371.0 182.0L371.1 182.2L371.2 182.5L371.3 182.8L371.4 183.2L371.5 183.7L371.7 184.3L371.8 184.9L371.9 185.5L372.0 186.2L372.1 186.9L372.2 187.7L372.3 188.5L372.4 189.3L372.5 190.1L372.6 191.0L372.7 191.9L372.8 192.7L373.0 193.6L373.1 194.5L373.2 195.3L373.3 196.2L373.4 197.0L373.5 197.8L373.6 198.6L373.7 199.4L373.8 200.1L373.9 200.8L374.0 201.4L374.2 202.1L374.3 202.7L374.4 203.3L374.5 204.0L374.6 204.6L374.7 205.3L374.8 205.9L374.9 206.6L375.0 207.2L375.1 207.9L375.2 208.5L375.4 209.2L375.5 209.8L375.6 210.4L375.7 211.1L375.8 211.7L375.9 212.4L376.0 213.0L376.1 213.6L376.2 214.2L376.3 214.9L376.4 215.5L376.5 216.1L376.7 216.7L376.8 217.3L376.9 217.8L377.0 218.4L377.1 219.0L377.2 219.5L377.3 220.1L377.4 220.6L377.5 221.1L377.6 221.6L377.7 222.1L377.9 222.6L378.0 223.1L378.1 223.5L378.2 224.0L378.3 224.5L378.4 224.9L378.5 225.4L378.6 225.9L378.7 226.4L378.8 226.9L378.9 227.4L379.1 227.8L379.2 228.3L379.3 228.8L379.4 229.3L379.5 229.8L379.6 230.3L379.7 230.8L379.8 231.3L379.9 231.8L380.0 232.2L380.1 232.7L380.2 233.2L380.4 233.7L380.5 234.1L380.6 234.6L380.7 235.0L380.8 235.5L380.9 235.9L381.0 236.3L381.1 236.8L381.2 237.2L381.3 237.6L381.4 238.0L381.6 238.4L381.7 238.7L381.8 239.1L381.9 239.4L382.0 239.8L382.1 240.1L382.2 240.4L382.3 240.7L382.4 241.0L382.5 241.2L382.6 241.5L382.8 241.7L382.9 241.9L383.0 242.1L383.1 242.3L383.2 242.5L383.3 242.6L383.4 242.8L383.5 242.9L383.6 242.9L383.7 243.0L383.8 243.1L383.9 243.1L384.1 243.1L384.2 243.0L384.3 242.8L384.4 242.6L384.5 242.3L384.6 241.9L384.7 241.4L384.8 240.9L384.9 240.3L385.0 239.7L385.1 238.9L385.3 238.2L385.4 237.4L385.5 236.5L385.6 235.5L385.7 234.6L385.8 233.6L385.9 232.5L386.0 231.4L386.1 230.2L386.2 229.1L386.3 227.9L386.5 226.6L386.6 225.3L386.7 224.1L386.8 222.7L386.9 221.4L387.0 220.0L387.1 218.7L387.2 217.3L387.3 215.9L387.4 214.5L387.5 213.0L387.6 211.6L387.8 210.2L387.9 208.8L388.0 207.4L388.1 206.0L388.2 204.5L388.3 203.2L388.4 201.8L388.5 200.4L388.6 199.1L388.7 197.7L388.8 196.4L389.0 195.1L389.1 193.9L389.2 192.7L389.3 191.5L389.4 190.3L389.5 189.2L389.6 188.1L389.7 187.1L389.8 186.1L389.9 185.2L390.0 184.3L390.2 183.3L390.3 182.4L390.4 181.4L390.5 180.4L390.6 179.4L390.7 178.4L390.8 177.4L390.9 176.4L391.0 175.3L391.1 174.3L391.2 173.2L391.3 172.2L391.5 171.1L391.6 170.1L391.7 169.1L391.8 168.1L391.9 167.1L392.0 166.2L392.1 165.2L392.2 164.3L392.3 163.4L392.4 162.6L392.5 161.8L392.7 161.0L392.8 160.3L392.9 159.6L393.0 159.0L393.1 158.4L393.2 157.9L393.3 157.4L393.4 157.0L393.5 156.6L393.6 156.3L393.7 156.1L393.9 156.0L394.0 155.9L394.1 156.0L394.2 156.5L394.3 157.4L394.4 158.6L394.5 160.1L394.6 161.9L394.7 163.8L394.8 165.9L394.9 168.1L395.0 170.4L395.2 172.6L395.3 174.8L395.4 176.9L395.5 178.8L395.6 180.7L395.7 182.7L395.8 184.8L395.9 187.0L396.0 189.2L396.1 191.3L396.2 193.4L396.4 195.2L396.5 196.8L396.6 198.1L396.7 199.1L396.8 200.0L396.9 200.7L397.0 201.3L397.1 202.0L397.2 202.5L397.3 203.2L397.4 203.8L397.5 204.6L397.7 205.5L397.8 206.7L397.9 208.0L398.0 209.5L398.1 211.1L398.2 212.7L398.3 214.3L398.4 215.8L398.5 217.2L398.6 218.5L398.7 219.4L398.9 220.1L399.0 220.4L399.1 220.4L399.2 220.2L399.3 219.9L399.4 219.5L399.5 219.0L399.6 218.4L399.7 217.6L399.8 216.9L399.9 216.0L400.1 215.2L400.2 214.3L400.3 213.4L400.4 212.5L400.5 211.6L400.6 210.8L400.7 210.0L400.8 209.2L400.9 208.5L401.0 207.9L401.1 207.4L401.2 207.1L401.4 206.8L401.5 206.7L401.6 206.7L401.7 206.8L401.8 207.0L401.9 207.3L402.0 207.7L402.1 208.2L402.2 208.7L402.3 209.2L402.4 209.9L402.6 210.5L402.7 211.2L402.8 211.9L402.9 212.7L403.0 213.4L403.1 214.2L403.2 214.9L403.3 215.7L403.4 216.4L403.5 217.1L403.6 217.8L403.8 218.4L403.9 218.9L404.0 219.5L404.1 219.9L404.2 220.3L404.3 220.6L404.4 220.8L404.5 221.0L404.6 221.0L404.7 221.0L404.8 220.9L404.9 220.8L405.1 220.6L405.2 220.4L405.3 220.1L405.4 219.9L405.5 219.5L405.6 219.2L405.7 218.8L405.8 218.5L405.9 218.1L406.0 217.6L406.1 217.2L406.3 216.8L406.4 216.3L406.5 215.9L406.6 215.4L406.7 215.0L406.8 214.5L406.9 214.1L407.0 213.7L407.1 213.3L407.2 212.9L407.3 212.5L407.5 212.2L407.6 211.8L407.7 211.5L407.8 211.3L407.9 211.0L408.0 210.9L408.1 210.7L408.2 210.6L408.3 210.5L408.4 210.5L408.5 210.6L408.6 210.7L408.8 210.9L408.9 211.1L409.0 211.4L409.1 211.7L409.2 212.0L409.3 212.4L409.4 212.9L409.5 213.3L409.6 213.8L409.7 214.3L409.8 214.8L410.0 215.3L410.1 215.8L410.2 216.3L410.3 216.9L410.4 217.4L410.5 217.8L410.6 218.3L410.7 218.8L410.8 219.2L410.9 219.6L411.0 219.9L411.2 220.2L411.3 220.5L411.4 220.7L411.5 220.9L411.6 221.0L411.7 221.0L411.8 221.0L411.9 220.9L412.0 220.8L412.1 220.7L412.2 220.5L412.3 220.3L412.5 220.1L412.6 219.8L412.7 219.5L412.8 219.1L412.9 218.8L413.0 218.4L413.1 218.0L413.2 217.6L413.3 217.2L413.4 216.7L413.5 216.3L413.7 215.8L413.8 215.3L413.9 214.9L414.0 214.4L414.1 213.9L414.2 213.4L414.3 212.9L414.4 212.4L414.5 212.0L414.6 211.5L414.7 211.0L414.9 210.6L415.0 210.2L415.1 209.7L415.2 209.3L415.3 209.0L415.4 208.6L415.5 208.3L415.6 208.0L415.7 207.7L415.8 207.4L415.9 207.2L416.0 207.0L416.2 206.9L416.3 206.8L416.4 206.7L416.5 206.7L416.6 206.7L416.7 206.7L416.8 206.8L416.9 207.0L417.0 207.1L417.1 207.3L417.2 207.5L417.4 207.8L417.5 208.0L417.6 208.3L417.7 208.6L417.8 208.9L417.9 209.1L418.0 209.4L418.1 209.8L418.2 210.1L418.3 210.6L418.4 211.0L418.5 211.5L418.7 212.1L418.8 212.7L418.9 213.3L419.0 213.9L419.1 214.6L419.2 215.3L419.3 216.0L419.4 216.7L419.5 217.4L419.6 218.1L419.7 218.8L419.9 219.5L420.0 220.2L420.1 220.8L420.2 221.5L420.3 222.1L420.4 222.7L420.5 223.3L420.6 223.8L420.7 224.3L420.8 224.9L420.9 225.4L421.1 225.9L421.2 226.4L421.3 226.9L421.4 227.3L421.5 227.8L421.6 228.3L421.7 228.8L421.8 229.3L421.9 229.8L422.0 230.2L422.1 230.7L422.2 231.2L422.4 231.7L422.5 232.2L422.6 232.7L422.7 233.2L422.8 233.8L422.9 234.3L423.0 234.9L423.1 235.5L423.2 236.2L423.3 236.9L423.4 237.7L423.6 238.5L423.7 239.3L423.8 240.0L423.9 240.8L424.0 241.4L424.1 242.0L424.2 242.5L424.3 242.8L424.4 243.0L424.5 243.1L424.6 243.0L424.8 242.9L424.9 242.7L425.0 242.4L425.1 242.0L425.2 241.6L425.3 241.2L425.4 240.6L425.5 240.1L425.6 239.4L425.7 238.8L425.8 238.1L425.9 237.3L426.1 236.5L426.2 235.7L426.3 234.9L426.4 234.0L426.5 233.1L426.6 232.2L426.7 231.3L426.8 230.3L426.9 229.4L427.0 228.4L427.1 227.2L427.3 225.7L427.4 223.9L427.5 221.8L427.6 219.6L427.7 217.1L427.8 214.5L427.9 211.7L428.0 208.7L428.1 205.7L428.2 202.5L428.3 199.3L428.5 196.1L428.6 192.8L428.7 189.5L428.8 186.3L428.9 183.1L429.0 179.9L429.1 176.9L429.2 174.0L429.3 171.2L429.4 168.6L429.5 166.1L429.6 163.9L429.8 161.9L429.9 160.1L430.0 158.6L430.1 157.4L430.2 156.6L430.3 156.1L430.4 155.9L430.5 156.2L430.6 156.8L430.7 157.7L430.8 159.0L431.0 160.5L431.1 162.2L431.2 164.0L431.3 166.0L431.4 168.1L431.5 170.2L431.6 172.3L431.7 174.4L431.8 176.4L431.9 178.3L432.0 180.0L432.2 181.5L432.3 182.8L432.4 183.7L432.5 184.3L432.6 184.6L432.7 184.6L432.8 184.4L432.9 184.1L433.0 183.8L433.1 183.4L433.2 182.9L433.3 182.4L433.5 181.8L433.6 181.3L433.7 180.7L433.8 180.1L433.9 179.6L434.0 179.1L434.1 178.5L434.2 177.9L434.3 177.3L434.4 176.6L434.5 175.8L434.7 175.1L434.8 174.3L434.9 173.6L435.0 172.9L435.1 172.2L435.2 171.6L435.3 171.0L435.4 170.5L435.5 170.1L435.6 169.9L435.7 169.7L435.9 169.7L436.0 170.0L436.1 170.6L436.2 171.4L436.3 172.5L436.4 173.7L436.5 175.1L436.6 176.7L436.7 178.4L436.8 180.1L436.9 182.0L437.0 183.8L437.2 185.7L437.3 187.6L437.4 189.4L437.5 191.2L437.6 192.8L437.7 194.4L437.8 195.7L437.9 197.1L438.0 198.4L438.1 199.7L438.2 201.1L438.4 202.4L438.5 203.8L438.6 205.1L438.7 206.4L438.8 207.7L438.9 209.0L439.0 210.3L439.1 211.6L439.2 212.8L439.3 214.0L439.4 215.1L439.5 216.3L439.7 217.4L439.8 218.4L439.9 219.4L440.0 220.3L440.1 221.3L440.2 222.2L440.3 223.1L440.4 224.1L440.5 225.0L440.6 226.0L440.7 227.0L440.9 227.9L441.0 228.9L441.1 229.8L441.2 230.8L441.3 231.7L441.4 232.6L441.5 233.5L441.6 234.4L441.7 235.2L441.8 236.1L441.9 236.9L442.1 237.7L442.2 238.4L442.3 239.1L442.4 239.8L442.5 240.4L442.6 241.0L442.7 241.6L442.8 242.1L442.9 242.6L443.0 243.0L443.1 243.3L443.2 243.6L443.4 243.9L443.5 244.0L443.6 244.1L443.7 244.2L443.8 244.2L443.9 244.1L444.0 244.0L444.1 243.9L444.2 243.7L444.3 243.5L444.4 243.2L444.6 243.0L444.7 242.7L444.8 242.3L444.9 242.0L445.0 241.6L445.1 241.1L445.2 240.7L445.3 240.2L445.4 239.7L445.5 239.2L445.6 238.7L445.8 238.2L445.9 237.6L446.0 237.0L446.1 236.4L446.2 235.8L446.3 235.2L446.4 234.6L446.5 234.0L446.6 233.4L446.7 232.7L446.8 232.1L446.9 231.5L447.1 230.8L447.2 230.2L447.3 229.6L447.4 229.0L447.5 228.4L447.6 227.7L447.7 227.2L447.8 226.6L447.9 226.0L448.0 225.4L448.1 224.9L448.3 224.4L448.4 223.8L448.5 223.4L448.6 222.9L448.7 222.4L448.8 222.0L448.9 221.6L449.0 221.2L449.1 220.9L449.2 220.6L449.3 220.3L449.5 220.1L449.6 219.9L449.7 219.7L449.8 219.5L449.9 219.4L450.0 219.4L450.1 219.4L450.2 219.4L450.3 219.5L450.4 219.6L450.5 219.9L450.6 220.1L450.8 220.4L450.9 220.8L451.0 221.2L451.1 221.7L451.2 222.2L451.3 222.7L451.4 223.3L451.5 223.9L451.6 224.5L451.7 225.2L451.8 225.9L452.0 226.6L452.1 227.3L452.2 228.0L452.3 228.8L452.4 229.6L452.5 230.3L452.6 231.1L452.7 231.9L452.8 232.7L452.9 233.4L453.0 234.2L453.2 235.0L453.3 235.7L453.4 236.5L453.5 237.2L453.6 237.9L453.7 238.5L453.8 239.2L453.9 239.8L454.0 240.4L454.1 241.0L454.2 241.5L454.3 242.0L454.5 242.4L454.6 242.8L454.7 243.2L454.8 243.5L454.9 243.7L455.0 243.9L455.1 244.1L455.2 244.2L455.3 244.2L455.4 244.2L455.5 244.1L455.7 244.0L455.8 243.8L455.9 243.7L456.0 243.5L456.1 243.2L456.2 243.0L456.3 242.7L456.4 242.4L456.5 242.0L456.6 241.6L456.7 241.2L456.9 240.8L457.0 240.4L457.1 239.9L457.2 239.4L457.3 238.9L457.4 238.4L457.5 237.8L457.6 237.3L457.7 236.7L457.8 236.1L457.9 235.5L458.0 234.9L458.2 234.2L458.3 233.6L458.4 233.0L458.5 232.3L458.6 231.6L458.7 231.0L458.8 230.3L458.9 229.6L459.0 228.9L459.1 228.3L459.2 227.6L459.4 226.9L459.5 226.2L459.6 225.6L459.7 224.9L459.8 224.2L459.9 223.6L460.0 222.9L460.1 222.3L460.2 221.7L460.3 221.0L460.4 220.4L460.6 219.8L460.7 219.3L460.8 218.7L460.9 218.1L461.0 217.6L461.1 217.1L461.2 216.6L461.3 216.1L461.4 215.7L461.5 215.2L461.6 214.8L461.7 214.4L461.9 214.1L462.0 213.8L462.1 213.5L462.2 213.2L462.3 212.9L462.4 212.7L462.5 212.6L462.6 212.4L462.7 212.3L462.8 212.2L462.9 212.2L463.1 212.2L463.2 212.3L463.3 212.5L463.4 212.8L463.5 213.2L463.6 213.6L463.7 214.2L463.8 214.8L463.9 215.5L464.0 216.2L464.1 217.0L464.2 217.8L464.4 218.6L464.5 219.5L464.6 220.4L464.7 221.4L464.8 222.3L464.9 223.2L465.0 224.2L465.1 225.1L465.2 226.1L465.3 227.0L465.4 227.8L465.6 228.7L465.7 229.5L465.8 230.3L465.9 231.0L466.0 231.7L466.1 232.3L466.2 232.8L466.3 233.3L466.4 233.7L466.5 233.9L466.6 234.1L466.8 234.2L466.9 234.2L467.0 234.2L467.1 234.2L467.2 234.1L467.3 234.0L467.4 233.9L467.5 233.8L467.6 233.6L467.7 233.4L467.8 233.2L467.9 233.0L468.1 232.8L468.2 232.5L468.3 232.3L468.4 232.0L468.5 231.7L468.6 231.3L468.7 231.0L468.8 230.6L468.9 230.3L469.0 229.9L469.1 229.5L469.3 229.0L469.4 228.6L469.5 228.2L469.6 227.6L469.7 226.6L469.8 225.2L469.9 223.4L470.0 221.2L470.1 218.7L470.2 216.0L470.3 212.9L470.5 209.6L470.6 206.1L470.7 202.4L470.8 198.5L470.9 194.5L471.0 190.4L471.1 186.2L471.2 182.0L471.3 177.7L471.4 173.4L471.5 169.2L471.6 165.0L471.8 160.8L471.9 156.8L472.0 153.0L472.1 149.3L472.2 145.7L472.3 142.4L472.4 139.4L472.5 136.6L472.6 133.9L472.7 131.3L472.8 128.7L473.0 126.2L473.1 123.7L473.2 121.2L473.3 118.8L473.4 116.4L473.5 114.0L473.6 111.7L473.7 109.4L473.8 107.1L473.9 104.9L474.0 102.7L474.2 100.5L474.3 98.3L474.4 96.2L474.5 94.0L474.6 91.9L474.7 89.8L474.8 87.7L474.9 85.6L475.0 83.6L475.1 81.5L475.2 79.4L475.3 77.2L475.5 74.7L475.6 72.2L475.7 69.7L475.8 67.2L475.9 64.8L476.0 62.7L476.1 60.8L476.2 59.3L476.3 58.1L476.4 57.5L476.5 57.6L476.7 58.8L476.8 61.3L476.9 64.7L477.0 68.7L477.1 73.2L477.2 77.8L477.3 82.3L477.4 86.4L477.5 90.7L477.6 95.3L477.7 100.1L477.9 105.0L478.0 109.9L478.1 114.6L478.2 119.1L478.3 123.6L478.4 128.6L478.5 133.7L478.6 138.6L478.7 142.9L478.8 146.2L478.9 148.1L479.0 148.2L479.2 146.0L479.3 141.9L479.4 136.6L479.5 130.6L479.6 124.4L479.7 118.7L479.8 113.9L479.9 109.6L480.0 105.2L480.1 100.9L480.2 96.7L480.4 92.9L480.5 89.4L480.6 86.5L480.7 84.1L480.8 81.6L480.9 79.3L481.0 77.1L481.1 75.1L481.2 73.5L481.3 72.4L481.4 71.7L481.6 71.7L481.7 72.1L481.8 72.8L481.9 73.9L482.0 75.2L482.1 76.8L482.2 78.5L482.3 80.3L482.4 82.2L482.5 84.2L482.6 86.1L482.7 87.9L482.9 89.6L483.0 91.1L483.1 92.4L483.2 93.7L483.3 94.9L483.4 96.1L483.5 97.2L483.6 98.3L483.7 99.4L483.8 100.4L483.9 101.4L484.1 102.4L484.2 103.4L484.3 104.4L484.4 105.4L484.5 106.4L484.6 107.5L484.7 108.5L484.8 109.6L484.9 110.8L485.0 112.0L485.1 113.2L485.2 114.5L485.4 115.9L485.5 117.3L485.6 118.9L485.7 120.5L485.8 122.2L485.9 124.0L486.0 125.9L486.1 128.3L486.2 131.3L486.3 134.9L486.4 139.1L486.6 143.7L486.7 148.7L486.8 154.1L486.9 159.8L487.0 165.7L487.1 171.7L487.2 177.9L487.3 184.0L487.4 190.2L487.5 196.3L487.6 202.2L487.8 207.9L487.9 213.3L488.0 218.4L488.1 223.0L488.2 227.3L488.3 231.0L488.4 234.1L488.5 236.5L488.6 238.3L488.7 239.2L488.8 239.4L488.9 239.5L489.1 239.5L489.2 239.5L489.3 239.5L489.4 239.6L489.5 239.6L489.6 239.6L489.7 239.6L489.8 239.6L489.9 239.7L490.0 239.7L490.1 239.7L490.3 239.7L490.4 239.7L490.5 239.7L490.6 239.7L490.7 239.7L490.8 239.7L490.9 239.8L491.0 239.8L491.1 239.8L491.2 239.8L491.3 239.8L491.5 239.8L491.6 239.7L491.7 239.5L491.8 239.3L491.9 239.0L492.0 238.7L492.1 238.3L492.2 237.8L492.3 237.3L492.4 236.7L492.5 236.1L492.6 235.4L492.8 234.6L492.9 233.9L493.0 233.1L493.1 232.2L493.2 231.3L493.3 230.4L493.4 229.4L493.5 228.5L493.6 227.4L493.7 226.4L493.8 225.4L494.0 224.3L494.1 223.2L494.2 222.1L494.3 221.0L494.4 219.9L494.5 218.7L494.6 217.6L494.7 216.5L494.8 215.4L494.9 214.3L495.0 213.1L495.2 212.0L495.3 211.0L495.4 209.9L495.5 208.8L495.6 207.8L495.7 206.8L495.8 205.8L495.9 204.9L496.0 204.0L496.1 203.1L496.2 202.2L496.3 201.4L496.5 200.6L496.6 199.9L496.7 199.2L496.8 198.6L496.9 198.0L497.0 197.5L497.1 197.1L497.2 196.7L497.3 196.3L497.4 196.0L497.5 195.8L497.7 195.7L497.8 195.6L497.9 195.6L498.0 195.7L498.1 195.7L498.2 195.7L498.3 195.8L498.4 195.9L498.5 196.0L498.6 196.1L498.7 196.2L498.9 196.3L499.0 196.5L499.1 196.6L499.2 196.7L499.3 196.9L499.4 197.0L499.5 197.2L499.6 197.4L499.7 197.5L499.8 197.7L499.9 197.8L500.0 198.0L500.2 198.2L500.3 198.3L500.4 198.5L500.5 198.6L500.6 198.7L500.7 198.9L500.8 199.0L500.9 199.1L501.0 199.2L501.1 199.3L501.2 199.3L501.4 199.4L501.5 199.5L501.6 199.5L501.7 199.5L501.8 199.5L501.9 199.5L502.0 199.4L502.1 199.4L502.2 199.3L502.3 199.2L502.4 199.1L502.6 199.0L502.7 198.9L502.8 198.8L502.9 198.6L503.0 198.5L503.1 198.4L503.2 198.2L503.3 198.1L503.4 197.9L503.5 197.7L503.6 197.6L503.7 197.4L503.9 197.3L504.0 197.1L504.1 196.9L504.2 196.8L504.3 196.6L504.4 196.5L504.5 196.4L504.6 196.2L504.7 196.1L504.8 196.0L504.9 195.9L505.1 195.8L505.2 195.8L505.3 195.7L505.4 195.7L505.5 195.6L505.6 195.6L505.7 195.7L505.8 195.8L505.9 195.9L506.0 196.2L506.1 196.5L506.3 196.8L506.4 197.2L506.5 197.7L506.6 198.2L506.7 198.7L506.8 199.3L506.9 199.9L507.0 200.5L507.1 201.2L507.2 201.8L507.3 202.5L507.4 203.2L507.6 203.9L507.7 204.6L507.8 205.3L507.9 205.9L508.0 206.6L508.1 207.3L508.2 208.1L508.3 208.9L508.4 209.9L508.5 210.8L508.6 211.9L508.8 212.9L508.9 214.0L509.0 215.2L509.1 216.3L509.2 217.5L509.3 218.7L509.4 219.9L509.5 221.1L509.6 222.2L509.7 223.4L509.8 224.5L509.9 225.6L510.1 226.6L510.2 227.6L510.3 228.5L510.4 229.4L510.5 230.2L510.6 230.9L510.7 231.6L510.8 232.2L510.9 232.8L511.0 233.4L511.1 234.0L511.3 234.6L511.4 235.2L511.5 235.7L511.6 236.3L511.7 236.9L511.8 237.5L511.9 238.0L512.0 238.6L512.1 239.1L512.2 239.6L512.3 240.1L512.5 240.5L512.6 241.0L512.7 241.4L512.8 241.8L512.9 242.2L513.0 242.5L513.1 242.9L513.2 243.1L513.3 243.4L513.4 243.6L513.5 243.8L513.6 244.0L513.8 244.1L513.9 244.1L514.0 244.2L514.1 244.2L514.2 244.2L514.3 244.1L514.4 244.1L514.5 244.0L514.6 244.0L514.7 243.9L514.8 243.8L515.0 243.7L515.1 243.6L515.2 243.5L515.3 243.4L515.4 243.3L515.5 243.2L515.6 243.0L515.7 242.9L515.8 242.8L515.9 242.6L516.0 242.5L516.2 242.2L516.3 242.0L516.4 241.6L516.5 241.2L516.6 240.7L516.7 240.2L516.8 239.6L516.9 239.0L517.0 238.3L517.1 237.6L517.2 236.8L517.3 236.0L517.5 235.2L517.6 234.4L517.7 233.6L517.8 232.7L517.9 231.8L518.0 230.9L518.1 230.1L518.2 229.2L518.3 228.3L518.4 227.4L518.5 226.6L518.7 225.7L518.8 224.9L518.9 224.1L519.0 223.3L519.1 222.6L519.2 221.9L519.3 221.1L519.4 220.4L519.5 219.6L519.6 218.9L519.7 218.2L519.9 217.4L520.0 216.7L520.1 215.9L520.2 215.2L520.3 214.4L520.4 213.7L520.5 212.9L520.6 212.1L520.7 211.3L520.8 210.6L520.9 209.7L521.0 208.9L521.2 208.1L521.3 207.3L521.4 206.4L521.5 205.5L521.6 204.6L521.7 203.7L521.8 202.8L521.9 201.9L522.0 200.9L522.1 199.9L522.2 198.9L522.4 197.9L522.5 196.8L522.6 195.7L522.7 194.6L522.8 193.4L522.9 192.2L523.0 191.0L523.1 189.8L523.2 188.5L523.3 187.2L523.4 185.9L523.6 184.5L523.7 182.9L523.8 181.1L523.9 179.2L524.0 177.1L524.1 175.0L524.2 172.7L524.3 170.5L524.4 168.2L524.5 166.0L524.6 163.8L524.7 161.8L524.9 159.8L525.0 158.0L525.1 156.5L525.2 155.1L525.3 154.0L525.4 153.2L525.5 152.7L525.6 152.6L525.7 152.8L525.8 153.4L525.9 154.2L526.1 155.3L526.2 156.7L526.3 158.2L526.4 159.9L526.5 161.8L526.6 163.8L526.7 165.9L526.8 168.0L526.9 170.2L527.0 172.3L527.1 174.5L527.3 176.5L527.4 178.5L527.5 180.4L527.6 182.2L527.7 183.7L527.8 185.1L527.9 186.3L528.0 187.6L528.1 188.8L528.2 190.1L528.3 191.3L528.4 192.5L528.6 193.7L528.7 194.8L528.8 195.9L528.9 196.9L529.0 197.8L529.1 198.7L529.2 199.5L529.3 200.2L529.4 200.8L529.5 201.3L529.6 201.8L529.8 202.3L529.9 202.7L530.0 203.2L530.1 203.6L530.2 204.0L530.3 204.3L530.4 204.7L530.5 204.9L530.6 205.2L530.7 205.4L530.8 205.5L530.9 205.6L531.1 205.5L531.2 205.4L531.3 205.2L531.4 204.9L531.5 204.6L531.6 204.1L531.7 203.6L531.8 203.1L531.9 202.5L532.0 201.8L532.1 201.2L532.3 200.6L532.4 199.9L532.5 199.3L532.6 198.7L532.7 198.1L532.8 197.5L532.9 197.0L533.0 196.6L533.1 196.2L533.2 195.9L533.3 195.7L533.5 195.6L533.6 195.6L533.7 195.7L533.8 195.8L533.9 196.0L534.0 196.3L534.1 196.6L534.2 196.9L534.3 197.2L534.4 197.6L534.5 198.1L534.6 198.5L534.8 199.0L534.9 199.5L535.0 199.9L535.1 200.5L535.2 201.3L535.3 202.2L535.4 203.3L535.5 204.6L535.6 205.9L535.7 207.4L535.8 208.9L536.0 210.4L536.1 211.9L536.2 213.4L536.3 214.9L536.4 216.2L536.5 217.5L536.6 218.6L536.7 219.5L536.8 220.3L536.9 220.8L537.0 221.1L537.2 221.4L537.3 221.6L537.4 221.8L537.5 222.1L537.6 222.3L537.7 222.4L537.8 222.6L537.9 222.8L538.0 223.0L538.1 223.1L538.2 223.3L538.3 223.4L538.5 223.5L538.6 223.6L538.7 223.7L538.8 223.9L538.9 224.0L539.0 224.1L539.1 224.2L539.2 224.2L539.3 224.3L539.4 224.4L539.5 224.5L539.7 224.6L539.8 224.7L539.9 224.7L540.0 224.8L540.1 224.9L540.2 225.0L540.3 225.1L540.4 225.2L540.5 225.2L540.6 225.3L540.7 225.4L540.9 225.5L541.0 225.7L541.1 225.8L541.2 225.9L541.3 226.0L541.4 226.2L541.5 226.3L541.6 226.5L541.7 226.6L541.8 226.8L541.9 227.0L542.0 227.2L542.2 227.4L542.3 227.7L542.4 227.9L542.5 228.3L542.6 228.6L542.7 229.0L542.8 229.3L542.9 229.8L543.0 230.2L543.1 230.6L543.2 231.1L543.4 231.5L543.5 232.0L543.6 232.4L543.7 232.9L543.8 233.4L543.9 233.9L544.0 234.3L544.1 234.8L544.2 235.3L544.3 235.7L544.4 236.2L544.6 236.6L544.7 237.0L544.8 237.4L544.9 237.7L545.0 238.1L545.1 238.4L545.2 238.7L545.3 238.9L545.4 239.2L545.5 239.4L545.6 239.5L545.7 239.6L545.9 239.7L546.0 239.8L546.1 239.7L546.2 239.6L546.3 239.4L546.4 239.0L546.5 238.6L546.6 238.1L546.7 237.5L546.8 236.9L546.9 236.1L547.1 235.3L547.2 234.5L547.3 233.6L547.4 232.6L547.5 231.6L547.6 230.6L547.7 229.6L547.8 228.5L547.9 227.4L548.0 226.3L548.1 225.2L548.3 224.1L548.4 223.0L548.5 221.9L548.6 220.8L548.7 219.8L548.8 218.7L548.9 217.8L549.0 216.8L549.1 215.9L549.2 215.1L549.3 214.3L549.4 213.6L549.6 212.9L549.7 212.3L549.8 211.8L549.9 211.4L550.0 211.1L550.1 210.8L550.2 210.6L550.3 210.3L550.4 210.1L550.5 209.8L550.6 209.6L550.8 209.4L550.9 209.1L551.0 208.9L551.1 208.7L551.2 208.4L551.3 208.2L551.4 208.0L551.5 207.8L551.6 207.6L551.7 207.5L551.8 207.3L552.0 207.1L552.1 206.9L552.2 206.8L552.3 206.6L552.4 206.5L552.5 206.4L552.6 206.2L552.7 206.1L552.8 206.0L552.9 205.9L553.0 205.8L553.1 205.8L553.3 205.7L553.4 205.7L553.5 205.6L553.6 205.6L553.7 205.6L553.8 205.6" stroke="#d95319" stroke-width="0.6" marker-mid="url(#mo)"/><path d="M325.3 232.6L325.4 233.5L325.5 234.3L325.6 235.1L325.7 235.9L325.8 236.7L326.0 237.4L326.1 238.2L326.2 238.9L326.3 239.5L326.4 240.2L326.5 240.8L326.6 241.3L326.7 241.9L326.8 242.4L326.9 242.8L327.0 243.2L327.1 243.6L327.3 244.0L327.4 244.3L327.5 244.5L327.6 244.7L327.7 244.9L327.8 245.0L327.9 245.1L328.0 245.1L328.1 245.1L328.2 244.9L328.3 244.8L328.5 244.5L328.6 244.2L328.7 243.9L328.8 243.5L328.9 243.0L329.0 242.5L329.1 242.0L329.2 241.4L329.3 240.8L329.4 240.1L329.5 239.4L329.7 238.7L329.8 238.0L329.9 237.2L330.0 236.4L330.1 235.6L330.2 234.8L330.3 234.0L330.4 233.2L330.5 232.3L330.6 231.5L330.7 230.7L330.8 229.8L331.0 229.0L331.1 228.2L331.2 227.4L331.3 226.6L331.4 225.8L331.5 225.1L331.6 224.3L331.7 223.6L331.8 223.0L331.9 222.3L332.0 221.7L332.2 221.2L332.3 220.7L332.4 220.2L332.5 219.8L332.6 219.4L332.7 219.1L332.8 218.8L332.9 218.6L333.0 218.5L333.1 218.4L333.2 218.4L333.4 218.5L333.5 218.6L333.6 218.8L333.7 219.1L333.8 219.5L333.9 219.8L334.0 220.2L334.1 220.7L334.2 221.1L334.3 221.6L334.4 222.0L334.5 222.4L334.7 222.8L334.8 223.2L334.9 223.5L335.0 223.7L335.1 223.9L335.2 224.0L335.3 224.1L335.4 224.0L335.5 223.7L335.6 223.4L335.7 222.9L335.9 222.3L336.0 221.6L336.1 220.8L336.2 219.9L336.3 219.0L336.4 218.0L336.5 217.0L336.6 215.9L336.7 214.9L336.8 213.8L336.9 212.7L337.1 211.6L337.2 210.6L337.3 209.6L337.4 208.6L337.5 207.8L337.6 206.9L337.7 206.2L337.8 205.6L337.9 205.0L338.0 204.6L338.1 204.3L338.2 204.2L338.4 204.2L338.5 204.3L338.6 204.5L338.7 204.7L338.8 205.1L338.9 205.5L339.0 206.0L339.1 206.6L339.2 207.1L339.3 207.8L339.4 208.4L339.6 209.1L339.7 209.8L339.8 210.5L339.9 211.2L340.0 211.9L340.1 212.6L340.2 213.3L340.3 213.9L340.4 214.6L340.5 215.1L340.6 215.6L340.8 216.1L340.9 216.5L341.0 216.8L341.1 217.0L341.2 217.2L341.3 217.2L341.4 217.2L341.5 217.0L341.6 216.7L341.7 216.3L341.8 215.8L341.9 215.2L342.1 214.5L342.2 213.8L342.3 213.0L342.4 212.1L342.5 211.2L342.6 210.3L342.7 209.4L342.8 208.4L342.9 207.5L343.0 206.5L343.1 205.6L343.3 204.7L343.4 203.8L343.5 203.0L343.6 202.2L343.7 201.5L343.8 200.8L343.9 200.3L344.0 199.8L344.1 199.5L344.2 199.2L344.3 199.1L344.5 199.1L344.6 199.2L344.7 199.4L344.8 199.6L344.9 200.0L345.0 200.4L345.1 200.9L345.2 201.4L345.3 202.0L345.4 202.6L345.5 203.1L345.6 203.7L345.8 204.3L345.9 204.8L346.0 205.3L346.1 205.8L346.2 206.2L346.3 206.6L346.4 206.8L346.5 207.0L346.6 207.2L346.7 207.3L346.8 207.4L347.0 207.5L347.1 207.6L347.2 207.7L347.3 207.7L347.4 207.8L347.5 207.9L347.6 207.9L347.7 208.0L347.8 208.1L347.9 208.1L348.0 208.2L348.1 208.3L348.3 208.4L348.4 208.5L348.5 208.7L348.6 208.9L348.7 209.1L348.8 209.4L348.9 209.7L349.0 210.2L349.1 210.6L349.2 211.2L349.3 211.7L349.5 212.3L349.6 213.0L349.7 213.7L349.8 214.4L349.9 215.2L350.0 216.0L350.1 216.8L350.2 217.7L350.3 218.5L350.4 219.4L350.5 220.3L350.7 221.2L350.8 222.1L350.9 223.1L351.0 224.0L351.1 224.9L351.2 225.8L351.3 226.7L351.4 227.7L351.5 228.5L351.6 229.4L351.7 230.3L351.8 231.1L352.0 231.9L352.1 232.7L352.2 233.4L352.3 234.2L352.4 234.8L352.5 235.5L352.6 236.1L352.7 236.7L352.8 237.3L352.9 237.9L353.0 238.6L353.2 239.3L353.3 239.9L353.4 240.6L353.5 241.2L353.6 241.8L353.7 242.4L353.8 243.0L353.9 243.5L354.0 243.9L354.1 244.3L354.2 244.6L354.4 244.9L354.5 245.0L354.6 245.1L354.7 245.0L354.8 244.7L354.9 244.1L355.0 243.4L355.1 242.4L355.2 241.2L355.3 239.9L355.4 238.5L355.5 236.9L355.7 235.3L355.8 233.6L355.9 231.9L356.0 230.1L356.1 228.4L356.2 226.7L356.3 225.0L356.4 223.5L356.5 222.0L356.6 220.5L356.7 218.9L356.9 217.2L357.0 215.6L357.1 213.9L357.2 212.1L357.3 210.4L357.4 208.8L357.5 207.1L357.6 205.5L357.7 204.0L357.8 202.6L357.9 201.2L358.1 199.8L358.2 198.4L358.3 197.1L358.4 195.8L358.5 194.4L358.6 193.2L358.7 191.9L358.8 190.7L358.9 189.5L359.0 188.3L359.1 187.1L359.2 186.0L359.4 184.9L359.5 183.8L359.6 182.8L359.7 181.8L359.8 180.7L359.9 179.6L360.0 178.5L360.1 177.3L360.2 176.2L360.3 175.1L360.4 174.0L360.6 172.9L360.7 171.8L360.8 170.8L360.9 169.9L361.0 169.0L361.1 168.2L361.2 167.5L361.3 166.8L361.4 166.3L361.5 165.9L361.6 165.6L361.8 165.5L361.9 165.5L362.0 165.9L362.1 166.6L362.2 167.6L362.3 168.8L362.4 170.2L362.5 171.9L362.6 173.6L362.7 175.4L362.8 177.4L362.9 179.3L363.1 181.2L363.2 183.1L363.3 184.9L363.4 186.6L363.5 188.1L363.6 189.6L363.7 191.0L363.8 192.4L363.9 193.8L364.0 195.2L364.1 196.6L364.3 198.0L364.4 199.4L364.5 200.8L364.6 202.2L364.7 203.7L364.8 205.2L364.9 206.9L365.0 208.6L365.1 210.4L365.2 212.3L365.3 214.2L365.5 216.1L365.6 217.9L365.7 219.8L365.8 221.6L365.9 223.4L366.0 225.0L366.1 226.6L366.2 228.1L366.3 229.4L366.4 230.6L366.5 231.6L366.6 232.5L366.8 233.1L366.9 233.5L367.0 233.7L367.1 233.7L367.2 233.3L367.3 232.8L367.4 232.0L367.5 231.0L367.6 229.8L367.7 228.4L367.8 226.9L368.0 225.2L368.1 223.4L368.2 221.5L368.3 219.5L368.4 217.4L368.5 215.2L368.6 212.9L368.7 210.7L368.8 208.3L368.9 206.0L369.0 203.7L369.2 201.4L369.3 199.2L369.4 196.9L369.5 194.8L369.6 192.7L369.7 190.8L369.8 188.9L369.9 187.2L370.0 185.6L370.1 184.2L370.2 182.9L370.3 181.8L370.5 181.0L370.6 180.3L370.7 179.9L370.8 179.7L370.9 179.7L371.0 179.9L371.1 180.1L371.2 180.4L371.3 180.7L371.4 181.1L371.5 181.6L371.7 182.2L371.8 182.8L371.9 183.5L372.0 184.2L372.1 184.9L372.2 185.7L372.3 186.5L372.4 187.4L372.5 188.3L372.6 189.1L372.7 190.0L372.8 190.9L373.0 191.8L373.1 192.7L373.2 193.6L373.3 194.5L373.4 195.4L373.5 196.2L373.6 197.0L373.7 197.8L373.8 198.5L373.9 199.2L374.0 199.9L374.2 200.5L374.3 201.2L374.4 201.9L374.5 202.5L374.6 203.2L374.7 203.9L374.8 204.5L374.9 205.2L375.0 205.9L375.1 206.5L375.2 207.2L375.4 207.9L375.5 208.5L375.6 209.2L375.7 209.9L375.8 210.5L375.9 211.2L376.0 211.8L376.1 212.5L376.2 213.1L376.3 213.7L376.4 214.4L376.5 215.0L376.7 215.6L376.8 216.2L376.9 216.8L377.0 217.4L377.1 218.0L377.2 218.5L377.3 219.1L377.4 219.7L377.5 220.2L377.6 220.7L377.7 221.2L377.9 221.7L378.0 222.2L378.1 222.7L378.2 223.2L378.3 223.6L378.4 224.1L378.5 224.6L378.6 225.1L378.7 225.6L378.8 226.1L378.9 226.6L379.1 227.1L379.2 227.6L379.3 228.1L379.4 228.7L379.5 229.2L379.6 229.7L379.7 230.2L379.8 230.7L379.9 231.2L380.0 231.7L380.1 232.2L380.2 232.6L380.4 233.1L380.5 233.6L380.6 234.1L380.7 234.5L380.8 235.0L380.9 235.5L381.0 235.9L381.1 236.3L381.2 236.8L381.3 237.2L381.4 237.6L381.6 238.0L381.7 238.4L381.8 238.7L381.9 239.1L382.0 239.4L382.1 239.8L382.2 240.1L382.3 240.4L382.4 240.7L382.5 240.9L382.6 241.2L382.8 241.4L382.9 241.7L383.0 241.9L383.1 242.1L383.2 242.2L383.3 242.4L383.4 242.5L383.5 242.6L383.6 242.7L383.7 242.8L383.8 242.8L383.9 242.8L384.1 242.8L384.2 242.7L384.3 242.6L384.4 242.3L384.5 242.0L384.6 241.6L384.7 241.1L384.8 240.6L384.9 240.0L385.0 239.3L385.1 238.6L385.3 237.8L385.4 236.9L385.5 236.0L385.6 235.1L385.7 234.1L385.8 233.0L385.9 231.9L386.0 230.8L386.1 229.6L386.2 228.4L386.3 227.2L386.5 225.9L386.6 224.6L386.7 223.2L386.8 221.9L386.9 220.5L387.0 219.1L387.1 217.7L387.2 216.2L387.3 214.8L387.4 213.3L387.5 211.9L387.6 210.4L387.8 208.9L387.9 207.5L388.0 206.0L388.1 204.6L388.2 203.1L388.3 201.7L388.4 200.3L388.5 198.8L388.6 197.5L388.7 196.1L388.8 194.7L389.0 193.4L389.1 192.1L389.2 190.9L389.3 189.6L389.4 188.5L389.5 187.3L389.6 186.2L389.7 185.1L389.8 184.1L389.9 183.1L390.0 182.2L390.2 181.3L390.3 180.3L390.4 179.3L390.5 178.3L390.6 177.2L390.7 176.2L390.8 175.1L390.9 174.1L391.0 173.0L391.1 171.9L391.2 170.8L391.3 169.7L391.5 168.7L391.6 167.6L391.7 166.6L391.8 165.5L391.9 164.5L392.0 163.5L392.1 162.6L392.2 161.6L392.3 160.7L392.4 159.9L392.5 159.0L392.7 158.2L392.8 157.5L392.9 156.8L393.0 156.1L393.1 155.5L393.2 155.0L393.3 154.5L393.4 154.1L393.5 153.7L393.6 153.4L393.7 153.2L393.9 153.1L394.0 153.0L394.1 153.1L394.2 153.6L394.3 154.5L394.4 155.8L394.5 157.3L394.6 159.1L394.7 161.2L394.8 163.3L394.9 165.6L395.0 167.9L395.2 170.2L395.3 172.4L395.4 174.6L395.5 176.6L395.6 178.5L395.7 180.6L395.8 182.8L395.9 185.1L396.0 187.3L396.1 189.5L396.2 191.6L396.4 193.5L396.5 195.1L396.6 196.5L396.7 197.5L396.8 198.4L396.9 199.1L397.0 199.8L397.1 200.4L397.2 201.1L397.3 201.7L397.4 202.4L397.5 203.2L397.7 204.1L397.8 205.3L397.9 206.7L398.0 208.2L398.1 209.9L398.2 211.5L398.3 213.2L398.4 214.8L398.5 216.2L398.6 217.5L398.7 218.5L398.9 219.2L399.0 219.5L399.1 219.5L399.2 219.3L399.3 219.0L399.4 218.5L399.5 218.0L399.6 217.3L399.7 216.6L399.8 215.8L399.9 215.0L400.1 214.1L400.2 213.2L400.3 212.2L400.4 211.3L400.5 210.4L400.6 209.5L400.7 208.7L400.8 207.9L400.9 207.2L401.0 206.6L401.1 206.1L401.2 205.7L401.4 205.4L401.5 205.3L401.6 205.3L401.7 205.5L401.8 205.7L401.9 206.0L402.0 206.4L402.1 206.8L402.2 207.4L402.3 208.0L402.4 208.6L402.6 209.3L402.7 210.0L402.8 210.7L402.9 211.5L403.0 212.3L403.1 213.0L403.2 213.8L403.3 214.6L403.4 215.3L403.5 216.0L403.6 216.7L403.8 217.4L403.9 218.0L404.0 218.5L404.1 219.0L404.2 219.4L404.3 219.7L404.4 219.9L404.5 220.1L404.6 220.1L404.7 220.0L404.8 220.0L404.9 219.8L405.1 219.7L405.2 219.4L405.3 219.2L405.4 218.9L405.5 218.6L405.6 218.2L405.7 217.9L405.8 217.5L405.9 217.1L406.0 216.6L406.1 216.2L406.3 215.7L406.4 215.3L406.5 214.8L406.6 214.3L406.7 213.9L406.8 213.4L406.9 213.0L407.0 212.5L407.1 212.1L407.2 211.7L407.3 211.3L407.5 211.0L407.6 210.6L407.7 210.3L407.8 210.1L407.9 209.8L408.0 209.6L408.1 209.5L408.2 209.4L408.3 209.3L408.4 209.3L408.5 209.3L408.6 209.5L408.8 209.6L408.9 209.9L409.0 210.1L409.1 210.5L409.2 210.9L409.3 211.3L409.4 211.7L409.5 212.2L409.6 212.7L409.7 213.2L409.8 213.7L410.0 214.2L410.1 214.7L410.2 215.3L410.3 215.8L410.4 216.3L410.5 216.8L410.6 217.3L410.7 217.8L410.8 218.2L410.9 218.6L411.0 219.0L411.2 219.3L411.3 219.6L411.4 219.8L411.5 219.9L411.6 220.0L411.7 220.1L411.8 220.1L411.9 220.0L412.0 219.9L412.1 219.8L412.2 219.6L412.3 219.4L412.5 219.1L412.6 218.8L412.7 218.5L412.8 218.2L412.9 217.8L413.0 217.4L413.1 217.0L413.2 216.6L413.3 216.1L413.4 215.7L413.5 215.2L413.7 214.7L413.8 214.2L413.9 213.7L414.0 213.2L414.1 212.7L414.2 212.2L414.3 211.7L414.4 211.2L414.5 210.8L414.6 210.3L414.7 209.8L414.9 209.3L415.0 208.9L415.1 208.5L415.2 208.1L415.3 207.7L415.4 207.3L415.5 206.9L415.6 206.6L415.7 206.3L415.8 206.1L415.9 205.9L416.0 205.7L416.2 205.5L416.3 205.4L416.4 205.3L416.5 205.3L416.6 205.3L416.7 205.4L416.8 205.5L416.9 205.6L417.0 205.8L417.1 206.0L417.2 206.2L417.4 206.4L417.5 206.7L417.6 207.0L417.7 207.3L417.8 207.6L417.9 207.9L418.0 208.2L418.1 208.5L418.2 208.9L418.3 209.3L418.4 209.8L418.5 210.3L418.7 210.9L418.8 211.5L418.9 212.1L419.0 212.8L419.1 213.5L419.2 214.2L419.3 214.9L419.4 215.6L419.5 216.3L419.6 217.1L419.7 217.8L419.9 218.5L420.0 219.2L420.1 219.9L420.2 220.6L420.3 221.2L420.4 221.8L420.5 222.4L420.6 223.0L420.7 223.5L420.8 224.0L420.9 224.6L421.1 225.1L421.2 225.6L421.3 226.1L421.4 226.6L421.5 227.1L421.6 227.6L421.7 228.1L421.8 228.6L421.9 229.1L422.0 229.6L422.1 230.1L422.2 230.6L422.4 231.1L422.5 231.6L422.6 232.2L422.7 232.7L422.8 233.2L422.9 233.8L423.0 234.4L423.1 235.0L423.2 235.7L423.3 236.5L423.4 237.3L423.6 238.1L423.7 238.9L423.8 239.7L423.9 240.5L424.0 241.1L424.1 241.7L424.2 242.2L424.3 242.6L424.4 242.8L424.5 242.8L424.6 242.8L424.8 242.6L424.9 242.4L425.0 242.1L425.1 241.8L425.2 241.3L425.3 240.9L425.4 240.3L425.5 239.7L425.6 239.1L425.7 238.4L425.8 237.7L425.9 236.9L426.1 236.1L426.2 235.2L426.3 234.4L426.4 233.5L426.5 232.5L426.6 231.6L426.7 230.7L426.8 229.7L426.9 228.7L427.0 227.7L427.1 226.4L427.3 224.9L427.4 223.0L427.5 220.9L427.6 218.6L427.7 216.1L427.8 213.3L427.9 210.4L428.0 207.4L428.1 204.3L428.2 201.0L428.3 197.7L428.5 194.4L428.6 191.0L428.7 187.6L428.8 184.3L428.9 181.0L429.0 177.7L429.1 174.6L429.2 171.6L429.3 168.7L429.4 166.0L429.5 163.5L429.6 161.2L429.8 159.1L429.9 157.3L430.0 155.8L430.1 154.6L430.2 153.7L430.3 153.1L430.4 153.0L430.5 153.2L430.6 153.9L430.7 154.8L430.8 156.1L431.0 157.7L431.1 159.4L431.2 161.3L431.3 163.4L431.4 165.5L431.5 167.7L431.6 169.9L431.7 172.1L431.8 174.1L431.9 176.0L432.0 177.8L432.2 179.4L432.3 180.6L432.4 181.6L432.5 182.3L432.6 182.5L432.7 182.5L432.8 182.3L432.9 182.1L433.0 181.7L433.1 181.3L433.2 180.8L433.3 180.3L433.5 179.7L433.6 179.1L433.7 178.5L433.8 177.9L433.9 177.4L434.0 176.9L434.1 176.3L434.2 175.7L434.3 175.0L434.4 174.3L434.5 173.5L434.7 172.7L434.8 172.0L434.9 171.2L435.0 170.4L435.1 169.7L435.2 169.1L435.3 168.5L435.4 168.0L435.5 167.6L435.6 167.4L435.7 167.2L435.9 167.2L436.0 167.5L436.1 168.1L436.2 169.0L436.3 170.0L436.4 171.3L436.5 172.8L436.6 174.4L436.7 176.1L436.8 178.0L436.9 179.8L437.0 181.8L437.2 183.7L437.3 185.6L437.4 187.5L437.5 189.3L437.6 191.0L437.7 192.6L437.8 194.0L437.9 195.4L438.0 196.8L438.1 198.2L438.2 199.5L438.4 200.9L438.5 202.3L438.6 203.7L438.7 205.1L438.8 206.4L438.9 207.7L439.0 209.1L439.1 210.3L439.2 211.6L439.3 212.8L439.4 214.0L439.5 215.2L439.7 216.3L439.8 217.4L439.9 218.4L440.0 219.4L440.1 220.3L440.2 221.3L440.3 222.3L440.4 223.2L440.5 224.2L440.6 225.2L440.7 226.2L440.9 227.2L441.0 228.2L441.1 229.2L441.2 230.1L441.3 231.1L441.4 232.0L441.5 233.0L441.6 233.9L441.7 234.8L441.8 235.6L441.9 236.5L442.1 237.3L442.2 238.0L442.3 238.8L442.4 239.5L442.5 240.1L442.6 240.7L442.7 241.3L442.8 241.8L442.9 242.3L443.0 242.7L443.1 243.1L443.2 243.4L443.4 243.6L443.5 243.8L443.6 243.9L443.7 244.0L443.8 244.0L443.9 243.9L444.0 243.8L444.1 243.7L444.2 243.5L444.3 243.3L444.4 243.0L444.6 242.7L444.7 242.4L444.8 242.1L444.9 241.7L445.0 241.3L445.1 240.8L445.2 240.4L445.3 239.9L445.4 239.4L445.5 238.9L445.6 238.3L445.8 237.8L445.9 237.2L446.0 236.6L446.1 236.0L446.2 235.4L446.3 234.8L446.4 234.1L446.5 233.5L446.6 232.8L446.7 232.2L446.8 231.5L446.9 230.9L447.1 230.2L447.2 229.6L447.3 228.9L447.4 228.3L447.5 227.7L447.6 227.0L447.7 226.4L447.8 225.8L447.9 225.2L448.0 224.6L448.1 224.1L448.3 223.5L448.4 223.0L448.5 222.5L448.6 222.0L448.7 221.6L448.8 221.1L448.9 220.7L449.0 220.3L449.1 220.0L449.2 219.7L449.3 219.4L449.5 219.1L449.6 218.9L449.7 218.7L449.8 218.6L449.9 218.5L450.0 218.4L450.1 218.4L450.2 218.4L450.3 218.5L450.4 218.7L450.5 218.9L450.6 219.2L450.8 219.5L450.9 219.9L451.0 220.3L451.1 220.8L451.2 221.3L451.3 221.8L451.4 222.4L451.5 223.1L451.6 223.7L451.7 224.4L451.8 225.1L452.0 225.8L452.1 226.6L452.2 227.3L452.3 228.1L452.4 228.9L452.5 229.7L452.6 230.5L452.7 231.3L452.8 232.1L452.9 232.9L453.0 233.7L453.2 234.5L453.3 235.2L453.4 236.0L453.5 236.7L453.6 237.5L453.7 238.2L453.8 238.8L453.9 239.5L454.0 240.1L454.1 240.7L454.2 241.2L454.3 241.7L454.5 242.2L454.6 242.6L454.7 243.0L454.8 243.3L454.9 243.5L455.0 243.7L455.1 243.9L455.2 244.0L455.3 244.0L455.4 243.9L455.5 243.9L455.7 243.8L455.8 243.6L455.9 243.5L456.0 243.2L456.1 243.0L456.2 242.7L456.3 242.4L456.4 242.1L456.5 241.7L456.6 241.4L456.7 240.9L456.9 240.5L457.0 240.0L457.1 239.6L457.2 239.0L457.3 238.5L457.4 238.0L457.5 237.4L457.6 236.8L457.7 236.2L457.8 235.6L457.9 235.0L458.0 234.4L458.2 233.7L458.3 233.1L458.4 232.4L458.5 231.7L458.6 231.0L458.7 230.4L458.8 229.7L458.9 229.0L459.0 228.3L459.1 227.6L459.2 226.9L459.4 226.2L459.5 225.5L459.6 224.8L459.7 224.1L459.8 223.4L459.9 222.7L460.0 222.1L460.1 221.4L460.2 220.8L460.3 220.1L460.4 219.5L460.6 218.9L460.7 218.3L460.8 217.7L460.9 217.1L461.0 216.6L461.1 216.0L461.2 215.5L461.3 215.0L461.4 214.6L461.5 214.1L461.6 213.7L461.7 213.3L461.9 213.0L462.0 212.6L462.1 212.3L462.2 212.0L462.3 211.8L462.4 211.6L462.5 211.4L462.6 211.2L462.7 211.1L462.8 211.0L462.9 211.0L463.1 211.0L463.2 211.1L463.3 211.3L463.4 211.6L463.5 211.9L463.6 212.3L463.7 212.8L463.8 213.4L463.9 214.0L464.0 214.7L464.1 215.4L464.2 216.2L464.4 217.0L464.5 217.8L464.6 218.7L464.7 219.6L464.8 220.5L464.9 221.4L465.0 222.3L465.1 223.3L465.2 224.2L465.3 225.1L465.4 226.0L465.6 226.9L465.7 227.7L465.8 228.5L465.9 229.3L466.0 230.1L466.1 230.8L466.2 231.4L466.3 232.0L466.4 232.5L466.5 233.0L466.6 233.3L466.8 233.6L466.9 233.9L467.0 234.1L467.1 234.3L467.2 234.5L467.3 234.7L467.4 234.9L467.5 235.1L467.6 235.3L467.7 235.4L467.8 235.6L467.9 235.7L468.1 235.8L468.2 235.9L468.3 236.0L468.4 236.0L468.5 236.0L468.6 235.8L468.7 235.3L468.8 234.3L468.9 233.0L469.0 231.4L469.1 229.5L469.3 227.4L469.4 225.0L469.5 222.5L469.6 219.7L469.7 216.9L469.8 213.9L469.9 210.8L470.0 207.7L470.1 204.6L470.2 201.4L470.3 198.3L470.5 195.2L470.6 192.2L470.7 188.9L470.8 185.3L470.9 181.5L471.0 177.5L471.1 173.3L471.2 169.1L471.3 164.8L471.4 160.5L471.5 156.2L471.6 152.0L471.8 147.9L471.9 143.4L472.0 138.7L472.1 134.0L472.2 129.5L472.3 125.5L472.4 122.1L472.5 119.6L472.6 117.6L472.7 115.8L472.8 114.1L473.0 112.7L473.1 111.3L473.2 110.1L473.3 109.0L473.4 107.9L473.5 106.9L473.6 106.0L473.7 105.0L473.8 104.0L473.9 103.0L474.0 101.9L474.2 100.7L474.3 99.4L474.4 98.0L474.5 96.4L474.6 94.6L474.7 92.6L474.8 90.2L474.9 87.5L475.0 84.6L475.1 81.5L475.2 78.4L475.3 75.4L475.5 72.4L475.6 69.6L475.7 66.9L475.8 63.9L475.9 60.7L476.0 57.6L476.1 54.9L476.2 52.7L476.3 51.4L476.4 51.3L476.5 52.8L476.7 55.6L476.8 59.4L476.9 63.7L477.0 68.1L477.1 72.6L477.2 78.1L477.3 84.1L477.4 90.1L477.5 95.6L477.6 100.8L477.7 106.1L477.9 111.2L478.0 116.2L478.1 120.7L478.2 124.9L478.3 128.8L478.4 133.0L478.5 136.9L478.6 140.2L478.7 142.2L478.8 142.6L478.9 139.6L479.0 134.1L479.2 127.6L479.3 121.5L479.4 116.9L479.5 112.3L479.6 107.7L479.7 103.2L479.8 98.8L479.9 94.7L480.0 91.0L480.1 87.6L480.2 84.7L480.4 82.1L480.5 79.7L480.6 77.5L480.7 75.4L480.8 73.5L480.9 71.7L481.0 69.8L481.1 67.8L481.2 66.1L481.3 65.0L481.4 64.9L481.6 65.5L481.7 66.7L481.8 68.2L481.9 69.9L482.0 71.4L482.1 73.0L482.2 74.8L482.3 76.8L482.4 78.8L482.5 81.0L482.6 83.2L482.7 85.4L482.9 87.5L483.0 89.5L483.1 91.3L483.2 92.9L483.3 94.3L483.4 95.4L483.5 96.5L483.6 97.4L483.7 98.3L483.8 99.1L483.9 99.9L484.1 100.6L484.2 101.3L484.3 101.9L484.4 102.5L484.5 103.1L484.6 103.6L484.7 104.2L484.8 104.8L484.9 105.4L485.0 106.0L485.1 106.7L485.2 107.4L485.4 108.2L485.5 109.0L485.6 109.9L485.7 110.9L485.8 112.0L485.9 113.2L486.0 114.4L486.1 116.0L486.2 117.8L486.3 119.9L486.4 122.2L486.6 124.8L486.7 127.6L486.8 130.6L486.9 133.7L487.0 137.0L487.1 140.4L487.2 143.9L487.3 147.4L487.4 151.0L487.5 154.9L487.6 159.2L487.8 163.9L487.9 168.8L488.0 173.9L488.1 179.1L488.2 184.5L488.3 189.8L488.4 195.1L488.5 200.3L488.6 206.1L488.7 212.8L488.8 219.9L488.9 227.0L489.1 233.8L489.2 239.8L489.3 244.6L489.4 247.8L489.5 249.1L489.6 249.0L489.7 248.9L489.8 248.6L489.9 248.3L490.0 247.8L490.1 247.3L490.3 246.8L490.4 246.1L490.5 245.5L490.6 244.8L490.7 244.1L490.8 243.3L490.9 242.6L491.0 241.9L491.1 241.1L491.2 240.4L491.3 239.8L491.5 239.1L491.6 238.5L491.7 237.8L491.8 237.0L491.9 236.3L492.0 235.5L492.1 234.7L492.2 233.8L492.3 233.0L492.4 232.1L492.5 231.2L492.6 230.2L492.8 229.3L492.9 228.3L493.0 227.4L493.1 226.4L493.2 225.4L493.3 224.3L493.4 223.3L493.5 222.3L493.6 221.3L493.7 220.2L493.8 219.2L494.0 218.2L494.1 217.1L494.2 216.1L494.3 215.0L494.4 214.0L494.5 213.0L494.6 212.0L494.7 211.0L494.8 210.0L494.9 209.0L495.0 208.1L495.2 207.2L495.3 206.2L495.4 205.3L495.5 204.5L495.6 203.6L495.7 202.8L495.8 202.0L495.9 201.2L496.0 200.5L496.1 199.7L496.2 199.1L496.3 198.4L496.5 197.8L496.6 197.2L496.7 196.7L496.8 196.2L496.9 195.8L497.0 195.4L497.1 195.0L497.2 194.7L497.3 194.4L497.4 194.2L497.5 194.1L497.7 194.0L497.8 193.9L497.9 193.9L498.0 193.9L498.1 194.0L498.2 194.0L498.3 194.1L498.4 194.2L498.5 194.3L498.6 194.4L498.7 194.5L498.9 194.6L499.0 194.8L499.1 194.9L499.2 195.1L499.3 195.2L499.4 195.4L499.5 195.5L499.6 195.7L499.7 195.9L499.8 196.0L499.9 196.2L500.0 196.4L500.2 196.5L500.3 196.7L500.4 196.8L500.5 197.0L500.6 197.1L500.7 197.3L500.8 197.4L500.9 197.5L501.0 197.6L501.1 197.7L501.2 197.8L501.4 197.8L501.5 197.9L501.6 197.9L501.7 197.9L501.8 197.9L501.9 197.9L502.0 197.8L502.1 197.8L502.2 197.7L502.3 197.6L502.4 197.5L502.6 197.4L502.7 197.3L502.8 197.2L502.9 197.0L503.0 196.9L503.1 196.7L503.2 196.6L503.3 196.4L503.4 196.3L503.5 196.1L503.6 195.9L503.7 195.8L503.9 195.6L504.0 195.4L504.1 195.3L504.2 195.1L504.3 195.0L504.4 194.8L504.5 194.7L504.6 194.6L504.7 194.4L504.8 194.3L504.9 194.2L505.1 194.1L505.2 194.1L505.3 194.0L505.4 194.0L505.5 193.9L505.6 193.9L505.7 194.0L505.8 194.1L505.9 194.3L506.0 194.5L506.1 194.8L506.3 195.2L506.4 195.6L506.5 196.1L506.6 196.6L506.7 197.1L506.8 197.7L506.9 198.3L507.0 199.0L507.1 199.6L507.2 200.3L507.3 201.0L507.4 201.7L507.6 202.4L507.7 203.1L507.8 203.8L507.9 204.6L508.0 205.2L508.1 206.0L508.2 206.8L508.3 207.6L508.4 208.6L508.5 209.6L508.6 210.7L508.8 211.8L508.9 212.9L509.0 214.1L509.1 215.3L509.2 216.5L509.3 217.7L509.4 218.9L509.5 220.1L509.6 221.3L509.7 222.5L509.8 223.7L509.9 224.8L510.1 225.9L510.2 226.9L510.3 227.8L510.4 228.7L510.5 229.6L510.6 230.3L510.7 231.0L510.8 231.6L510.9 232.2L511.0 232.8L511.1 233.4L511.3 234.1L511.4 234.7L511.5 235.3L511.6 235.9L511.7 236.5L511.8 237.1L511.9 237.6L512.0 238.2L512.1 238.7L512.2 239.2L512.3 239.7L512.5 240.2L512.6 240.7L512.7 241.1L512.8 241.5L512.9 241.9L513.0 242.3L513.1 242.6L513.2 242.9L513.3 243.2L513.4 243.4L513.5 243.6L513.6 243.8L513.8 243.9L513.9 243.9L514.0 244.0L514.1 244.0L514.2 244.0L514.3 243.9L514.4 243.9L514.5 243.8L514.6 243.8L514.7 243.7L514.8 243.6L515.0 243.5L515.1 243.4L515.2 243.3L515.3 243.2L515.4 243.1L515.5 242.9L515.6 242.8L515.7 242.7L515.8 242.5L515.9 242.4L516.0 242.2L516.2 242.0L516.3 241.7L516.4 241.3L516.5 240.9L516.6 240.4L516.7 239.8L516.8 239.2L516.9 238.6L517.0 237.9L517.1 237.2L517.2 236.4L517.3 235.6L517.5 234.8L517.6 233.9L517.7 233.0L517.8 232.1L517.9 231.2L518.0 230.3L518.1 229.4L518.2 228.5L518.3 227.6L518.4 226.7L518.5 225.8L518.7 225.0L518.8 224.1L518.9 223.3L519.0 222.5L519.1 221.7L519.2 221.0L519.3 220.2L519.4 219.4L519.5 218.7L519.6 217.9L519.7 217.2L519.9 216.4L520.0 215.6L520.1 214.9L520.2 214.1L520.3 213.3L520.4 212.5L520.5 211.7L520.6 210.9L520.7 210.1L520.8 209.3L520.9 208.5L521.0 207.6L521.2 206.8L521.3 205.9L521.4 205.0L521.5 204.1L521.6 203.2L521.7 202.3L521.8 201.3L521.9 200.4L522.0 199.4L522.1 198.3L522.2 197.3L522.4 196.2L522.5 195.1L522.6 194.0L522.7 192.8L522.8 191.6L522.9 190.4L523.0 189.2L523.1 187.9L523.2 186.6L523.3 185.2L523.4 183.9L523.6 182.4L523.7 180.8L523.8 179.0L523.9 177.0L524.0 174.9L524.1 172.6L524.2 170.3L524.3 168.0L524.4 165.7L524.5 163.4L524.6 161.1L524.7 159.0L524.9 157.0L525.0 155.2L525.1 153.5L525.2 152.1L525.3 151.0L525.4 150.2L525.5 149.7L525.6 149.6L525.7 149.8L525.8 150.4L525.9 151.2L526.1 152.4L526.2 153.8L526.3 155.4L526.4 157.1L526.5 159.1L526.6 161.1L526.7 163.2L526.8 165.4L526.9 167.7L527.0 169.9L527.1 172.1L527.3 174.3L527.4 176.3L527.5 178.2L527.6 180.0L527.7 181.6L527.8 183.1L527.9 184.3L528.0 185.6L528.1 186.9L528.2 188.2L528.3 189.5L528.4 190.7L528.6 191.9L528.7 193.0L528.8 194.2L528.9 195.2L529.0 196.2L529.1 197.1L529.2 197.9L529.3 198.6L529.4 199.3L529.5 199.8L529.6 200.3L529.8 200.8L529.9 201.2L530.0 201.7L530.1 202.1L530.2 202.5L530.3 202.9L530.4 203.2L530.5 203.5L530.6 203.8L530.7 204.0L530.8 204.1L530.9 204.2L531.1 204.1L531.2 204.0L531.3 203.8L531.4 203.5L531.5 203.1L531.6 202.7L531.7 202.1L531.8 201.6L531.9 201.0L532.0 200.3L532.1 199.7L532.3 199.0L532.4 198.3L532.5 197.7L532.6 197.1L532.7 196.4L532.8 195.9L532.9 195.4L533.0 194.9L533.1 194.5L533.2 194.2L533.3 194.0L533.5 193.9L533.6 193.9L533.7 194.0L533.8 194.1L533.9 194.3L534.0 194.6L534.1 194.9L534.2 195.2L534.3 195.6L534.4 196.0L534.5 196.4L534.6 196.9L534.8 197.4L534.9 197.9L535.0 198.4L535.1 198.9L535.2 199.7L535.3 200.7L535.4 201.9L535.5 203.2L535.6 204.6L535.7 206.0L535.8 207.6L536.0 209.2L536.1 210.7L536.2 212.3L536.3 213.7L536.4 215.1L536.5 216.4L536.6 217.6L536.7 218.5L536.8 219.3L536.9 219.9L537.0 220.2L537.2 220.5L537.3 220.7L537.4 220.9L537.5 221.2L537.6 221.4L537.7 221.6L537.8 221.8L537.9 221.9L538.0 222.1L538.1 222.3L538.2 222.4L538.3 222.5L538.5 222.7L538.6 222.8L538.7 222.9L538.8 223.0L538.9 223.1L539.0 223.2L539.1 223.3L539.2 223.4L539.3 223.5L539.4 223.6L539.5 223.7L539.7 223.8L539.8 223.8L539.9 223.9L540.0 224.0L540.1 224.1L540.2 224.2L540.3 224.3L540.4 224.4L540.5 224.5L540.6 224.6L540.7 224.7L540.9 224.8L541.0 224.9L541.1 225.0L541.2 225.1L541.3 225.3L541.4 225.4L541.5 225.5L541.6 225.7L541.7 225.9L541.8 226.0L541.9 226.2L542.0 226.4L542.2 226.7L542.3 226.9L542.4 227.2L542.5 227.6L542.6 227.9L542.7 228.3L542.8 228.7L542.9 229.1L543.0 229.5L543.1 230.0L543.2 230.4L543.4 230.9L543.5 231.4L543.6 231.9L543.7 232.4L543.8 232.9L543.9 233.4L544.0 233.8L544.1 234.3L544.2 234.8L544.3 235.3L544.4 235.7L544.6 236.1L544.7 236.6L544.8 237.0L544.9 237.3L545.0 237.7L545.1 238.0L545.2 238.3L545.3 238.6L545.4 238.8L545.5 239.0L545.6 239.2L545.7 239.3L545.9 239.4L546.0 239.4L546.1 239.4L546.2 239.3L546.3 239.0L546.4 238.7L546.5 238.2L546.6 237.7L546.7 237.1L546.8 236.4L546.9 235.7L547.1 234.9L547.2 234.0L547.3 233.0L547.4 232.1L547.5 231.0L547.6 230.0L547.7 228.9L547.8 227.8L547.9 226.7L548.0 225.5L548.1 224.4L548.3 223.2L548.4 222.1L548.5 221.0L548.6 219.9L548.7 218.8L548.8 217.7L548.9 216.7L549.0 215.8L549.1 214.8L549.2 214.0L549.3 213.1L549.4 212.4L549.6 211.7L549.7 211.1L549.8 210.6L549.9 210.2L550.0 209.9L550.1 209.6L550.2 209.3L550.3 209.1L550.4 208.8L550.5 208.6L550.6 208.3L550.8 208.1L550.9 207.8L551.0 207.6L551.1 207.4L551.2 207.1L551.3 206.9L551.4 206.7L551.5 206.5L551.6 206.3L551.7 206.1L551.8 205.9L552.0 205.7L552.1 205.6L552.2 205.4L552.3 205.3L552.4 205.1L552.5 205.0L552.6 204.9L552.7 204.7L552.8 204.6L552.9 204.5L553.0 204.5L553.1 204.4L553.3 204.3L553.4 204.3L553.5 204.2L553.6 204.2L553.7 204.2L553.8 204.2" stroke="#edb120" stroke-width="0.8" marker-mid="url(#my)"/><circle cx="333.2" cy="218.4" r="1.5" fill="#d95319" fill-opacity="0.85"/><circle cx="346.4" cy="207.0" r="1.5" fill="#d95319" fill-opacity="0.85"/><circle cx="357.8" cy="201.9" r="1.5" fill="#d95319" fill-opacity="0.85"/><circle cx="361.8" cy="164.4" r="1.5" fill="#d95319" fill-opacity="0.85"/><circle cx="394" cy="151.8" r="1.5" fill="#d95319" fill-opacity="0.85"/><circle cx="416.5" cy="204.2" r="1.5" fill="#d95319" fill-opacity="0.85"/><circle cx="430.3" cy="151.8" r="1.5" fill="#d95319" fill-opacity="0.85"/><circle cx="433.6" cy="172.3" r="1.5" fill="#d95319" fill-opacity="0.85"/><circle cx="424" cy="239.4" r="1.5" fill="#d95319" fill-opacity="0.85"/><circle cx="534" cy="196.8" r="1.5" fill="#d95319" fill-opacity="0.85"/></g><path d="M325.3 193.9H553.8" stroke="#e0505a" stroke-width="1" stroke-dasharray="4.2 2.35" stroke-dashoffset="0.8" stroke-opacity="0.75"/><circle cx="325.3" cy="193.9" r="1.4" fill="#e03040"/><circle cx="553.8" cy="193.9" r="1.4" fill="#e03040"/><rect x="325.3" y="23.3" width="228.5" height="227.5" fill="none" stroke="#8a8a8a" stroke-width="0.9"/><path d="M325.3 250.8v-2.3M325.3 23.3v2.3M357.9 250.8v-2.3M357.9 23.3v2.3M390.6 250.8v-2.3M390.6 23.3v2.3M423.2 250.8v-2.3M423.2 23.3v2.3M455.9 250.8v-2.3M455.9 23.3v2.3M488.5 250.8v-2.3M488.5 23.3v2.3M521.2 250.8v-2.3M521.2 23.3v2.3M553.8 250.8v-2.3M553.8 23.3v2.3M325.3 250.8h2.3M553.8 250.8h-2.3M325.3 222.4h2.3M553.8 222.4h-2.3M325.3 193.9h2.3M553.8 193.9h-2.3M325.3 165.5h2.3M553.8 165.5h-2.3M325.3 137.1h2.3M553.8 137.1h-2.3M325.3 108.6h2.3M553.8 108.6h-2.3M325.3 80.2h2.3M553.8 80.2h-2.3M325.3 51.7h2.3M553.8 51.7h-2.3M325.3 23.3h2.3M553.8 23.3h-2.3" stroke="#8a8a8a" stroke-width="0.9" fill="none"/><g font-family="'Liberation Serif', serif" font-size="9.7" fill="#404040" text-anchor="middle" class="tl"><text x="325.3" y="263.2">400</text><text x="357.9" y="263.2">700</text><text x="390.6" y="263.2">1000</text><text x="423.2" y="263.2">1300</text><text x="455.9" y="263.2">1600</text><text x="488.5" y="263.2">1900</text><text x="521.2" y="263.2">2200</text><text x="553.8" y="263.2">2500</text></g><g font-family="'Liberation Serif', serif" font-size="9.7" fill="#404040" text-anchor="end" class="tl"><text x="322.2" y="254.1">0</text><text x="322.2" y="225.7">0.5</text><text x="322.2" y="197.2">1</text><text x="322.2" y="168.8">1.5</text><text x="322.2" y="140.4">2</text><text x="322.2" y="111.9">2.5</text><text x="322.2" y="83.5">3</text><text x="322.2" y="55.0">3.5</text><text x="322.2" y="26.6">4</text></g><text font-family="'Liberation Serif', serif" font-size="10.75" fill="#3a3a3a" text-anchor="middle" x="439.8" y="275.6">Wavelength [nm]</text><text font-family="'Liberation Serif', serif" font-size="10.6" fill="#3a3a3a" text-anchor="middle" transform="translate(307.2 135.6) rotate(-90)">VIP scores</text><rect x="572.3" y="115.5" width="110.8" height="46" fill="#fff" stroke="#8a8a8a" stroke-width="0.9"/><path d="M573.9 121.5H589.6" stroke="#0072bd" stroke-width="1" stroke-opacity="0.6"/><circle cx="581.6" cy="121.5" r="1.2" fill="#0072bd" fill-opacity="0.85"/><text font-family="'Liberation Serif', serif" font-size="9.85" fill="#3a3a3a" x="590.8" y="125.5">VIP Scores for C</text><path d="M573.9 132.8H589.6" stroke="#d95319" stroke-width="1" stroke-opacity="0.6"/><circle cx="581.6" cy="132.8" r="1.2" fill="#d95319" fill-opacity="0.85"/><text font-family="'Liberation Serif', serif" font-size="9.85" fill="#3a3a3a" x="590.8" y="136.8">VIP Scores for Pb [3]</text><path d="M573.9 144.1H589.6" stroke="#edb120" stroke-width="1" stroke-opacity="0.6"/><circle cx="581.6" cy="144.1" r="1.2" fill="#edb120" fill-opacity="0.85"/><text font-family="'Liberation Serif', serif" font-size="9.85" fill="#3a3a3a" x="590.8" y="148.1">VIP Scores for Pb [5]</text><path d="M573.9 155.4H589.6" stroke="#e0404a" stroke-width="1" stroke-opacity="0.6" stroke-dasharray="3.6 8.2"/><circle cx="581.6" cy="155.4" r="1.2" fill="#e0404a" fill-opacity="0.85"/><text font-family="'Liberation Serif', serif" font-size="9.85" fill="#3a3a3a" x="590.8" y="159.4">Significance Threshold</text><text font-family="'Liberation Serif', serif" font-size="12.6" fill="#222" x="0.3" y="9.8">a)</text><text font-family="'Liberation Serif', serif" font-size="13.2" fill="#222" x="290.2" y="9.7">b)</text></svg></body></html>
